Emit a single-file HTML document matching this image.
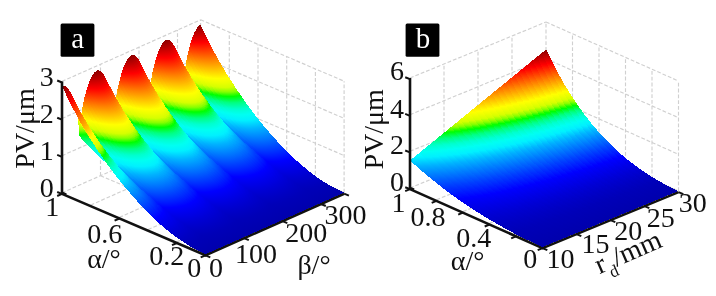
<!DOCTYPE html>
<html><head><meta charset="utf-8"><title>PV surfaces</title>
<style>
html,body{margin:0;padding:0;background:#fff;}
body{width:716px;height:296px;overflow:hidden;}
svg{display:block;}
text{font-family:"Liberation Serif","DejaVu Serif",serif;font-size:28px;fill:#111;}
.lab{fill:#fff;font-size:29px;}
</style></head><body>
<svg width="716" height="296" viewBox="0 0 716 296">
<defs>
<linearGradient id="a119" gradientUnits="userSpaceOnUse" x1="0" y1="24.9" x2="0" y2="192.9"><stop offset="0.000" stop-color="#8d0000"/><stop offset="0.049" stop-color="#c60000"/><stop offset="0.099" stop-color="#ff0000"/><stop offset="0.150" stop-color="#ff4000"/><stop offset="0.202" stop-color="#ff8000"/><stop offset="0.244" stop-color="#ffb100"/><stop offset="0.278" stop-color="#ffd800"/><stop offset="0.313" stop-color="#ffff00"/><stop offset="0.339" stop-color="#ecff00"/><stop offset="0.365" stop-color="#d5ff00"/><stop offset="0.392" stop-color="#87ff00"/><stop offset="0.419" stop-color="#00ff00"/><stop offset="0.455" stop-color="#00ff81"/><stop offset="0.492" stop-color="#00ffce"/><stop offset="0.524" stop-color="#00fff2"/><stop offset="0.558" stop-color="#00f0ff"/><stop offset="0.582" stop-color="#00d1ff"/><stop offset="0.606" stop-color="#00b2ff"/><stop offset="0.656" stop-color="#0080ff"/><stop offset="0.721" stop-color="#0040ff"/><stop offset="0.791" stop-color="#0000ff"/><stop offset="0.828" stop-color="#0000eb"/><stop offset="0.869" stop-color="#0000d6"/><stop offset="0.891" stop-color="#0000cc"/><stop offset="0.915" stop-color="#0000c2"/><stop offset="0.944" stop-color="#0000b8"/><stop offset="1.000" stop-color="#0000ad"/></linearGradient>
<linearGradient id="a118" gradientUnits="userSpaceOnUse" x1="0" y1="25.8" x2="0" y2="193.4"><stop offset="0.000" stop-color="#900000"/><stop offset="0.047" stop-color="#c60000"/><stop offset="0.097" stop-color="#ff0000"/><stop offset="0.148" stop-color="#ff4000"/><stop offset="0.200" stop-color="#ff8000"/><stop offset="0.242" stop-color="#ffb100"/><stop offset="0.276" stop-color="#ffd800"/><stop offset="0.311" stop-color="#ffff00"/><stop offset="0.337" stop-color="#ecff00"/><stop offset="0.363" stop-color="#d5ff00"/><stop offset="0.390" stop-color="#87ff00"/><stop offset="0.417" stop-color="#00ff00"/><stop offset="0.453" stop-color="#00ff81"/><stop offset="0.490" stop-color="#00ffce"/><stop offset="0.523" stop-color="#00fff2"/><stop offset="0.556" stop-color="#00f0ff"/><stop offset="0.581" stop-color="#00d1ff"/><stop offset="0.605" stop-color="#00b2ff"/><stop offset="0.655" stop-color="#0080ff"/><stop offset="0.720" stop-color="#0040ff"/><stop offset="0.790" stop-color="#0000ff"/><stop offset="0.828" stop-color="#0000eb"/><stop offset="0.868" stop-color="#0000d6"/><stop offset="0.891" stop-color="#0000cc"/><stop offset="0.915" stop-color="#0000c2"/><stop offset="0.944" stop-color="#0000b8"/><stop offset="1.000" stop-color="#0000ad"/></linearGradient>
<linearGradient id="a117" gradientUnits="userSpaceOnUse" x1="0" y1="27" x2="0" y2="193.9"><stop offset="0.000" stop-color="#960000"/><stop offset="0.041" stop-color="#c60000"/><stop offset="0.092" stop-color="#ff0000"/><stop offset="0.143" stop-color="#ff4000"/><stop offset="0.195" stop-color="#ff8000"/><stop offset="0.237" stop-color="#ffb100"/><stop offset="0.272" stop-color="#ffd800"/><stop offset="0.306" stop-color="#ffff00"/><stop offset="0.333" stop-color="#ecff00"/><stop offset="0.359" stop-color="#d5ff00"/><stop offset="0.386" stop-color="#87ff00"/><stop offset="0.413" stop-color="#00ff00"/><stop offset="0.450" stop-color="#00ff81"/><stop offset="0.487" stop-color="#00ffce"/><stop offset="0.520" stop-color="#00fff2"/><stop offset="0.554" stop-color="#00f0ff"/><stop offset="0.578" stop-color="#00d1ff"/><stop offset="0.603" stop-color="#00b2ff"/><stop offset="0.653" stop-color="#0080ff"/><stop offset="0.719" stop-color="#0040ff"/><stop offset="0.789" stop-color="#0000ff"/><stop offset="0.827" stop-color="#0000eb"/><stop offset="0.868" stop-color="#0000d6"/><stop offset="0.890" stop-color="#0000cc"/><stop offset="0.915" stop-color="#0000c2"/><stop offset="0.944" stop-color="#0000b8"/><stop offset="1.000" stop-color="#0000ad"/></linearGradient>
<linearGradient id="a116" gradientUnits="userSpaceOnUse" x1="0" y1="28.6" x2="0" y2="194.4"><stop offset="0.000" stop-color="#a00000"/><stop offset="0.033" stop-color="#c60000"/><stop offset="0.084" stop-color="#ff0000"/><stop offset="0.136" stop-color="#ff4000"/><stop offset="0.188" stop-color="#ff8000"/><stop offset="0.231" stop-color="#ffb100"/><stop offset="0.265" stop-color="#ffd800"/><stop offset="0.300" stop-color="#ffff00"/><stop offset="0.327" stop-color="#ecff00"/><stop offset="0.354" stop-color="#d5ff00"/><stop offset="0.381" stop-color="#87ff00"/><stop offset="0.408" stop-color="#00ff00"/><stop offset="0.445" stop-color="#00ff81"/><stop offset="0.483" stop-color="#00ffce"/><stop offset="0.516" stop-color="#00fff2"/><stop offset="0.550" stop-color="#00f0ff"/><stop offset="0.574" stop-color="#00d1ff"/><stop offset="0.599" stop-color="#00b2ff"/><stop offset="0.650" stop-color="#0080ff"/><stop offset="0.716" stop-color="#0040ff"/><stop offset="0.787" stop-color="#0000ff"/><stop offset="0.825" stop-color="#0000eb"/><stop offset="0.866" stop-color="#0000d6"/><stop offset="0.889" stop-color="#0000cc"/><stop offset="0.914" stop-color="#0000c2"/><stop offset="0.943" stop-color="#0000b8"/><stop offset="1.000" stop-color="#0000ad"/></linearGradient>
<linearGradient id="a115" gradientUnits="userSpaceOnUse" x1="0" y1="30.6" x2="0" y2="194.9"><stop offset="0.000" stop-color="#ac0000"/><stop offset="0.022" stop-color="#c60000"/><stop offset="0.074" stop-color="#ff0000"/><stop offset="0.126" stop-color="#ff4000"/><stop offset="0.179" stop-color="#ff8000"/><stop offset="0.222" stop-color="#ffb100"/><stop offset="0.257" stop-color="#ffd800"/><stop offset="0.292" stop-color="#ffff00"/><stop offset="0.319" stop-color="#ecff00"/><stop offset="0.346" stop-color="#d5ff00"/><stop offset="0.373" stop-color="#87ff00"/><stop offset="0.401" stop-color="#00ff00"/><stop offset="0.438" stop-color="#00ff81"/><stop offset="0.476" stop-color="#00ffce"/><stop offset="0.510" stop-color="#00fff2"/><stop offset="0.544" stop-color="#00f0ff"/><stop offset="0.569" stop-color="#00d1ff"/><stop offset="0.594" stop-color="#00b2ff"/><stop offset="0.646" stop-color="#0080ff"/><stop offset="0.713" stop-color="#0040ff"/><stop offset="0.784" stop-color="#0000ff"/><stop offset="0.823" stop-color="#0000eb"/><stop offset="0.865" stop-color="#0000d6"/><stop offset="0.888" stop-color="#0000cc"/><stop offset="0.913" stop-color="#0000c2"/><stop offset="0.943" stop-color="#0000b8"/><stop offset="1.000" stop-color="#0000ad"/></linearGradient>
<linearGradient id="a114" gradientUnits="userSpaceOnUse" x1="0" y1="33" x2="0" y2="195.4"><stop offset="0.000" stop-color="#bc0000"/><stop offset="0.008" stop-color="#c60000"/><stop offset="0.060" stop-color="#ff0000"/><stop offset="0.113" stop-color="#ff4000"/><stop offset="0.166" stop-color="#ff8000"/><stop offset="0.210" stop-color="#ffb100"/><stop offset="0.245" stop-color="#ffd800"/><stop offset="0.281" stop-color="#ffff00"/><stop offset="0.308" stop-color="#ecff00"/><stop offset="0.336" stop-color="#d5ff00"/><stop offset="0.363" stop-color="#87ff00"/><stop offset="0.391" stop-color="#00ff00"/><stop offset="0.429" stop-color="#00ff81"/><stop offset="0.468" stop-color="#00ffce"/><stop offset="0.502" stop-color="#00fff2"/><stop offset="0.537" stop-color="#00f0ff"/><stop offset="0.562" stop-color="#00d1ff"/><stop offset="0.588" stop-color="#00b2ff"/><stop offset="0.641" stop-color="#0080ff"/><stop offset="0.709" stop-color="#0040ff"/><stop offset="0.781" stop-color="#0000ff"/><stop offset="0.820" stop-color="#0000eb"/><stop offset="0.862" stop-color="#0000d6"/><stop offset="0.886" stop-color="#0000cc"/><stop offset="0.911" stop-color="#0000c2"/><stop offset="0.942" stop-color="#0000b8"/><stop offset="1.000" stop-color="#0000ad"/></linearGradient>
<linearGradient id="a113" gradientUnits="userSpaceOnUse" x1="0" y1="35.7" x2="0" y2="195.9"><stop offset="0.000" stop-color="#d00000"/><stop offset="0.043" stop-color="#ff0000"/><stop offset="0.097" stop-color="#ff4000"/><stop offset="0.151" stop-color="#ff8000"/><stop offset="0.195" stop-color="#ffb100"/><stop offset="0.231" stop-color="#ffd800"/><stop offset="0.267" stop-color="#ffff00"/><stop offset="0.295" stop-color="#ecff00"/><stop offset="0.323" stop-color="#d5ff00"/><stop offset="0.351" stop-color="#87ff00"/><stop offset="0.380" stop-color="#00ff00"/><stop offset="0.418" stop-color="#00ff81"/><stop offset="0.458" stop-color="#00ffce"/><stop offset="0.493" stop-color="#00fff2"/><stop offset="0.528" stop-color="#00f0ff"/><stop offset="0.554" stop-color="#00d1ff"/><stop offset="0.580" stop-color="#00b2ff"/><stop offset="0.634" stop-color="#0080ff"/><stop offset="0.703" stop-color="#0040ff"/><stop offset="0.777" stop-color="#0000ff"/><stop offset="0.817" stop-color="#0000eb"/><stop offset="0.860" stop-color="#0000d6"/><stop offset="0.883" stop-color="#0000cc"/><stop offset="0.910" stop-color="#0000c2"/><stop offset="0.940" stop-color="#0000b8"/><stop offset="1.000" stop-color="#0000ad"/></linearGradient>
<linearGradient id="a112" gradientUnits="userSpaceOnUse" x1="0" y1="38.9" x2="0" y2="196.5"><stop offset="0.000" stop-color="#e70000"/><stop offset="0.023" stop-color="#ff0000"/><stop offset="0.077" stop-color="#ff4000"/><stop offset="0.132" stop-color="#ff8000"/><stop offset="0.177" stop-color="#ffb100"/><stop offset="0.214" stop-color="#ffd800"/><stop offset="0.251" stop-color="#ffff00"/><stop offset="0.279" stop-color="#ecff00"/><stop offset="0.307" stop-color="#d5ff00"/><stop offset="0.336" stop-color="#87ff00"/><stop offset="0.365" stop-color="#00ff00"/><stop offset="0.405" stop-color="#00ff81"/><stop offset="0.445" stop-color="#00ffce"/><stop offset="0.481" stop-color="#00fff2"/><stop offset="0.517" stop-color="#00f0ff"/><stop offset="0.544" stop-color="#00d1ff"/><stop offset="0.571" stop-color="#00b2ff"/><stop offset="0.626" stop-color="#0080ff"/><stop offset="0.697" stop-color="#0040ff"/><stop offset="0.772" stop-color="#0000ff"/><stop offset="0.812" stop-color="#0000eb"/><stop offset="0.857" stop-color="#0000d6"/><stop offset="0.881" stop-color="#0000cc"/><stop offset="0.907" stop-color="#0000c2"/><stop offset="0.939" stop-color="#0000b8"/><stop offset="1.000" stop-color="#0000ad"/></linearGradient>
<linearGradient id="a111" gradientUnits="userSpaceOnUse" x1="0" y1="42.5" x2="0" y2="197"><stop offset="0.000" stop-color="#ff0200"/><stop offset="0.053" stop-color="#ff4000"/><stop offset="0.109" stop-color="#ff8000"/><stop offset="0.155" stop-color="#ffb100"/><stop offset="0.193" stop-color="#ffd800"/><stop offset="0.230" stop-color="#ffff00"/><stop offset="0.259" stop-color="#ecff00"/><stop offset="0.288" stop-color="#d5ff00"/><stop offset="0.318" stop-color="#87ff00"/><stop offset="0.348" stop-color="#00ff00"/><stop offset="0.388" stop-color="#00ff81"/><stop offset="0.430" stop-color="#00ffce"/><stop offset="0.467" stop-color="#00fff2"/><stop offset="0.504" stop-color="#00f0ff"/><stop offset="0.531" stop-color="#00d1ff"/><stop offset="0.559" stop-color="#00b2ff"/><stop offset="0.616" stop-color="#0080ff"/><stop offset="0.689" stop-color="#0040ff"/><stop offset="0.766" stop-color="#0000ff"/><stop offset="0.807" stop-color="#0000eb"/><stop offset="0.853" stop-color="#0000d6"/><stop offset="0.877" stop-color="#0000cc"/><stop offset="0.905" stop-color="#0000c2"/><stop offset="0.937" stop-color="#0000b8"/><stop offset="1.000" stop-color="#0000ad"/></linearGradient>
<linearGradient id="a110" gradientUnits="userSpaceOnUse" x1="0" y1="46.6" x2="0" y2="197.5"><stop offset="0.000" stop-color="#ff2400"/><stop offset="0.025" stop-color="#ff4000"/><stop offset="0.082" stop-color="#ff8000"/><stop offset="0.129" stop-color="#ffb100"/><stop offset="0.167" stop-color="#ffd800"/><stop offset="0.206" stop-color="#ffff00"/><stop offset="0.235" stop-color="#ecff00"/><stop offset="0.265" stop-color="#d5ff00"/><stop offset="0.296" stop-color="#87ff00"/><stop offset="0.326" stop-color="#00ff00"/><stop offset="0.368" stop-color="#00ff81"/><stop offset="0.411" stop-color="#00ffce"/><stop offset="0.449" stop-color="#00fff2"/><stop offset="0.488" stop-color="#00f0ff"/><stop offset="0.516" stop-color="#00d1ff"/><stop offset="0.545" stop-color="#00b2ff"/><stop offset="0.603" stop-color="#0080ff"/><stop offset="0.679" stop-color="#0040ff"/><stop offset="0.758" stop-color="#0000ff"/><stop offset="0.801" stop-color="#0000eb"/><stop offset="0.848" stop-color="#0000d6"/><stop offset="0.873" stop-color="#0000cc"/><stop offset="0.902" stop-color="#0000c2"/><stop offset="0.935" stop-color="#0000b8"/><stop offset="1.000" stop-color="#0000ad"/></linearGradient>
<linearGradient id="a109" gradientUnits="userSpaceOnUse" x1="0" y1="51.1" x2="0" y2="198"><stop offset="0.000" stop-color="#ff4b00"/><stop offset="0.049" stop-color="#ff8000"/><stop offset="0.097" stop-color="#ffb100"/><stop offset="0.136" stop-color="#ffd800"/><stop offset="0.176" stop-color="#ffff00"/><stop offset="0.206" stop-color="#ecff00"/><stop offset="0.237" stop-color="#d5ff00"/><stop offset="0.268" stop-color="#87ff00"/><stop offset="0.300" stop-color="#00ff00"/><stop offset="0.343" stop-color="#00ff81"/><stop offset="0.388" stop-color="#00ffce"/><stop offset="0.427" stop-color="#00fff2"/><stop offset="0.468" stop-color="#00f0ff"/><stop offset="0.497" stop-color="#00d1ff"/><stop offset="0.527" stop-color="#00b2ff"/><stop offset="0.589" stop-color="#0080ff"/><stop offset="0.668" stop-color="#0040ff"/><stop offset="0.750" stop-color="#0000ff"/><stop offset="0.794" stop-color="#0000eb"/><stop offset="0.842" stop-color="#0000d6"/><stop offset="0.869" stop-color="#0000cc"/><stop offset="0.898" stop-color="#0000c2"/><stop offset="0.932" stop-color="#0000b8"/><stop offset="1.000" stop-color="#0000ad"/></linearGradient>
<linearGradient id="a108" gradientUnits="userSpaceOnUse" x1="0" y1="56.3" x2="0" y2="198.5"><stop offset="0.000" stop-color="#ff7800"/><stop offset="0.008" stop-color="#ff8000"/><stop offset="0.057" stop-color="#ffb100"/><stop offset="0.097" stop-color="#ffd800"/><stop offset="0.138" stop-color="#ffff00"/><stop offset="0.170" stop-color="#ecff00"/><stop offset="0.202" stop-color="#d5ff00"/><stop offset="0.234" stop-color="#87ff00"/><stop offset="0.267" stop-color="#00ff00"/><stop offset="0.312" stop-color="#00ff81"/><stop offset="0.359" stop-color="#00ffce"/><stop offset="0.400" stop-color="#00fff2"/><stop offset="0.443" stop-color="#00f0ff"/><stop offset="0.474" stop-color="#00d1ff"/><stop offset="0.505" stop-color="#00b2ff"/><stop offset="0.570" stop-color="#0080ff"/><stop offset="0.654" stop-color="#0040ff"/><stop offset="0.739" stop-color="#0000ff"/><stop offset="0.785" stop-color="#0000eb"/><stop offset="0.835" stop-color="#0000d6"/><stop offset="0.863" stop-color="#0000cc"/><stop offset="0.893" stop-color="#0000c2"/><stop offset="0.929" stop-color="#0000b8"/><stop offset="1.000" stop-color="#0000ad"/></linearGradient>
<linearGradient id="a107" gradientUnits="userSpaceOnUse" x1="0" y1="62.3" x2="0" y2="199"><stop offset="0.000" stop-color="#ffaa00"/><stop offset="0.007" stop-color="#ffb100"/><stop offset="0.048" stop-color="#ffd800"/><stop offset="0.091" stop-color="#ffff00"/><stop offset="0.124" stop-color="#ecff00"/><stop offset="0.157" stop-color="#d5ff00"/><stop offset="0.191" stop-color="#87ff00"/><stop offset="0.225" stop-color="#00ff00"/><stop offset="0.272" stop-color="#00ff81"/><stop offset="0.321" stop-color="#00ffce"/><stop offset="0.365" stop-color="#00fff2"/><stop offset="0.410" stop-color="#00f0ff"/><stop offset="0.443" stop-color="#00d1ff"/><stop offset="0.477" stop-color="#00b2ff"/><stop offset="0.546" stop-color="#0080ff"/><stop offset="0.636" stop-color="#0040ff"/><stop offset="0.725" stop-color="#0000ff"/><stop offset="0.773" stop-color="#0000eb"/><stop offset="0.826" stop-color="#0000d6"/><stop offset="0.855" stop-color="#0000cc"/><stop offset="0.887" stop-color="#0000c2"/><stop offset="0.925" stop-color="#0000b8"/><stop offset="1.000" stop-color="#0000ad"/></linearGradient>
<linearGradient id="a106" gradientUnits="userSpaceOnUse" x1="0" y1="69.5" x2="0" y2="199.5"><stop offset="0.000" stop-color="#ffe700"/><stop offset="0.027" stop-color="#ffff00"/><stop offset="0.061" stop-color="#ecff00"/><stop offset="0.096" stop-color="#d5ff00"/><stop offset="0.131" stop-color="#87ff00"/><stop offset="0.167" stop-color="#00ff00"/><stop offset="0.217" stop-color="#00ff81"/><stop offset="0.269" stop-color="#00ffce"/><stop offset="0.316" stop-color="#00fff2"/><stop offset="0.365" stop-color="#00f0ff"/><stop offset="0.400" stop-color="#00d1ff"/><stop offset="0.437" stop-color="#00b2ff"/><stop offset="0.512" stop-color="#0080ff"/><stop offset="0.611" stop-color="#0040ff"/><stop offset="0.707" stop-color="#0000ff"/><stop offset="0.758" stop-color="#0000eb"/><stop offset="0.814" stop-color="#0000d6"/><stop offset="0.845" stop-color="#0000cc"/><stop offset="0.880" stop-color="#0000c2"/><stop offset="0.920" stop-color="#0000b8"/><stop offset="1.000" stop-color="#0000ad"/></linearGradient>
<linearGradient id="a105" gradientUnits="userSpaceOnUse" x1="0" y1="79.2" x2="0" y2="200"><stop offset="0.000" stop-color="#d0ff00"/><stop offset="0.035" stop-color="#87ff00"/><stop offset="0.073" stop-color="#00ff00"/><stop offset="0.127" stop-color="#00ff81"/><stop offset="0.183" stop-color="#00ffce"/><stop offset="0.234" stop-color="#00fff2"/><stop offset="0.288" stop-color="#00f0ff"/><stop offset="0.329" stop-color="#00d1ff"/><stop offset="0.370" stop-color="#00b2ff"/><stop offset="0.457" stop-color="#0080ff"/><stop offset="0.571" stop-color="#0040ff"/><stop offset="0.679" stop-color="#0000ff"/><stop offset="0.735" stop-color="#0000eb"/><stop offset="0.796" stop-color="#0000d6"/><stop offset="0.830" stop-color="#0000cc"/><stop offset="0.867" stop-color="#0000c2"/><stop offset="0.912" stop-color="#0000b8"/><stop offset="1.000" stop-color="#0000ad"/></linearGradient>
<linearGradient id="a104" gradientUnits="userSpaceOnUse" x1="0" y1="79.7" x2="0" y2="200.6"><stop offset="0.000" stop-color="#d0ff00"/><stop offset="0.035" stop-color="#87ff00"/><stop offset="0.073" stop-color="#00ff00"/><stop offset="0.127" stop-color="#00ff81"/><stop offset="0.183" stop-color="#00ffce"/><stop offset="0.234" stop-color="#00fff2"/><stop offset="0.288" stop-color="#00f0ff"/><stop offset="0.329" stop-color="#00d1ff"/><stop offset="0.370" stop-color="#00b2ff"/><stop offset="0.457" stop-color="#0080ff"/><stop offset="0.571" stop-color="#0040ff"/><stop offset="0.679" stop-color="#0000ff"/><stop offset="0.735" stop-color="#0000eb"/><stop offset="0.796" stop-color="#0000d6"/><stop offset="0.830" stop-color="#0000cc"/><stop offset="0.867" stop-color="#0000c2"/><stop offset="0.912" stop-color="#0000b8"/><stop offset="1.000" stop-color="#0000ad"/></linearGradient>
<linearGradient id="a103" gradientUnits="userSpaceOnUse" x1="0" y1="71" x2="0" y2="201.1"><stop offset="0.000" stop-color="#ffe700"/><stop offset="0.027" stop-color="#ffff00"/><stop offset="0.061" stop-color="#ecff00"/><stop offset="0.096" stop-color="#d5ff00"/><stop offset="0.131" stop-color="#87ff00"/><stop offset="0.167" stop-color="#00ff00"/><stop offset="0.217" stop-color="#00ff81"/><stop offset="0.269" stop-color="#00ffce"/><stop offset="0.316" stop-color="#00fff2"/><stop offset="0.365" stop-color="#00f0ff"/><stop offset="0.400" stop-color="#00d1ff"/><stop offset="0.437" stop-color="#00b2ff"/><stop offset="0.512" stop-color="#0080ff"/><stop offset="0.611" stop-color="#0040ff"/><stop offset="0.707" stop-color="#0000ff"/><stop offset="0.758" stop-color="#0000eb"/><stop offset="0.814" stop-color="#0000d6"/><stop offset="0.845" stop-color="#0000cc"/><stop offset="0.880" stop-color="#0000c2"/><stop offset="0.920" stop-color="#0000b8"/><stop offset="1.000" stop-color="#0000ad"/></linearGradient>
<linearGradient id="a102" gradientUnits="userSpaceOnUse" x1="0" y1="64.8" x2="0" y2="201.6"><stop offset="0.000" stop-color="#ffaa00"/><stop offset="0.007" stop-color="#ffb100"/><stop offset="0.048" stop-color="#ffd800"/><stop offset="0.091" stop-color="#ffff00"/><stop offset="0.124" stop-color="#ecff00"/><stop offset="0.157" stop-color="#d5ff00"/><stop offset="0.191" stop-color="#87ff00"/><stop offset="0.225" stop-color="#00ff00"/><stop offset="0.272" stop-color="#00ff81"/><stop offset="0.321" stop-color="#00ffce"/><stop offset="0.365" stop-color="#00fff2"/><stop offset="0.410" stop-color="#00f0ff"/><stop offset="0.443" stop-color="#00d1ff"/><stop offset="0.477" stop-color="#00b2ff"/><stop offset="0.546" stop-color="#0080ff"/><stop offset="0.636" stop-color="#0040ff"/><stop offset="0.725" stop-color="#0000ff"/><stop offset="0.773" stop-color="#0000eb"/><stop offset="0.826" stop-color="#0000d6"/><stop offset="0.855" stop-color="#0000cc"/><stop offset="0.887" stop-color="#0000c2"/><stop offset="0.925" stop-color="#0000b8"/><stop offset="1.000" stop-color="#0000ad"/></linearGradient>
<linearGradient id="a101" gradientUnits="userSpaceOnUse" x1="0" y1="59.9" x2="0" y2="202.1"><stop offset="0.000" stop-color="#ff7800"/><stop offset="0.008" stop-color="#ff8000"/><stop offset="0.057" stop-color="#ffb100"/><stop offset="0.097" stop-color="#ffd800"/><stop offset="0.138" stop-color="#ffff00"/><stop offset="0.170" stop-color="#ecff00"/><stop offset="0.202" stop-color="#d5ff00"/><stop offset="0.234" stop-color="#87ff00"/><stop offset="0.267" stop-color="#00ff00"/><stop offset="0.312" stop-color="#00ff81"/><stop offset="0.359" stop-color="#00ffce"/><stop offset="0.400" stop-color="#00fff2"/><stop offset="0.443" stop-color="#00f0ff"/><stop offset="0.474" stop-color="#00d1ff"/><stop offset="0.505" stop-color="#00b2ff"/><stop offset="0.570" stop-color="#0080ff"/><stop offset="0.654" stop-color="#0040ff"/><stop offset="0.739" stop-color="#0000ff"/><stop offset="0.785" stop-color="#0000eb"/><stop offset="0.835" stop-color="#0000d6"/><stop offset="0.863" stop-color="#0000cc"/><stop offset="0.893" stop-color="#0000c2"/><stop offset="0.929" stop-color="#0000b8"/><stop offset="1.000" stop-color="#0000ad"/></linearGradient>
<linearGradient id="a100" gradientUnits="userSpaceOnUse" x1="0" y1="55.7" x2="0" y2="202.6"><stop offset="0.000" stop-color="#ff4b00"/><stop offset="0.049" stop-color="#ff8000"/><stop offset="0.097" stop-color="#ffb100"/><stop offset="0.136" stop-color="#ffd800"/><stop offset="0.176" stop-color="#ffff00"/><stop offset="0.206" stop-color="#ecff00"/><stop offset="0.237" stop-color="#d5ff00"/><stop offset="0.268" stop-color="#87ff00"/><stop offset="0.300" stop-color="#00ff00"/><stop offset="0.343" stop-color="#00ff81"/><stop offset="0.388" stop-color="#00ffce"/><stop offset="0.427" stop-color="#00fff2"/><stop offset="0.468" stop-color="#00f0ff"/><stop offset="0.497" stop-color="#00d1ff"/><stop offset="0.527" stop-color="#00b2ff"/><stop offset="0.589" stop-color="#0080ff"/><stop offset="0.668" stop-color="#0040ff"/><stop offset="0.750" stop-color="#0000ff"/><stop offset="0.794" stop-color="#0000eb"/><stop offset="0.842" stop-color="#0000d6"/><stop offset="0.869" stop-color="#0000cc"/><stop offset="0.898" stop-color="#0000c2"/><stop offset="0.932" stop-color="#0000b8"/><stop offset="1.000" stop-color="#0000ad"/></linearGradient>
<linearGradient id="a99" gradientUnits="userSpaceOnUse" x1="0" y1="52.2" x2="0" y2="203.1"><stop offset="0.000" stop-color="#ff2400"/><stop offset="0.025" stop-color="#ff4000"/><stop offset="0.082" stop-color="#ff8000"/><stop offset="0.129" stop-color="#ffb100"/><stop offset="0.167" stop-color="#ffd800"/><stop offset="0.206" stop-color="#ffff00"/><stop offset="0.235" stop-color="#ecff00"/><stop offset="0.265" stop-color="#d5ff00"/><stop offset="0.296" stop-color="#87ff00"/><stop offset="0.326" stop-color="#00ff00"/><stop offset="0.368" stop-color="#00ff81"/><stop offset="0.411" stop-color="#00ffce"/><stop offset="0.449" stop-color="#00fff2"/><stop offset="0.488" stop-color="#00f0ff"/><stop offset="0.516" stop-color="#00d1ff"/><stop offset="0.545" stop-color="#00b2ff"/><stop offset="0.603" stop-color="#0080ff"/><stop offset="0.679" stop-color="#0040ff"/><stop offset="0.758" stop-color="#0000ff"/><stop offset="0.801" stop-color="#0000eb"/><stop offset="0.848" stop-color="#0000d6"/><stop offset="0.873" stop-color="#0000cc"/><stop offset="0.902" stop-color="#0000c2"/><stop offset="0.935" stop-color="#0000b8"/><stop offset="1.000" stop-color="#0000ad"/></linearGradient>
<linearGradient id="a98" gradientUnits="userSpaceOnUse" x1="0" y1="49.2" x2="0" y2="203.6"><stop offset="0.000" stop-color="#ff0200"/><stop offset="0.053" stop-color="#ff4000"/><stop offset="0.109" stop-color="#ff8000"/><stop offset="0.155" stop-color="#ffb100"/><stop offset="0.193" stop-color="#ffd800"/><stop offset="0.230" stop-color="#ffff00"/><stop offset="0.259" stop-color="#ecff00"/><stop offset="0.288" stop-color="#d5ff00"/><stop offset="0.318" stop-color="#87ff00"/><stop offset="0.348" stop-color="#00ff00"/><stop offset="0.388" stop-color="#00ff81"/><stop offset="0.430" stop-color="#00ffce"/><stop offset="0.467" stop-color="#00fff2"/><stop offset="0.504" stop-color="#00f0ff"/><stop offset="0.531" stop-color="#00d1ff"/><stop offset="0.559" stop-color="#00b2ff"/><stop offset="0.616" stop-color="#0080ff"/><stop offset="0.689" stop-color="#0040ff"/><stop offset="0.766" stop-color="#0000ff"/><stop offset="0.807" stop-color="#0000eb"/><stop offset="0.853" stop-color="#0000d6"/><stop offset="0.877" stop-color="#0000cc"/><stop offset="0.905" stop-color="#0000c2"/><stop offset="0.937" stop-color="#0000b8"/><stop offset="1.000" stop-color="#0000ad"/></linearGradient>
<linearGradient id="a97" gradientUnits="userSpaceOnUse" x1="0" y1="46.6" x2="0" y2="204.2"><stop offset="0.000" stop-color="#e70000"/><stop offset="0.023" stop-color="#ff0000"/><stop offset="0.077" stop-color="#ff4000"/><stop offset="0.132" stop-color="#ff8000"/><stop offset="0.177" stop-color="#ffb100"/><stop offset="0.214" stop-color="#ffd800"/><stop offset="0.251" stop-color="#ffff00"/><stop offset="0.279" stop-color="#ecff00"/><stop offset="0.307" stop-color="#d5ff00"/><stop offset="0.336" stop-color="#87ff00"/><stop offset="0.365" stop-color="#00ff00"/><stop offset="0.405" stop-color="#00ff81"/><stop offset="0.445" stop-color="#00ffce"/><stop offset="0.481" stop-color="#00fff2"/><stop offset="0.517" stop-color="#00f0ff"/><stop offset="0.544" stop-color="#00d1ff"/><stop offset="0.571" stop-color="#00b2ff"/><stop offset="0.626" stop-color="#0080ff"/><stop offset="0.697" stop-color="#0040ff"/><stop offset="0.772" stop-color="#0000ff"/><stop offset="0.812" stop-color="#0000eb"/><stop offset="0.857" stop-color="#0000d6"/><stop offset="0.881" stop-color="#0000cc"/><stop offset="0.907" stop-color="#0000c2"/><stop offset="0.939" stop-color="#0000b8"/><stop offset="1.000" stop-color="#0000ad"/></linearGradient>
<linearGradient id="a96" gradientUnits="userSpaceOnUse" x1="0" y1="44.5" x2="0" y2="204.7"><stop offset="0.000" stop-color="#d00000"/><stop offset="0.043" stop-color="#ff0000"/><stop offset="0.097" stop-color="#ff4000"/><stop offset="0.151" stop-color="#ff8000"/><stop offset="0.195" stop-color="#ffb100"/><stop offset="0.231" stop-color="#ffd800"/><stop offset="0.267" stop-color="#ffff00"/><stop offset="0.295" stop-color="#ecff00"/><stop offset="0.323" stop-color="#d5ff00"/><stop offset="0.351" stop-color="#87ff00"/><stop offset="0.380" stop-color="#00ff00"/><stop offset="0.418" stop-color="#00ff81"/><stop offset="0.458" stop-color="#00ffce"/><stop offset="0.493" stop-color="#00fff2"/><stop offset="0.528" stop-color="#00f0ff"/><stop offset="0.554" stop-color="#00d1ff"/><stop offset="0.580" stop-color="#00b2ff"/><stop offset="0.634" stop-color="#0080ff"/><stop offset="0.703" stop-color="#0040ff"/><stop offset="0.777" stop-color="#0000ff"/><stop offset="0.817" stop-color="#0000eb"/><stop offset="0.860" stop-color="#0000d6"/><stop offset="0.883" stop-color="#0000cc"/><stop offset="0.910" stop-color="#0000c2"/><stop offset="0.940" stop-color="#0000b8"/><stop offset="1.000" stop-color="#0000ad"/></linearGradient>
<linearGradient id="a95" gradientUnits="userSpaceOnUse" x1="0" y1="42.7" x2="0" y2="205.2"><stop offset="0.000" stop-color="#bc0000"/><stop offset="0.008" stop-color="#c60000"/><stop offset="0.060" stop-color="#ff0000"/><stop offset="0.113" stop-color="#ff4000"/><stop offset="0.166" stop-color="#ff8000"/><stop offset="0.210" stop-color="#ffb100"/><stop offset="0.245" stop-color="#ffd800"/><stop offset="0.281" stop-color="#ffff00"/><stop offset="0.308" stop-color="#ecff00"/><stop offset="0.336" stop-color="#d5ff00"/><stop offset="0.363" stop-color="#87ff00"/><stop offset="0.391" stop-color="#00ff00"/><stop offset="0.429" stop-color="#00ff81"/><stop offset="0.468" stop-color="#00ffce"/><stop offset="0.502" stop-color="#00fff2"/><stop offset="0.537" stop-color="#00f0ff"/><stop offset="0.562" stop-color="#00d1ff"/><stop offset="0.588" stop-color="#00b2ff"/><stop offset="0.641" stop-color="#0080ff"/><stop offset="0.709" stop-color="#0040ff"/><stop offset="0.781" stop-color="#0000ff"/><stop offset="0.820" stop-color="#0000eb"/><stop offset="0.862" stop-color="#0000d6"/><stop offset="0.886" stop-color="#0000cc"/><stop offset="0.911" stop-color="#0000c2"/><stop offset="0.942" stop-color="#0000b8"/><stop offset="1.000" stop-color="#0000ad"/></linearGradient>
<linearGradient id="a94" gradientUnits="userSpaceOnUse" x1="0" y1="41.4" x2="0" y2="205.7"><stop offset="0.000" stop-color="#ac0000"/><stop offset="0.022" stop-color="#c60000"/><stop offset="0.074" stop-color="#ff0000"/><stop offset="0.126" stop-color="#ff4000"/><stop offset="0.179" stop-color="#ff8000"/><stop offset="0.222" stop-color="#ffb100"/><stop offset="0.257" stop-color="#ffd800"/><stop offset="0.292" stop-color="#ffff00"/><stop offset="0.319" stop-color="#ecff00"/><stop offset="0.346" stop-color="#d5ff00"/><stop offset="0.373" stop-color="#87ff00"/><stop offset="0.401" stop-color="#00ff00"/><stop offset="0.438" stop-color="#00ff81"/><stop offset="0.476" stop-color="#00ffce"/><stop offset="0.510" stop-color="#00fff2"/><stop offset="0.544" stop-color="#00f0ff"/><stop offset="0.569" stop-color="#00d1ff"/><stop offset="0.594" stop-color="#00b2ff"/><stop offset="0.646" stop-color="#0080ff"/><stop offset="0.713" stop-color="#0040ff"/><stop offset="0.784" stop-color="#0000ff"/><stop offset="0.823" stop-color="#0000eb"/><stop offset="0.865" stop-color="#0000d6"/><stop offset="0.888" stop-color="#0000cc"/><stop offset="0.913" stop-color="#0000c2"/><stop offset="0.943" stop-color="#0000b8"/><stop offset="1.000" stop-color="#0000ad"/></linearGradient>
<linearGradient id="a93" gradientUnits="userSpaceOnUse" x1="0" y1="40.4" x2="0" y2="206.2"><stop offset="0.000" stop-color="#a00000"/><stop offset="0.033" stop-color="#c60000"/><stop offset="0.084" stop-color="#ff0000"/><stop offset="0.136" stop-color="#ff4000"/><stop offset="0.188" stop-color="#ff8000"/><stop offset="0.231" stop-color="#ffb100"/><stop offset="0.265" stop-color="#ffd800"/><stop offset="0.300" stop-color="#ffff00"/><stop offset="0.327" stop-color="#ecff00"/><stop offset="0.354" stop-color="#d5ff00"/><stop offset="0.381" stop-color="#87ff00"/><stop offset="0.408" stop-color="#00ff00"/><stop offset="0.445" stop-color="#00ff81"/><stop offset="0.483" stop-color="#00ffce"/><stop offset="0.516" stop-color="#00fff2"/><stop offset="0.550" stop-color="#00f0ff"/><stop offset="0.574" stop-color="#00d1ff"/><stop offset="0.599" stop-color="#00b2ff"/><stop offset="0.650" stop-color="#0080ff"/><stop offset="0.716" stop-color="#0040ff"/><stop offset="0.787" stop-color="#0000ff"/><stop offset="0.825" stop-color="#0000eb"/><stop offset="0.866" stop-color="#0000d6"/><stop offset="0.889" stop-color="#0000cc"/><stop offset="0.914" stop-color="#0000c2"/><stop offset="0.943" stop-color="#0000b8"/><stop offset="1.000" stop-color="#0000ad"/></linearGradient>
<linearGradient id="a92" gradientUnits="userSpaceOnUse" x1="0" y1="39.8" x2="0" y2="206.7"><stop offset="0.000" stop-color="#960000"/><stop offset="0.041" stop-color="#c60000"/><stop offset="0.092" stop-color="#ff0000"/><stop offset="0.143" stop-color="#ff4000"/><stop offset="0.195" stop-color="#ff8000"/><stop offset="0.237" stop-color="#ffb100"/><stop offset="0.272" stop-color="#ffd800"/><stop offset="0.306" stop-color="#ffff00"/><stop offset="0.333" stop-color="#ecff00"/><stop offset="0.359" stop-color="#d5ff00"/><stop offset="0.386" stop-color="#87ff00"/><stop offset="0.413" stop-color="#00ff00"/><stop offset="0.450" stop-color="#00ff81"/><stop offset="0.487" stop-color="#00ffce"/><stop offset="0.520" stop-color="#00fff2"/><stop offset="0.554" stop-color="#00f0ff"/><stop offset="0.578" stop-color="#00d1ff"/><stop offset="0.603" stop-color="#00b2ff"/><stop offset="0.653" stop-color="#0080ff"/><stop offset="0.719" stop-color="#0040ff"/><stop offset="0.789" stop-color="#0000ff"/><stop offset="0.827" stop-color="#0000eb"/><stop offset="0.868" stop-color="#0000d6"/><stop offset="0.890" stop-color="#0000cc"/><stop offset="0.915" stop-color="#0000c2"/><stop offset="0.944" stop-color="#0000b8"/><stop offset="1.000" stop-color="#0000ad"/></linearGradient>
<linearGradient id="a91" gradientUnits="userSpaceOnUse" x1="0" y1="39.6" x2="0" y2="207.2"><stop offset="0.000" stop-color="#900000"/><stop offset="0.047" stop-color="#c60000"/><stop offset="0.097" stop-color="#ff0000"/><stop offset="0.148" stop-color="#ff4000"/><stop offset="0.200" stop-color="#ff8000"/><stop offset="0.242" stop-color="#ffb100"/><stop offset="0.276" stop-color="#ffd800"/><stop offset="0.311" stop-color="#ffff00"/><stop offset="0.337" stop-color="#ecff00"/><stop offset="0.363" stop-color="#d5ff00"/><stop offset="0.390" stop-color="#87ff00"/><stop offset="0.417" stop-color="#00ff00"/><stop offset="0.453" stop-color="#00ff81"/><stop offset="0.490" stop-color="#00ffce"/><stop offset="0.523" stop-color="#00fff2"/><stop offset="0.556" stop-color="#00f0ff"/><stop offset="0.581" stop-color="#00d1ff"/><stop offset="0.605" stop-color="#00b2ff"/><stop offset="0.655" stop-color="#0080ff"/><stop offset="0.720" stop-color="#0040ff"/><stop offset="0.790" stop-color="#0000ff"/><stop offset="0.828" stop-color="#0000eb"/><stop offset="0.868" stop-color="#0000d6"/><stop offset="0.891" stop-color="#0000cc"/><stop offset="0.915" stop-color="#0000c2"/><stop offset="0.944" stop-color="#0000b8"/><stop offset="1.000" stop-color="#0000ad"/></linearGradient>
<linearGradient id="a90" gradientUnits="userSpaceOnUse" x1="0" y1="39.8" x2="0" y2="207.7"><stop offset="0.000" stop-color="#8d0000"/><stop offset="0.049" stop-color="#c60000"/><stop offset="0.099" stop-color="#ff0000"/><stop offset="0.150" stop-color="#ff4000"/><stop offset="0.202" stop-color="#ff8000"/><stop offset="0.244" stop-color="#ffb100"/><stop offset="0.278" stop-color="#ffd800"/><stop offset="0.313" stop-color="#ffff00"/><stop offset="0.339" stop-color="#ecff00"/><stop offset="0.365" stop-color="#d5ff00"/><stop offset="0.392" stop-color="#87ff00"/><stop offset="0.419" stop-color="#00ff00"/><stop offset="0.455" stop-color="#00ff81"/><stop offset="0.492" stop-color="#00ffce"/><stop offset="0.524" stop-color="#00fff2"/><stop offset="0.558" stop-color="#00f0ff"/><stop offset="0.582" stop-color="#00d1ff"/><stop offset="0.606" stop-color="#00b2ff"/><stop offset="0.656" stop-color="#0080ff"/><stop offset="0.721" stop-color="#0040ff"/><stop offset="0.791" stop-color="#0000ff"/><stop offset="0.828" stop-color="#0000eb"/><stop offset="0.869" stop-color="#0000d6"/><stop offset="0.891" stop-color="#0000cc"/><stop offset="0.915" stop-color="#0000c2"/><stop offset="0.944" stop-color="#0000b8"/><stop offset="1.000" stop-color="#0000ad"/></linearGradient>
<linearGradient id="a89" gradientUnits="userSpaceOnUse" x1="0" y1="40.3" x2="0" y2="208.3"><stop offset="0.000" stop-color="#8d0000"/><stop offset="0.049" stop-color="#c60000"/><stop offset="0.099" stop-color="#ff0000"/><stop offset="0.150" stop-color="#ff4000"/><stop offset="0.202" stop-color="#ff8000"/><stop offset="0.244" stop-color="#ffb100"/><stop offset="0.278" stop-color="#ffd800"/><stop offset="0.313" stop-color="#ffff00"/><stop offset="0.339" stop-color="#ecff00"/><stop offset="0.365" stop-color="#d5ff00"/><stop offset="0.392" stop-color="#87ff00"/><stop offset="0.419" stop-color="#00ff00"/><stop offset="0.455" stop-color="#00ff81"/><stop offset="0.492" stop-color="#00ffce"/><stop offset="0.524" stop-color="#00fff2"/><stop offset="0.558" stop-color="#00f0ff"/><stop offset="0.582" stop-color="#00d1ff"/><stop offset="0.606" stop-color="#00b2ff"/><stop offset="0.656" stop-color="#0080ff"/><stop offset="0.721" stop-color="#0040ff"/><stop offset="0.791" stop-color="#0000ff"/><stop offset="0.828" stop-color="#0000eb"/><stop offset="0.869" stop-color="#0000d6"/><stop offset="0.891" stop-color="#0000cc"/><stop offset="0.915" stop-color="#0000c2"/><stop offset="0.944" stop-color="#0000b8"/><stop offset="1.000" stop-color="#0000ad"/></linearGradient>
<linearGradient id="a88" gradientUnits="userSpaceOnUse" x1="0" y1="41.2" x2="0" y2="208.8"><stop offset="0.000" stop-color="#900000"/><stop offset="0.047" stop-color="#c60000"/><stop offset="0.097" stop-color="#ff0000"/><stop offset="0.148" stop-color="#ff4000"/><stop offset="0.200" stop-color="#ff8000"/><stop offset="0.242" stop-color="#ffb100"/><stop offset="0.276" stop-color="#ffd800"/><stop offset="0.311" stop-color="#ffff00"/><stop offset="0.337" stop-color="#ecff00"/><stop offset="0.363" stop-color="#d5ff00"/><stop offset="0.390" stop-color="#87ff00"/><stop offset="0.417" stop-color="#00ff00"/><stop offset="0.453" stop-color="#00ff81"/><stop offset="0.490" stop-color="#00ffce"/><stop offset="0.523" stop-color="#00fff2"/><stop offset="0.556" stop-color="#00f0ff"/><stop offset="0.581" stop-color="#00d1ff"/><stop offset="0.605" stop-color="#00b2ff"/><stop offset="0.655" stop-color="#0080ff"/><stop offset="0.720" stop-color="#0040ff"/><stop offset="0.790" stop-color="#0000ff"/><stop offset="0.828" stop-color="#0000eb"/><stop offset="0.868" stop-color="#0000d6"/><stop offset="0.891" stop-color="#0000cc"/><stop offset="0.915" stop-color="#0000c2"/><stop offset="0.944" stop-color="#0000b8"/><stop offset="1.000" stop-color="#0000ad"/></linearGradient>
<linearGradient id="a87" gradientUnits="userSpaceOnUse" x1="0" y1="42.4" x2="0" y2="209.3"><stop offset="0.000" stop-color="#960000"/><stop offset="0.041" stop-color="#c60000"/><stop offset="0.092" stop-color="#ff0000"/><stop offset="0.143" stop-color="#ff4000"/><stop offset="0.195" stop-color="#ff8000"/><stop offset="0.237" stop-color="#ffb100"/><stop offset="0.272" stop-color="#ffd800"/><stop offset="0.306" stop-color="#ffff00"/><stop offset="0.333" stop-color="#ecff00"/><stop offset="0.359" stop-color="#d5ff00"/><stop offset="0.386" stop-color="#87ff00"/><stop offset="0.413" stop-color="#00ff00"/><stop offset="0.450" stop-color="#00ff81"/><stop offset="0.487" stop-color="#00ffce"/><stop offset="0.520" stop-color="#00fff2"/><stop offset="0.554" stop-color="#00f0ff"/><stop offset="0.578" stop-color="#00d1ff"/><stop offset="0.603" stop-color="#00b2ff"/><stop offset="0.653" stop-color="#0080ff"/><stop offset="0.719" stop-color="#0040ff"/><stop offset="0.789" stop-color="#0000ff"/><stop offset="0.827" stop-color="#0000eb"/><stop offset="0.868" stop-color="#0000d6"/><stop offset="0.890" stop-color="#0000cc"/><stop offset="0.915" stop-color="#0000c2"/><stop offset="0.944" stop-color="#0000b8"/><stop offset="1.000" stop-color="#0000ad"/></linearGradient>
<linearGradient id="a86" gradientUnits="userSpaceOnUse" x1="0" y1="44" x2="0" y2="209.8"><stop offset="0.000" stop-color="#a00000"/><stop offset="0.033" stop-color="#c60000"/><stop offset="0.084" stop-color="#ff0000"/><stop offset="0.136" stop-color="#ff4000"/><stop offset="0.188" stop-color="#ff8000"/><stop offset="0.231" stop-color="#ffb100"/><stop offset="0.265" stop-color="#ffd800"/><stop offset="0.300" stop-color="#ffff00"/><stop offset="0.327" stop-color="#ecff00"/><stop offset="0.354" stop-color="#d5ff00"/><stop offset="0.381" stop-color="#87ff00"/><stop offset="0.408" stop-color="#00ff00"/><stop offset="0.445" stop-color="#00ff81"/><stop offset="0.483" stop-color="#00ffce"/><stop offset="0.516" stop-color="#00fff2"/><stop offset="0.550" stop-color="#00f0ff"/><stop offset="0.574" stop-color="#00d1ff"/><stop offset="0.599" stop-color="#00b2ff"/><stop offset="0.650" stop-color="#0080ff"/><stop offset="0.716" stop-color="#0040ff"/><stop offset="0.787" stop-color="#0000ff"/><stop offset="0.825" stop-color="#0000eb"/><stop offset="0.866" stop-color="#0000d6"/><stop offset="0.889" stop-color="#0000cc"/><stop offset="0.914" stop-color="#0000c2"/><stop offset="0.943" stop-color="#0000b8"/><stop offset="1.000" stop-color="#0000ad"/></linearGradient>
<linearGradient id="a85" gradientUnits="userSpaceOnUse" x1="0" y1="46" x2="0" y2="210.3"><stop offset="0.000" stop-color="#ac0000"/><stop offset="0.022" stop-color="#c60000"/><stop offset="0.074" stop-color="#ff0000"/><stop offset="0.126" stop-color="#ff4000"/><stop offset="0.179" stop-color="#ff8000"/><stop offset="0.222" stop-color="#ffb100"/><stop offset="0.257" stop-color="#ffd800"/><stop offset="0.292" stop-color="#ffff00"/><stop offset="0.319" stop-color="#ecff00"/><stop offset="0.346" stop-color="#d5ff00"/><stop offset="0.373" stop-color="#87ff00"/><stop offset="0.401" stop-color="#00ff00"/><stop offset="0.438" stop-color="#00ff81"/><stop offset="0.476" stop-color="#00ffce"/><stop offset="0.510" stop-color="#00fff2"/><stop offset="0.544" stop-color="#00f0ff"/><stop offset="0.569" stop-color="#00d1ff"/><stop offset="0.594" stop-color="#00b2ff"/><stop offset="0.646" stop-color="#0080ff"/><stop offset="0.713" stop-color="#0040ff"/><stop offset="0.784" stop-color="#0000ff"/><stop offset="0.823" stop-color="#0000eb"/><stop offset="0.865" stop-color="#0000d6"/><stop offset="0.888" stop-color="#0000cc"/><stop offset="0.913" stop-color="#0000c2"/><stop offset="0.943" stop-color="#0000b8"/><stop offset="1.000" stop-color="#0000ad"/></linearGradient>
<linearGradient id="a84" gradientUnits="userSpaceOnUse" x1="0" y1="48.4" x2="0" y2="210.8"><stop offset="0.000" stop-color="#bc0000"/><stop offset="0.008" stop-color="#c60000"/><stop offset="0.060" stop-color="#ff0000"/><stop offset="0.113" stop-color="#ff4000"/><stop offset="0.166" stop-color="#ff8000"/><stop offset="0.210" stop-color="#ffb100"/><stop offset="0.245" stop-color="#ffd800"/><stop offset="0.281" stop-color="#ffff00"/><stop offset="0.308" stop-color="#ecff00"/><stop offset="0.336" stop-color="#d5ff00"/><stop offset="0.363" stop-color="#87ff00"/><stop offset="0.391" stop-color="#00ff00"/><stop offset="0.429" stop-color="#00ff81"/><stop offset="0.468" stop-color="#00ffce"/><stop offset="0.502" stop-color="#00fff2"/><stop offset="0.537" stop-color="#00f0ff"/><stop offset="0.562" stop-color="#00d1ff"/><stop offset="0.588" stop-color="#00b2ff"/><stop offset="0.641" stop-color="#0080ff"/><stop offset="0.709" stop-color="#0040ff"/><stop offset="0.781" stop-color="#0000ff"/><stop offset="0.820" stop-color="#0000eb"/><stop offset="0.862" stop-color="#0000d6"/><stop offset="0.886" stop-color="#0000cc"/><stop offset="0.911" stop-color="#0000c2"/><stop offset="0.942" stop-color="#0000b8"/><stop offset="1.000" stop-color="#0000ad"/></linearGradient>
<linearGradient id="a83" gradientUnits="userSpaceOnUse" x1="0" y1="51.1" x2="0" y2="211.3"><stop offset="0.000" stop-color="#d00000"/><stop offset="0.043" stop-color="#ff0000"/><stop offset="0.097" stop-color="#ff4000"/><stop offset="0.151" stop-color="#ff8000"/><stop offset="0.195" stop-color="#ffb100"/><stop offset="0.231" stop-color="#ffd800"/><stop offset="0.267" stop-color="#ffff00"/><stop offset="0.295" stop-color="#ecff00"/><stop offset="0.323" stop-color="#d5ff00"/><stop offset="0.351" stop-color="#87ff00"/><stop offset="0.380" stop-color="#00ff00"/><stop offset="0.418" stop-color="#00ff81"/><stop offset="0.458" stop-color="#00ffce"/><stop offset="0.493" stop-color="#00fff2"/><stop offset="0.528" stop-color="#00f0ff"/><stop offset="0.554" stop-color="#00d1ff"/><stop offset="0.580" stop-color="#00b2ff"/><stop offset="0.634" stop-color="#0080ff"/><stop offset="0.703" stop-color="#0040ff"/><stop offset="0.777" stop-color="#0000ff"/><stop offset="0.817" stop-color="#0000eb"/><stop offset="0.860" stop-color="#0000d6"/><stop offset="0.883" stop-color="#0000cc"/><stop offset="0.910" stop-color="#0000c2"/><stop offset="0.940" stop-color="#0000b8"/><stop offset="1.000" stop-color="#0000ad"/></linearGradient>
<linearGradient id="a82" gradientUnits="userSpaceOnUse" x1="0" y1="54.3" x2="0" y2="211.9"><stop offset="0.000" stop-color="#e70000"/><stop offset="0.023" stop-color="#ff0000"/><stop offset="0.077" stop-color="#ff4000"/><stop offset="0.132" stop-color="#ff8000"/><stop offset="0.177" stop-color="#ffb100"/><stop offset="0.214" stop-color="#ffd800"/><stop offset="0.251" stop-color="#ffff00"/><stop offset="0.279" stop-color="#ecff00"/><stop offset="0.307" stop-color="#d5ff00"/><stop offset="0.336" stop-color="#87ff00"/><stop offset="0.365" stop-color="#00ff00"/><stop offset="0.405" stop-color="#00ff81"/><stop offset="0.445" stop-color="#00ffce"/><stop offset="0.481" stop-color="#00fff2"/><stop offset="0.517" stop-color="#00f0ff"/><stop offset="0.544" stop-color="#00d1ff"/><stop offset="0.571" stop-color="#00b2ff"/><stop offset="0.626" stop-color="#0080ff"/><stop offset="0.697" stop-color="#0040ff"/><stop offset="0.772" stop-color="#0000ff"/><stop offset="0.812" stop-color="#0000eb"/><stop offset="0.857" stop-color="#0000d6"/><stop offset="0.881" stop-color="#0000cc"/><stop offset="0.907" stop-color="#0000c2"/><stop offset="0.939" stop-color="#0000b8"/><stop offset="1.000" stop-color="#0000ad"/></linearGradient>
<linearGradient id="a81" gradientUnits="userSpaceOnUse" x1="0" y1="57.9" x2="0" y2="212.4"><stop offset="0.000" stop-color="#ff0200"/><stop offset="0.053" stop-color="#ff4000"/><stop offset="0.109" stop-color="#ff8000"/><stop offset="0.155" stop-color="#ffb100"/><stop offset="0.193" stop-color="#ffd800"/><stop offset="0.230" stop-color="#ffff00"/><stop offset="0.259" stop-color="#ecff00"/><stop offset="0.288" stop-color="#d5ff00"/><stop offset="0.318" stop-color="#87ff00"/><stop offset="0.348" stop-color="#00ff00"/><stop offset="0.388" stop-color="#00ff81"/><stop offset="0.430" stop-color="#00ffce"/><stop offset="0.467" stop-color="#00fff2"/><stop offset="0.504" stop-color="#00f0ff"/><stop offset="0.531" stop-color="#00d1ff"/><stop offset="0.559" stop-color="#00b2ff"/><stop offset="0.616" stop-color="#0080ff"/><stop offset="0.689" stop-color="#0040ff"/><stop offset="0.766" stop-color="#0000ff"/><stop offset="0.807" stop-color="#0000eb"/><stop offset="0.853" stop-color="#0000d6"/><stop offset="0.877" stop-color="#0000cc"/><stop offset="0.905" stop-color="#0000c2"/><stop offset="0.937" stop-color="#0000b8"/><stop offset="1.000" stop-color="#0000ad"/></linearGradient>
<linearGradient id="a80" gradientUnits="userSpaceOnUse" x1="0" y1="62" x2="0" y2="212.9"><stop offset="0.000" stop-color="#ff2400"/><stop offset="0.025" stop-color="#ff4000"/><stop offset="0.082" stop-color="#ff8000"/><stop offset="0.129" stop-color="#ffb100"/><stop offset="0.167" stop-color="#ffd800"/><stop offset="0.206" stop-color="#ffff00"/><stop offset="0.235" stop-color="#ecff00"/><stop offset="0.265" stop-color="#d5ff00"/><stop offset="0.296" stop-color="#87ff00"/><stop offset="0.326" stop-color="#00ff00"/><stop offset="0.368" stop-color="#00ff81"/><stop offset="0.411" stop-color="#00ffce"/><stop offset="0.449" stop-color="#00fff2"/><stop offset="0.488" stop-color="#00f0ff"/><stop offset="0.516" stop-color="#00d1ff"/><stop offset="0.545" stop-color="#00b2ff"/><stop offset="0.603" stop-color="#0080ff"/><stop offset="0.679" stop-color="#0040ff"/><stop offset="0.758" stop-color="#0000ff"/><stop offset="0.801" stop-color="#0000eb"/><stop offset="0.848" stop-color="#0000d6"/><stop offset="0.873" stop-color="#0000cc"/><stop offset="0.902" stop-color="#0000c2"/><stop offset="0.935" stop-color="#0000b8"/><stop offset="1.000" stop-color="#0000ad"/></linearGradient>
<linearGradient id="a79" gradientUnits="userSpaceOnUse" x1="0" y1="66.5" x2="0" y2="213.4"><stop offset="0.000" stop-color="#ff4b00"/><stop offset="0.049" stop-color="#ff8000"/><stop offset="0.097" stop-color="#ffb100"/><stop offset="0.136" stop-color="#ffd800"/><stop offset="0.176" stop-color="#ffff00"/><stop offset="0.206" stop-color="#ecff00"/><stop offset="0.237" stop-color="#d5ff00"/><stop offset="0.268" stop-color="#87ff00"/><stop offset="0.300" stop-color="#00ff00"/><stop offset="0.343" stop-color="#00ff81"/><stop offset="0.388" stop-color="#00ffce"/><stop offset="0.427" stop-color="#00fff2"/><stop offset="0.468" stop-color="#00f0ff"/><stop offset="0.497" stop-color="#00d1ff"/><stop offset="0.527" stop-color="#00b2ff"/><stop offset="0.589" stop-color="#0080ff"/><stop offset="0.668" stop-color="#0040ff"/><stop offset="0.750" stop-color="#0000ff"/><stop offset="0.794" stop-color="#0000eb"/><stop offset="0.842" stop-color="#0000d6"/><stop offset="0.869" stop-color="#0000cc"/><stop offset="0.898" stop-color="#0000c2"/><stop offset="0.932" stop-color="#0000b8"/><stop offset="1.000" stop-color="#0000ad"/></linearGradient>
<linearGradient id="a78" gradientUnits="userSpaceOnUse" x1="0" y1="71.7" x2="0" y2="213.9"><stop offset="0.000" stop-color="#ff7800"/><stop offset="0.008" stop-color="#ff8000"/><stop offset="0.057" stop-color="#ffb100"/><stop offset="0.097" stop-color="#ffd800"/><stop offset="0.138" stop-color="#ffff00"/><stop offset="0.170" stop-color="#ecff00"/><stop offset="0.202" stop-color="#d5ff00"/><stop offset="0.234" stop-color="#87ff00"/><stop offset="0.267" stop-color="#00ff00"/><stop offset="0.312" stop-color="#00ff81"/><stop offset="0.359" stop-color="#00ffce"/><stop offset="0.400" stop-color="#00fff2"/><stop offset="0.443" stop-color="#00f0ff"/><stop offset="0.474" stop-color="#00d1ff"/><stop offset="0.505" stop-color="#00b2ff"/><stop offset="0.570" stop-color="#0080ff"/><stop offset="0.654" stop-color="#0040ff"/><stop offset="0.739" stop-color="#0000ff"/><stop offset="0.785" stop-color="#0000eb"/><stop offset="0.835" stop-color="#0000d6"/><stop offset="0.863" stop-color="#0000cc"/><stop offset="0.893" stop-color="#0000c2"/><stop offset="0.929" stop-color="#0000b8"/><stop offset="1.000" stop-color="#0000ad"/></linearGradient>
<linearGradient id="a77" gradientUnits="userSpaceOnUse" x1="0" y1="77.7" x2="0" y2="214.4"><stop offset="0.000" stop-color="#ffaa00"/><stop offset="0.007" stop-color="#ffb100"/><stop offset="0.048" stop-color="#ffd800"/><stop offset="0.091" stop-color="#ffff00"/><stop offset="0.124" stop-color="#ecff00"/><stop offset="0.157" stop-color="#d5ff00"/><stop offset="0.191" stop-color="#87ff00"/><stop offset="0.225" stop-color="#00ff00"/><stop offset="0.272" stop-color="#00ff81"/><stop offset="0.321" stop-color="#00ffce"/><stop offset="0.365" stop-color="#00fff2"/><stop offset="0.410" stop-color="#00f0ff"/><stop offset="0.443" stop-color="#00d1ff"/><stop offset="0.477" stop-color="#00b2ff"/><stop offset="0.546" stop-color="#0080ff"/><stop offset="0.636" stop-color="#0040ff"/><stop offset="0.725" stop-color="#0000ff"/><stop offset="0.773" stop-color="#0000eb"/><stop offset="0.826" stop-color="#0000d6"/><stop offset="0.855" stop-color="#0000cc"/><stop offset="0.887" stop-color="#0000c2"/><stop offset="0.925" stop-color="#0000b8"/><stop offset="1.000" stop-color="#0000ad"/></linearGradient>
<linearGradient id="a76" gradientUnits="userSpaceOnUse" x1="0" y1="84.9" x2="0" y2="214.9"><stop offset="0.000" stop-color="#ffe700"/><stop offset="0.027" stop-color="#ffff00"/><stop offset="0.061" stop-color="#ecff00"/><stop offset="0.096" stop-color="#d5ff00"/><stop offset="0.131" stop-color="#87ff00"/><stop offset="0.167" stop-color="#00ff00"/><stop offset="0.217" stop-color="#00ff81"/><stop offset="0.269" stop-color="#00ffce"/><stop offset="0.316" stop-color="#00fff2"/><stop offset="0.365" stop-color="#00f0ff"/><stop offset="0.400" stop-color="#00d1ff"/><stop offset="0.437" stop-color="#00b2ff"/><stop offset="0.512" stop-color="#0080ff"/><stop offset="0.611" stop-color="#0040ff"/><stop offset="0.707" stop-color="#0000ff"/><stop offset="0.758" stop-color="#0000eb"/><stop offset="0.814" stop-color="#0000d6"/><stop offset="0.845" stop-color="#0000cc"/><stop offset="0.880" stop-color="#0000c2"/><stop offset="0.920" stop-color="#0000b8"/><stop offset="1.000" stop-color="#0000ad"/></linearGradient>
<linearGradient id="a75" gradientUnits="userSpaceOnUse" x1="0" y1="94.6" x2="0" y2="215.4"><stop offset="0.000" stop-color="#d0ff00"/><stop offset="0.035" stop-color="#87ff00"/><stop offset="0.073" stop-color="#00ff00"/><stop offset="0.127" stop-color="#00ff81"/><stop offset="0.183" stop-color="#00ffce"/><stop offset="0.234" stop-color="#00fff2"/><stop offset="0.288" stop-color="#00f0ff"/><stop offset="0.329" stop-color="#00d1ff"/><stop offset="0.370" stop-color="#00b2ff"/><stop offset="0.457" stop-color="#0080ff"/><stop offset="0.571" stop-color="#0040ff"/><stop offset="0.679" stop-color="#0000ff"/><stop offset="0.735" stop-color="#0000eb"/><stop offset="0.796" stop-color="#0000d6"/><stop offset="0.830" stop-color="#0000cc"/><stop offset="0.867" stop-color="#0000c2"/><stop offset="0.912" stop-color="#0000b8"/><stop offset="1.000" stop-color="#0000ad"/></linearGradient>
<linearGradient id="a74" gradientUnits="userSpaceOnUse" x1="0" y1="95.1" x2="0" y2="216"><stop offset="0.000" stop-color="#d0ff00"/><stop offset="0.035" stop-color="#87ff00"/><stop offset="0.073" stop-color="#00ff00"/><stop offset="0.127" stop-color="#00ff81"/><stop offset="0.183" stop-color="#00ffce"/><stop offset="0.234" stop-color="#00fff2"/><stop offset="0.288" stop-color="#00f0ff"/><stop offset="0.329" stop-color="#00d1ff"/><stop offset="0.370" stop-color="#00b2ff"/><stop offset="0.457" stop-color="#0080ff"/><stop offset="0.571" stop-color="#0040ff"/><stop offset="0.679" stop-color="#0000ff"/><stop offset="0.735" stop-color="#0000eb"/><stop offset="0.796" stop-color="#0000d6"/><stop offset="0.830" stop-color="#0000cc"/><stop offset="0.867" stop-color="#0000c2"/><stop offset="0.912" stop-color="#0000b8"/><stop offset="1.000" stop-color="#0000ad"/></linearGradient>
<linearGradient id="a73" gradientUnits="userSpaceOnUse" x1="0" y1="86.4" x2="0" y2="216.5"><stop offset="0.000" stop-color="#ffe700"/><stop offset="0.027" stop-color="#ffff00"/><stop offset="0.061" stop-color="#ecff00"/><stop offset="0.096" stop-color="#d5ff00"/><stop offset="0.131" stop-color="#87ff00"/><stop offset="0.167" stop-color="#00ff00"/><stop offset="0.217" stop-color="#00ff81"/><stop offset="0.269" stop-color="#00ffce"/><stop offset="0.316" stop-color="#00fff2"/><stop offset="0.365" stop-color="#00f0ff"/><stop offset="0.400" stop-color="#00d1ff"/><stop offset="0.437" stop-color="#00b2ff"/><stop offset="0.512" stop-color="#0080ff"/><stop offset="0.611" stop-color="#0040ff"/><stop offset="0.707" stop-color="#0000ff"/><stop offset="0.758" stop-color="#0000eb"/><stop offset="0.814" stop-color="#0000d6"/><stop offset="0.845" stop-color="#0000cc"/><stop offset="0.880" stop-color="#0000c2"/><stop offset="0.920" stop-color="#0000b8"/><stop offset="1.000" stop-color="#0000ad"/></linearGradient>
<linearGradient id="a72" gradientUnits="userSpaceOnUse" x1="0" y1="80.2" x2="0" y2="217"><stop offset="0.000" stop-color="#ffaa00"/><stop offset="0.007" stop-color="#ffb100"/><stop offset="0.048" stop-color="#ffd800"/><stop offset="0.091" stop-color="#ffff00"/><stop offset="0.124" stop-color="#ecff00"/><stop offset="0.157" stop-color="#d5ff00"/><stop offset="0.191" stop-color="#87ff00"/><stop offset="0.225" stop-color="#00ff00"/><stop offset="0.272" stop-color="#00ff81"/><stop offset="0.321" stop-color="#00ffce"/><stop offset="0.365" stop-color="#00fff2"/><stop offset="0.410" stop-color="#00f0ff"/><stop offset="0.443" stop-color="#00d1ff"/><stop offset="0.477" stop-color="#00b2ff"/><stop offset="0.546" stop-color="#0080ff"/><stop offset="0.636" stop-color="#0040ff"/><stop offset="0.725" stop-color="#0000ff"/><stop offset="0.773" stop-color="#0000eb"/><stop offset="0.826" stop-color="#0000d6"/><stop offset="0.855" stop-color="#0000cc"/><stop offset="0.887" stop-color="#0000c2"/><stop offset="0.925" stop-color="#0000b8"/><stop offset="1.000" stop-color="#0000ad"/></linearGradient>
<linearGradient id="a71" gradientUnits="userSpaceOnUse" x1="0" y1="75.3" x2="0" y2="217.5"><stop offset="0.000" stop-color="#ff7800"/><stop offset="0.008" stop-color="#ff8000"/><stop offset="0.057" stop-color="#ffb100"/><stop offset="0.097" stop-color="#ffd800"/><stop offset="0.138" stop-color="#ffff00"/><stop offset="0.170" stop-color="#ecff00"/><stop offset="0.202" stop-color="#d5ff00"/><stop offset="0.234" stop-color="#87ff00"/><stop offset="0.267" stop-color="#00ff00"/><stop offset="0.312" stop-color="#00ff81"/><stop offset="0.359" stop-color="#00ffce"/><stop offset="0.400" stop-color="#00fff2"/><stop offset="0.443" stop-color="#00f0ff"/><stop offset="0.474" stop-color="#00d1ff"/><stop offset="0.505" stop-color="#00b2ff"/><stop offset="0.570" stop-color="#0080ff"/><stop offset="0.654" stop-color="#0040ff"/><stop offset="0.739" stop-color="#0000ff"/><stop offset="0.785" stop-color="#0000eb"/><stop offset="0.835" stop-color="#0000d6"/><stop offset="0.863" stop-color="#0000cc"/><stop offset="0.893" stop-color="#0000c2"/><stop offset="0.929" stop-color="#0000b8"/><stop offset="1.000" stop-color="#0000ad"/></linearGradient>
<linearGradient id="a70" gradientUnits="userSpaceOnUse" x1="0" y1="71.1" x2="0" y2="218"><stop offset="0.000" stop-color="#ff4b00"/><stop offset="0.049" stop-color="#ff8000"/><stop offset="0.097" stop-color="#ffb100"/><stop offset="0.136" stop-color="#ffd800"/><stop offset="0.176" stop-color="#ffff00"/><stop offset="0.206" stop-color="#ecff00"/><stop offset="0.237" stop-color="#d5ff00"/><stop offset="0.268" stop-color="#87ff00"/><stop offset="0.300" stop-color="#00ff00"/><stop offset="0.343" stop-color="#00ff81"/><stop offset="0.388" stop-color="#00ffce"/><stop offset="0.427" stop-color="#00fff2"/><stop offset="0.468" stop-color="#00f0ff"/><stop offset="0.497" stop-color="#00d1ff"/><stop offset="0.527" stop-color="#00b2ff"/><stop offset="0.589" stop-color="#0080ff"/><stop offset="0.668" stop-color="#0040ff"/><stop offset="0.750" stop-color="#0000ff"/><stop offset="0.794" stop-color="#0000eb"/><stop offset="0.842" stop-color="#0000d6"/><stop offset="0.869" stop-color="#0000cc"/><stop offset="0.898" stop-color="#0000c2"/><stop offset="0.932" stop-color="#0000b8"/><stop offset="1.000" stop-color="#0000ad"/></linearGradient>
<linearGradient id="a69" gradientUnits="userSpaceOnUse" x1="0" y1="67.6" x2="0" y2="218.5"><stop offset="0.000" stop-color="#ff2400"/><stop offset="0.025" stop-color="#ff4000"/><stop offset="0.082" stop-color="#ff8000"/><stop offset="0.129" stop-color="#ffb100"/><stop offset="0.167" stop-color="#ffd800"/><stop offset="0.206" stop-color="#ffff00"/><stop offset="0.235" stop-color="#ecff00"/><stop offset="0.265" stop-color="#d5ff00"/><stop offset="0.296" stop-color="#87ff00"/><stop offset="0.326" stop-color="#00ff00"/><stop offset="0.368" stop-color="#00ff81"/><stop offset="0.411" stop-color="#00ffce"/><stop offset="0.449" stop-color="#00fff2"/><stop offset="0.488" stop-color="#00f0ff"/><stop offset="0.516" stop-color="#00d1ff"/><stop offset="0.545" stop-color="#00b2ff"/><stop offset="0.603" stop-color="#0080ff"/><stop offset="0.679" stop-color="#0040ff"/><stop offset="0.758" stop-color="#0000ff"/><stop offset="0.801" stop-color="#0000eb"/><stop offset="0.848" stop-color="#0000d6"/><stop offset="0.873" stop-color="#0000cc"/><stop offset="0.902" stop-color="#0000c2"/><stop offset="0.935" stop-color="#0000b8"/><stop offset="1.000" stop-color="#0000ad"/></linearGradient>
<linearGradient id="a68" gradientUnits="userSpaceOnUse" x1="0" y1="64.6" x2="0" y2="219"><stop offset="0.000" stop-color="#ff0200"/><stop offset="0.053" stop-color="#ff4000"/><stop offset="0.109" stop-color="#ff8000"/><stop offset="0.155" stop-color="#ffb100"/><stop offset="0.193" stop-color="#ffd800"/><stop offset="0.230" stop-color="#ffff00"/><stop offset="0.259" stop-color="#ecff00"/><stop offset="0.288" stop-color="#d5ff00"/><stop offset="0.318" stop-color="#87ff00"/><stop offset="0.348" stop-color="#00ff00"/><stop offset="0.388" stop-color="#00ff81"/><stop offset="0.430" stop-color="#00ffce"/><stop offset="0.467" stop-color="#00fff2"/><stop offset="0.504" stop-color="#00f0ff"/><stop offset="0.531" stop-color="#00d1ff"/><stop offset="0.559" stop-color="#00b2ff"/><stop offset="0.616" stop-color="#0080ff"/><stop offset="0.689" stop-color="#0040ff"/><stop offset="0.766" stop-color="#0000ff"/><stop offset="0.807" stop-color="#0000eb"/><stop offset="0.853" stop-color="#0000d6"/><stop offset="0.877" stop-color="#0000cc"/><stop offset="0.905" stop-color="#0000c2"/><stop offset="0.937" stop-color="#0000b8"/><stop offset="1.000" stop-color="#0000ad"/></linearGradient>
<linearGradient id="a67" gradientUnits="userSpaceOnUse" x1="0" y1="62" x2="0" y2="219.6"><stop offset="0.000" stop-color="#e70000"/><stop offset="0.023" stop-color="#ff0000"/><stop offset="0.077" stop-color="#ff4000"/><stop offset="0.132" stop-color="#ff8000"/><stop offset="0.177" stop-color="#ffb100"/><stop offset="0.214" stop-color="#ffd800"/><stop offset="0.251" stop-color="#ffff00"/><stop offset="0.279" stop-color="#ecff00"/><stop offset="0.307" stop-color="#d5ff00"/><stop offset="0.336" stop-color="#87ff00"/><stop offset="0.365" stop-color="#00ff00"/><stop offset="0.405" stop-color="#00ff81"/><stop offset="0.445" stop-color="#00ffce"/><stop offset="0.481" stop-color="#00fff2"/><stop offset="0.517" stop-color="#00f0ff"/><stop offset="0.544" stop-color="#00d1ff"/><stop offset="0.571" stop-color="#00b2ff"/><stop offset="0.626" stop-color="#0080ff"/><stop offset="0.697" stop-color="#0040ff"/><stop offset="0.772" stop-color="#0000ff"/><stop offset="0.812" stop-color="#0000eb"/><stop offset="0.857" stop-color="#0000d6"/><stop offset="0.881" stop-color="#0000cc"/><stop offset="0.907" stop-color="#0000c2"/><stop offset="0.939" stop-color="#0000b8"/><stop offset="1.000" stop-color="#0000ad"/></linearGradient>
<linearGradient id="a66" gradientUnits="userSpaceOnUse" x1="0" y1="59.9" x2="0" y2="220.1"><stop offset="0.000" stop-color="#d00000"/><stop offset="0.043" stop-color="#ff0000"/><stop offset="0.097" stop-color="#ff4000"/><stop offset="0.151" stop-color="#ff8000"/><stop offset="0.195" stop-color="#ffb100"/><stop offset="0.231" stop-color="#ffd800"/><stop offset="0.267" stop-color="#ffff00"/><stop offset="0.295" stop-color="#ecff00"/><stop offset="0.323" stop-color="#d5ff00"/><stop offset="0.351" stop-color="#87ff00"/><stop offset="0.380" stop-color="#00ff00"/><stop offset="0.418" stop-color="#00ff81"/><stop offset="0.458" stop-color="#00ffce"/><stop offset="0.493" stop-color="#00fff2"/><stop offset="0.528" stop-color="#00f0ff"/><stop offset="0.554" stop-color="#00d1ff"/><stop offset="0.580" stop-color="#00b2ff"/><stop offset="0.634" stop-color="#0080ff"/><stop offset="0.703" stop-color="#0040ff"/><stop offset="0.777" stop-color="#0000ff"/><stop offset="0.817" stop-color="#0000eb"/><stop offset="0.860" stop-color="#0000d6"/><stop offset="0.883" stop-color="#0000cc"/><stop offset="0.910" stop-color="#0000c2"/><stop offset="0.940" stop-color="#0000b8"/><stop offset="1.000" stop-color="#0000ad"/></linearGradient>
<linearGradient id="a65" gradientUnits="userSpaceOnUse" x1="0" y1="58.1" x2="0" y2="220.6"><stop offset="0.000" stop-color="#bc0000"/><stop offset="0.008" stop-color="#c60000"/><stop offset="0.060" stop-color="#ff0000"/><stop offset="0.113" stop-color="#ff4000"/><stop offset="0.166" stop-color="#ff8000"/><stop offset="0.210" stop-color="#ffb100"/><stop offset="0.245" stop-color="#ffd800"/><stop offset="0.281" stop-color="#ffff00"/><stop offset="0.308" stop-color="#ecff00"/><stop offset="0.336" stop-color="#d5ff00"/><stop offset="0.363" stop-color="#87ff00"/><stop offset="0.391" stop-color="#00ff00"/><stop offset="0.429" stop-color="#00ff81"/><stop offset="0.468" stop-color="#00ffce"/><stop offset="0.502" stop-color="#00fff2"/><stop offset="0.537" stop-color="#00f0ff"/><stop offset="0.562" stop-color="#00d1ff"/><stop offset="0.588" stop-color="#00b2ff"/><stop offset="0.641" stop-color="#0080ff"/><stop offset="0.709" stop-color="#0040ff"/><stop offset="0.781" stop-color="#0000ff"/><stop offset="0.820" stop-color="#0000eb"/><stop offset="0.862" stop-color="#0000d6"/><stop offset="0.886" stop-color="#0000cc"/><stop offset="0.911" stop-color="#0000c2"/><stop offset="0.942" stop-color="#0000b8"/><stop offset="1.000" stop-color="#0000ad"/></linearGradient>
<linearGradient id="a64" gradientUnits="userSpaceOnUse" x1="0" y1="56.8" x2="0" y2="221.1"><stop offset="0.000" stop-color="#ac0000"/><stop offset="0.022" stop-color="#c60000"/><stop offset="0.074" stop-color="#ff0000"/><stop offset="0.126" stop-color="#ff4000"/><stop offset="0.179" stop-color="#ff8000"/><stop offset="0.222" stop-color="#ffb100"/><stop offset="0.257" stop-color="#ffd800"/><stop offset="0.292" stop-color="#ffff00"/><stop offset="0.319" stop-color="#ecff00"/><stop offset="0.346" stop-color="#d5ff00"/><stop offset="0.373" stop-color="#87ff00"/><stop offset="0.401" stop-color="#00ff00"/><stop offset="0.438" stop-color="#00ff81"/><stop offset="0.476" stop-color="#00ffce"/><stop offset="0.510" stop-color="#00fff2"/><stop offset="0.544" stop-color="#00f0ff"/><stop offset="0.569" stop-color="#00d1ff"/><stop offset="0.594" stop-color="#00b2ff"/><stop offset="0.646" stop-color="#0080ff"/><stop offset="0.713" stop-color="#0040ff"/><stop offset="0.784" stop-color="#0000ff"/><stop offset="0.823" stop-color="#0000eb"/><stop offset="0.865" stop-color="#0000d6"/><stop offset="0.888" stop-color="#0000cc"/><stop offset="0.913" stop-color="#0000c2"/><stop offset="0.943" stop-color="#0000b8"/><stop offset="1.000" stop-color="#0000ad"/></linearGradient>
<linearGradient id="a63" gradientUnits="userSpaceOnUse" x1="0" y1="55.8" x2="0" y2="221.6"><stop offset="0.000" stop-color="#a00000"/><stop offset="0.033" stop-color="#c60000"/><stop offset="0.084" stop-color="#ff0000"/><stop offset="0.136" stop-color="#ff4000"/><stop offset="0.188" stop-color="#ff8000"/><stop offset="0.231" stop-color="#ffb100"/><stop offset="0.265" stop-color="#ffd800"/><stop offset="0.300" stop-color="#ffff00"/><stop offset="0.327" stop-color="#ecff00"/><stop offset="0.354" stop-color="#d5ff00"/><stop offset="0.381" stop-color="#87ff00"/><stop offset="0.408" stop-color="#00ff00"/><stop offset="0.445" stop-color="#00ff81"/><stop offset="0.483" stop-color="#00ffce"/><stop offset="0.516" stop-color="#00fff2"/><stop offset="0.550" stop-color="#00f0ff"/><stop offset="0.574" stop-color="#00d1ff"/><stop offset="0.599" stop-color="#00b2ff"/><stop offset="0.650" stop-color="#0080ff"/><stop offset="0.716" stop-color="#0040ff"/><stop offset="0.787" stop-color="#0000ff"/><stop offset="0.825" stop-color="#0000eb"/><stop offset="0.866" stop-color="#0000d6"/><stop offset="0.889" stop-color="#0000cc"/><stop offset="0.914" stop-color="#0000c2"/><stop offset="0.943" stop-color="#0000b8"/><stop offset="1.000" stop-color="#0000ad"/></linearGradient>
<linearGradient id="a62" gradientUnits="userSpaceOnUse" x1="0" y1="55.2" x2="0" y2="222.1"><stop offset="0.000" stop-color="#960000"/><stop offset="0.041" stop-color="#c60000"/><stop offset="0.092" stop-color="#ff0000"/><stop offset="0.143" stop-color="#ff4000"/><stop offset="0.195" stop-color="#ff8000"/><stop offset="0.237" stop-color="#ffb100"/><stop offset="0.272" stop-color="#ffd800"/><stop offset="0.306" stop-color="#ffff00"/><stop offset="0.333" stop-color="#ecff00"/><stop offset="0.359" stop-color="#d5ff00"/><stop offset="0.386" stop-color="#87ff00"/><stop offset="0.413" stop-color="#00ff00"/><stop offset="0.450" stop-color="#00ff81"/><stop offset="0.487" stop-color="#00ffce"/><stop offset="0.520" stop-color="#00fff2"/><stop offset="0.554" stop-color="#00f0ff"/><stop offset="0.578" stop-color="#00d1ff"/><stop offset="0.603" stop-color="#00b2ff"/><stop offset="0.653" stop-color="#0080ff"/><stop offset="0.719" stop-color="#0040ff"/><stop offset="0.789" stop-color="#0000ff"/><stop offset="0.827" stop-color="#0000eb"/><stop offset="0.868" stop-color="#0000d6"/><stop offset="0.890" stop-color="#0000cc"/><stop offset="0.915" stop-color="#0000c2"/><stop offset="0.944" stop-color="#0000b8"/><stop offset="1.000" stop-color="#0000ad"/></linearGradient>
<linearGradient id="a61" gradientUnits="userSpaceOnUse" x1="0" y1="55" x2="0" y2="222.6"><stop offset="0.000" stop-color="#900000"/><stop offset="0.047" stop-color="#c60000"/><stop offset="0.097" stop-color="#ff0000"/><stop offset="0.148" stop-color="#ff4000"/><stop offset="0.200" stop-color="#ff8000"/><stop offset="0.242" stop-color="#ffb100"/><stop offset="0.276" stop-color="#ffd800"/><stop offset="0.311" stop-color="#ffff00"/><stop offset="0.337" stop-color="#ecff00"/><stop offset="0.363" stop-color="#d5ff00"/><stop offset="0.390" stop-color="#87ff00"/><stop offset="0.417" stop-color="#00ff00"/><stop offset="0.453" stop-color="#00ff81"/><stop offset="0.490" stop-color="#00ffce"/><stop offset="0.523" stop-color="#00fff2"/><stop offset="0.556" stop-color="#00f0ff"/><stop offset="0.581" stop-color="#00d1ff"/><stop offset="0.605" stop-color="#00b2ff"/><stop offset="0.655" stop-color="#0080ff"/><stop offset="0.720" stop-color="#0040ff"/><stop offset="0.790" stop-color="#0000ff"/><stop offset="0.828" stop-color="#0000eb"/><stop offset="0.868" stop-color="#0000d6"/><stop offset="0.891" stop-color="#0000cc"/><stop offset="0.915" stop-color="#0000c2"/><stop offset="0.944" stop-color="#0000b8"/><stop offset="1.000" stop-color="#0000ad"/></linearGradient>
<linearGradient id="a60" gradientUnits="userSpaceOnUse" x1="0" y1="55.2" x2="0" y2="223.1"><stop offset="0.000" stop-color="#8d0000"/><stop offset="0.049" stop-color="#c60000"/><stop offset="0.099" stop-color="#ff0000"/><stop offset="0.150" stop-color="#ff4000"/><stop offset="0.202" stop-color="#ff8000"/><stop offset="0.244" stop-color="#ffb100"/><stop offset="0.278" stop-color="#ffd800"/><stop offset="0.313" stop-color="#ffff00"/><stop offset="0.339" stop-color="#ecff00"/><stop offset="0.365" stop-color="#d5ff00"/><stop offset="0.392" stop-color="#87ff00"/><stop offset="0.419" stop-color="#00ff00"/><stop offset="0.455" stop-color="#00ff81"/><stop offset="0.492" stop-color="#00ffce"/><stop offset="0.524" stop-color="#00fff2"/><stop offset="0.558" stop-color="#00f0ff"/><stop offset="0.582" stop-color="#00d1ff"/><stop offset="0.606" stop-color="#00b2ff"/><stop offset="0.656" stop-color="#0080ff"/><stop offset="0.721" stop-color="#0040ff"/><stop offset="0.791" stop-color="#0000ff"/><stop offset="0.828" stop-color="#0000eb"/><stop offset="0.869" stop-color="#0000d6"/><stop offset="0.891" stop-color="#0000cc"/><stop offset="0.915" stop-color="#0000c2"/><stop offset="0.944" stop-color="#0000b8"/><stop offset="1.000" stop-color="#0000ad"/></linearGradient>
<linearGradient id="a59" gradientUnits="userSpaceOnUse" x1="0" y1="55.7" x2="0" y2="223.7"><stop offset="0.000" stop-color="#8d0000"/><stop offset="0.049" stop-color="#c60000"/><stop offset="0.099" stop-color="#ff0000"/><stop offset="0.150" stop-color="#ff4000"/><stop offset="0.202" stop-color="#ff8000"/><stop offset="0.244" stop-color="#ffb100"/><stop offset="0.278" stop-color="#ffd800"/><stop offset="0.313" stop-color="#ffff00"/><stop offset="0.339" stop-color="#ecff00"/><stop offset="0.365" stop-color="#d5ff00"/><stop offset="0.392" stop-color="#87ff00"/><stop offset="0.419" stop-color="#00ff00"/><stop offset="0.455" stop-color="#00ff81"/><stop offset="0.492" stop-color="#00ffce"/><stop offset="0.524" stop-color="#00fff2"/><stop offset="0.558" stop-color="#00f0ff"/><stop offset="0.582" stop-color="#00d1ff"/><stop offset="0.606" stop-color="#00b2ff"/><stop offset="0.656" stop-color="#0080ff"/><stop offset="0.721" stop-color="#0040ff"/><stop offset="0.791" stop-color="#0000ff"/><stop offset="0.828" stop-color="#0000eb"/><stop offset="0.869" stop-color="#0000d6"/><stop offset="0.891" stop-color="#0000cc"/><stop offset="0.915" stop-color="#0000c2"/><stop offset="0.944" stop-color="#0000b8"/><stop offset="1.000" stop-color="#0000ad"/></linearGradient>
<linearGradient id="a58" gradientUnits="userSpaceOnUse" x1="0" y1="56.6" x2="0" y2="224.2"><stop offset="0.000" stop-color="#900000"/><stop offset="0.047" stop-color="#c60000"/><stop offset="0.097" stop-color="#ff0000"/><stop offset="0.148" stop-color="#ff4000"/><stop offset="0.200" stop-color="#ff8000"/><stop offset="0.242" stop-color="#ffb100"/><stop offset="0.276" stop-color="#ffd800"/><stop offset="0.311" stop-color="#ffff00"/><stop offset="0.337" stop-color="#ecff00"/><stop offset="0.363" stop-color="#d5ff00"/><stop offset="0.390" stop-color="#87ff00"/><stop offset="0.417" stop-color="#00ff00"/><stop offset="0.453" stop-color="#00ff81"/><stop offset="0.490" stop-color="#00ffce"/><stop offset="0.523" stop-color="#00fff2"/><stop offset="0.556" stop-color="#00f0ff"/><stop offset="0.581" stop-color="#00d1ff"/><stop offset="0.605" stop-color="#00b2ff"/><stop offset="0.655" stop-color="#0080ff"/><stop offset="0.720" stop-color="#0040ff"/><stop offset="0.790" stop-color="#0000ff"/><stop offset="0.828" stop-color="#0000eb"/><stop offset="0.868" stop-color="#0000d6"/><stop offset="0.891" stop-color="#0000cc"/><stop offset="0.915" stop-color="#0000c2"/><stop offset="0.944" stop-color="#0000b8"/><stop offset="1.000" stop-color="#0000ad"/></linearGradient>
<linearGradient id="a57" gradientUnits="userSpaceOnUse" x1="0" y1="57.8" x2="0" y2="224.7"><stop offset="0.000" stop-color="#960000"/><stop offset="0.041" stop-color="#c60000"/><stop offset="0.092" stop-color="#ff0000"/><stop offset="0.143" stop-color="#ff4000"/><stop offset="0.195" stop-color="#ff8000"/><stop offset="0.237" stop-color="#ffb100"/><stop offset="0.272" stop-color="#ffd800"/><stop offset="0.306" stop-color="#ffff00"/><stop offset="0.333" stop-color="#ecff00"/><stop offset="0.359" stop-color="#d5ff00"/><stop offset="0.386" stop-color="#87ff00"/><stop offset="0.413" stop-color="#00ff00"/><stop offset="0.450" stop-color="#00ff81"/><stop offset="0.487" stop-color="#00ffce"/><stop offset="0.520" stop-color="#00fff2"/><stop offset="0.554" stop-color="#00f0ff"/><stop offset="0.578" stop-color="#00d1ff"/><stop offset="0.603" stop-color="#00b2ff"/><stop offset="0.653" stop-color="#0080ff"/><stop offset="0.719" stop-color="#0040ff"/><stop offset="0.789" stop-color="#0000ff"/><stop offset="0.827" stop-color="#0000eb"/><stop offset="0.868" stop-color="#0000d6"/><stop offset="0.890" stop-color="#0000cc"/><stop offset="0.915" stop-color="#0000c2"/><stop offset="0.944" stop-color="#0000b8"/><stop offset="1.000" stop-color="#0000ad"/></linearGradient>
<linearGradient id="a56" gradientUnits="userSpaceOnUse" x1="0" y1="59.4" x2="0" y2="225.2"><stop offset="0.000" stop-color="#a00000"/><stop offset="0.033" stop-color="#c60000"/><stop offset="0.084" stop-color="#ff0000"/><stop offset="0.136" stop-color="#ff4000"/><stop offset="0.188" stop-color="#ff8000"/><stop offset="0.231" stop-color="#ffb100"/><stop offset="0.265" stop-color="#ffd800"/><stop offset="0.300" stop-color="#ffff00"/><stop offset="0.327" stop-color="#ecff00"/><stop offset="0.354" stop-color="#d5ff00"/><stop offset="0.381" stop-color="#87ff00"/><stop offset="0.408" stop-color="#00ff00"/><stop offset="0.445" stop-color="#00ff81"/><stop offset="0.483" stop-color="#00ffce"/><stop offset="0.516" stop-color="#00fff2"/><stop offset="0.550" stop-color="#00f0ff"/><stop offset="0.574" stop-color="#00d1ff"/><stop offset="0.599" stop-color="#00b2ff"/><stop offset="0.650" stop-color="#0080ff"/><stop offset="0.716" stop-color="#0040ff"/><stop offset="0.787" stop-color="#0000ff"/><stop offset="0.825" stop-color="#0000eb"/><stop offset="0.866" stop-color="#0000d6"/><stop offset="0.889" stop-color="#0000cc"/><stop offset="0.914" stop-color="#0000c2"/><stop offset="0.943" stop-color="#0000b8"/><stop offset="1.000" stop-color="#0000ad"/></linearGradient>
<linearGradient id="a55" gradientUnits="userSpaceOnUse" x1="0" y1="61.4" x2="0" y2="225.7"><stop offset="0.000" stop-color="#ac0000"/><stop offset="0.022" stop-color="#c60000"/><stop offset="0.074" stop-color="#ff0000"/><stop offset="0.126" stop-color="#ff4000"/><stop offset="0.179" stop-color="#ff8000"/><stop offset="0.222" stop-color="#ffb100"/><stop offset="0.257" stop-color="#ffd800"/><stop offset="0.292" stop-color="#ffff00"/><stop offset="0.319" stop-color="#ecff00"/><stop offset="0.346" stop-color="#d5ff00"/><stop offset="0.373" stop-color="#87ff00"/><stop offset="0.401" stop-color="#00ff00"/><stop offset="0.438" stop-color="#00ff81"/><stop offset="0.476" stop-color="#00ffce"/><stop offset="0.510" stop-color="#00fff2"/><stop offset="0.544" stop-color="#00f0ff"/><stop offset="0.569" stop-color="#00d1ff"/><stop offset="0.594" stop-color="#00b2ff"/><stop offset="0.646" stop-color="#0080ff"/><stop offset="0.713" stop-color="#0040ff"/><stop offset="0.784" stop-color="#0000ff"/><stop offset="0.823" stop-color="#0000eb"/><stop offset="0.865" stop-color="#0000d6"/><stop offset="0.888" stop-color="#0000cc"/><stop offset="0.913" stop-color="#0000c2"/><stop offset="0.943" stop-color="#0000b8"/><stop offset="1.000" stop-color="#0000ad"/></linearGradient>
<linearGradient id="a54" gradientUnits="userSpaceOnUse" x1="0" y1="63.8" x2="0" y2="226.2"><stop offset="0.000" stop-color="#bc0000"/><stop offset="0.008" stop-color="#c60000"/><stop offset="0.060" stop-color="#ff0000"/><stop offset="0.113" stop-color="#ff4000"/><stop offset="0.166" stop-color="#ff8000"/><stop offset="0.210" stop-color="#ffb100"/><stop offset="0.245" stop-color="#ffd800"/><stop offset="0.281" stop-color="#ffff00"/><stop offset="0.308" stop-color="#ecff00"/><stop offset="0.336" stop-color="#d5ff00"/><stop offset="0.363" stop-color="#87ff00"/><stop offset="0.391" stop-color="#00ff00"/><stop offset="0.429" stop-color="#00ff81"/><stop offset="0.468" stop-color="#00ffce"/><stop offset="0.502" stop-color="#00fff2"/><stop offset="0.537" stop-color="#00f0ff"/><stop offset="0.562" stop-color="#00d1ff"/><stop offset="0.588" stop-color="#00b2ff"/><stop offset="0.641" stop-color="#0080ff"/><stop offset="0.709" stop-color="#0040ff"/><stop offset="0.781" stop-color="#0000ff"/><stop offset="0.820" stop-color="#0000eb"/><stop offset="0.862" stop-color="#0000d6"/><stop offset="0.886" stop-color="#0000cc"/><stop offset="0.911" stop-color="#0000c2"/><stop offset="0.942" stop-color="#0000b8"/><stop offset="1.000" stop-color="#0000ad"/></linearGradient>
<linearGradient id="a53" gradientUnits="userSpaceOnUse" x1="0" y1="66.5" x2="0" y2="226.7"><stop offset="0.000" stop-color="#d00000"/><stop offset="0.043" stop-color="#ff0000"/><stop offset="0.097" stop-color="#ff4000"/><stop offset="0.151" stop-color="#ff8000"/><stop offset="0.195" stop-color="#ffb100"/><stop offset="0.231" stop-color="#ffd800"/><stop offset="0.267" stop-color="#ffff00"/><stop offset="0.295" stop-color="#ecff00"/><stop offset="0.323" stop-color="#d5ff00"/><stop offset="0.351" stop-color="#87ff00"/><stop offset="0.380" stop-color="#00ff00"/><stop offset="0.418" stop-color="#00ff81"/><stop offset="0.458" stop-color="#00ffce"/><stop offset="0.493" stop-color="#00fff2"/><stop offset="0.528" stop-color="#00f0ff"/><stop offset="0.554" stop-color="#00d1ff"/><stop offset="0.580" stop-color="#00b2ff"/><stop offset="0.634" stop-color="#0080ff"/><stop offset="0.703" stop-color="#0040ff"/><stop offset="0.777" stop-color="#0000ff"/><stop offset="0.817" stop-color="#0000eb"/><stop offset="0.860" stop-color="#0000d6"/><stop offset="0.883" stop-color="#0000cc"/><stop offset="0.910" stop-color="#0000c2"/><stop offset="0.940" stop-color="#0000b8"/><stop offset="1.000" stop-color="#0000ad"/></linearGradient>
<linearGradient id="a52" gradientUnits="userSpaceOnUse" x1="0" y1="69.7" x2="0" y2="227.3"><stop offset="0.000" stop-color="#e70000"/><stop offset="0.023" stop-color="#ff0000"/><stop offset="0.077" stop-color="#ff4000"/><stop offset="0.132" stop-color="#ff8000"/><stop offset="0.177" stop-color="#ffb100"/><stop offset="0.214" stop-color="#ffd800"/><stop offset="0.251" stop-color="#ffff00"/><stop offset="0.279" stop-color="#ecff00"/><stop offset="0.307" stop-color="#d5ff00"/><stop offset="0.336" stop-color="#87ff00"/><stop offset="0.365" stop-color="#00ff00"/><stop offset="0.405" stop-color="#00ff81"/><stop offset="0.445" stop-color="#00ffce"/><stop offset="0.481" stop-color="#00fff2"/><stop offset="0.517" stop-color="#00f0ff"/><stop offset="0.544" stop-color="#00d1ff"/><stop offset="0.571" stop-color="#00b2ff"/><stop offset="0.626" stop-color="#0080ff"/><stop offset="0.697" stop-color="#0040ff"/><stop offset="0.772" stop-color="#0000ff"/><stop offset="0.812" stop-color="#0000eb"/><stop offset="0.857" stop-color="#0000d6"/><stop offset="0.881" stop-color="#0000cc"/><stop offset="0.907" stop-color="#0000c2"/><stop offset="0.939" stop-color="#0000b8"/><stop offset="1.000" stop-color="#0000ad"/></linearGradient>
<linearGradient id="a51" gradientUnits="userSpaceOnUse" x1="0" y1="73.3" x2="0" y2="227.8"><stop offset="0.000" stop-color="#ff0200"/><stop offset="0.053" stop-color="#ff4000"/><stop offset="0.109" stop-color="#ff8000"/><stop offset="0.155" stop-color="#ffb100"/><stop offset="0.193" stop-color="#ffd800"/><stop offset="0.230" stop-color="#ffff00"/><stop offset="0.259" stop-color="#ecff00"/><stop offset="0.288" stop-color="#d5ff00"/><stop offset="0.318" stop-color="#87ff00"/><stop offset="0.348" stop-color="#00ff00"/><stop offset="0.388" stop-color="#00ff81"/><stop offset="0.430" stop-color="#00ffce"/><stop offset="0.467" stop-color="#00fff2"/><stop offset="0.504" stop-color="#00f0ff"/><stop offset="0.531" stop-color="#00d1ff"/><stop offset="0.559" stop-color="#00b2ff"/><stop offset="0.616" stop-color="#0080ff"/><stop offset="0.689" stop-color="#0040ff"/><stop offset="0.766" stop-color="#0000ff"/><stop offset="0.807" stop-color="#0000eb"/><stop offset="0.853" stop-color="#0000d6"/><stop offset="0.877" stop-color="#0000cc"/><stop offset="0.905" stop-color="#0000c2"/><stop offset="0.937" stop-color="#0000b8"/><stop offset="1.000" stop-color="#0000ad"/></linearGradient>
<linearGradient id="a50" gradientUnits="userSpaceOnUse" x1="0" y1="77.4" x2="0" y2="228.3"><stop offset="0.000" stop-color="#ff2400"/><stop offset="0.025" stop-color="#ff4000"/><stop offset="0.082" stop-color="#ff8000"/><stop offset="0.129" stop-color="#ffb100"/><stop offset="0.167" stop-color="#ffd800"/><stop offset="0.206" stop-color="#ffff00"/><stop offset="0.235" stop-color="#ecff00"/><stop offset="0.265" stop-color="#d5ff00"/><stop offset="0.296" stop-color="#87ff00"/><stop offset="0.326" stop-color="#00ff00"/><stop offset="0.368" stop-color="#00ff81"/><stop offset="0.411" stop-color="#00ffce"/><stop offset="0.449" stop-color="#00fff2"/><stop offset="0.488" stop-color="#00f0ff"/><stop offset="0.516" stop-color="#00d1ff"/><stop offset="0.545" stop-color="#00b2ff"/><stop offset="0.603" stop-color="#0080ff"/><stop offset="0.679" stop-color="#0040ff"/><stop offset="0.758" stop-color="#0000ff"/><stop offset="0.801" stop-color="#0000eb"/><stop offset="0.848" stop-color="#0000d6"/><stop offset="0.873" stop-color="#0000cc"/><stop offset="0.902" stop-color="#0000c2"/><stop offset="0.935" stop-color="#0000b8"/><stop offset="1.000" stop-color="#0000ad"/></linearGradient>
<linearGradient id="a49" gradientUnits="userSpaceOnUse" x1="0" y1="81.9" x2="0" y2="228.8"><stop offset="0.000" stop-color="#ff4b00"/><stop offset="0.049" stop-color="#ff8000"/><stop offset="0.097" stop-color="#ffb100"/><stop offset="0.136" stop-color="#ffd800"/><stop offset="0.176" stop-color="#ffff00"/><stop offset="0.206" stop-color="#ecff00"/><stop offset="0.237" stop-color="#d5ff00"/><stop offset="0.268" stop-color="#87ff00"/><stop offset="0.300" stop-color="#00ff00"/><stop offset="0.343" stop-color="#00ff81"/><stop offset="0.388" stop-color="#00ffce"/><stop offset="0.427" stop-color="#00fff2"/><stop offset="0.468" stop-color="#00f0ff"/><stop offset="0.497" stop-color="#00d1ff"/><stop offset="0.527" stop-color="#00b2ff"/><stop offset="0.589" stop-color="#0080ff"/><stop offset="0.668" stop-color="#0040ff"/><stop offset="0.750" stop-color="#0000ff"/><stop offset="0.794" stop-color="#0000eb"/><stop offset="0.842" stop-color="#0000d6"/><stop offset="0.869" stop-color="#0000cc"/><stop offset="0.898" stop-color="#0000c2"/><stop offset="0.932" stop-color="#0000b8"/><stop offset="1.000" stop-color="#0000ad"/></linearGradient>
<linearGradient id="a48" gradientUnits="userSpaceOnUse" x1="0" y1="87.1" x2="0" y2="229.3"><stop offset="0.000" stop-color="#ff7800"/><stop offset="0.008" stop-color="#ff8000"/><stop offset="0.057" stop-color="#ffb100"/><stop offset="0.097" stop-color="#ffd800"/><stop offset="0.138" stop-color="#ffff00"/><stop offset="0.170" stop-color="#ecff00"/><stop offset="0.202" stop-color="#d5ff00"/><stop offset="0.234" stop-color="#87ff00"/><stop offset="0.267" stop-color="#00ff00"/><stop offset="0.312" stop-color="#00ff81"/><stop offset="0.359" stop-color="#00ffce"/><stop offset="0.400" stop-color="#00fff2"/><stop offset="0.443" stop-color="#00f0ff"/><stop offset="0.474" stop-color="#00d1ff"/><stop offset="0.505" stop-color="#00b2ff"/><stop offset="0.570" stop-color="#0080ff"/><stop offset="0.654" stop-color="#0040ff"/><stop offset="0.739" stop-color="#0000ff"/><stop offset="0.785" stop-color="#0000eb"/><stop offset="0.835" stop-color="#0000d6"/><stop offset="0.863" stop-color="#0000cc"/><stop offset="0.893" stop-color="#0000c2"/><stop offset="0.929" stop-color="#0000b8"/><stop offset="1.000" stop-color="#0000ad"/></linearGradient>
<linearGradient id="a47" gradientUnits="userSpaceOnUse" x1="0" y1="93.1" x2="0" y2="229.8"><stop offset="0.000" stop-color="#ffaa00"/><stop offset="0.007" stop-color="#ffb100"/><stop offset="0.048" stop-color="#ffd800"/><stop offset="0.091" stop-color="#ffff00"/><stop offset="0.124" stop-color="#ecff00"/><stop offset="0.157" stop-color="#d5ff00"/><stop offset="0.191" stop-color="#87ff00"/><stop offset="0.225" stop-color="#00ff00"/><stop offset="0.272" stop-color="#00ff81"/><stop offset="0.321" stop-color="#00ffce"/><stop offset="0.365" stop-color="#00fff2"/><stop offset="0.410" stop-color="#00f0ff"/><stop offset="0.443" stop-color="#00d1ff"/><stop offset="0.477" stop-color="#00b2ff"/><stop offset="0.546" stop-color="#0080ff"/><stop offset="0.636" stop-color="#0040ff"/><stop offset="0.725" stop-color="#0000ff"/><stop offset="0.773" stop-color="#0000eb"/><stop offset="0.826" stop-color="#0000d6"/><stop offset="0.855" stop-color="#0000cc"/><stop offset="0.887" stop-color="#0000c2"/><stop offset="0.925" stop-color="#0000b8"/><stop offset="1.000" stop-color="#0000ad"/></linearGradient>
<linearGradient id="a46" gradientUnits="userSpaceOnUse" x1="0" y1="100.3" x2="0" y2="230.3"><stop offset="0.000" stop-color="#ffe700"/><stop offset="0.027" stop-color="#ffff00"/><stop offset="0.061" stop-color="#ecff00"/><stop offset="0.096" stop-color="#d5ff00"/><stop offset="0.131" stop-color="#87ff00"/><stop offset="0.167" stop-color="#00ff00"/><stop offset="0.217" stop-color="#00ff81"/><stop offset="0.269" stop-color="#00ffce"/><stop offset="0.316" stop-color="#00fff2"/><stop offset="0.365" stop-color="#00f0ff"/><stop offset="0.400" stop-color="#00d1ff"/><stop offset="0.437" stop-color="#00b2ff"/><stop offset="0.512" stop-color="#0080ff"/><stop offset="0.611" stop-color="#0040ff"/><stop offset="0.707" stop-color="#0000ff"/><stop offset="0.758" stop-color="#0000eb"/><stop offset="0.814" stop-color="#0000d6"/><stop offset="0.845" stop-color="#0000cc"/><stop offset="0.880" stop-color="#0000c2"/><stop offset="0.920" stop-color="#0000b8"/><stop offset="1.000" stop-color="#0000ad"/></linearGradient>
<linearGradient id="a45" gradientUnits="userSpaceOnUse" x1="0" y1="110" x2="0" y2="230.8"><stop offset="0.000" stop-color="#d0ff00"/><stop offset="0.035" stop-color="#87ff00"/><stop offset="0.073" stop-color="#00ff00"/><stop offset="0.127" stop-color="#00ff81"/><stop offset="0.183" stop-color="#00ffce"/><stop offset="0.234" stop-color="#00fff2"/><stop offset="0.288" stop-color="#00f0ff"/><stop offset="0.329" stop-color="#00d1ff"/><stop offset="0.370" stop-color="#00b2ff"/><stop offset="0.457" stop-color="#0080ff"/><stop offset="0.571" stop-color="#0040ff"/><stop offset="0.679" stop-color="#0000ff"/><stop offset="0.735" stop-color="#0000eb"/><stop offset="0.796" stop-color="#0000d6"/><stop offset="0.830" stop-color="#0000cc"/><stop offset="0.867" stop-color="#0000c2"/><stop offset="0.912" stop-color="#0000b8"/><stop offset="1.000" stop-color="#0000ad"/></linearGradient>
<linearGradient id="a44" gradientUnits="userSpaceOnUse" x1="0" y1="110.5" x2="0" y2="231.4"><stop offset="0.000" stop-color="#d0ff00"/><stop offset="0.035" stop-color="#87ff00"/><stop offset="0.073" stop-color="#00ff00"/><stop offset="0.127" stop-color="#00ff81"/><stop offset="0.183" stop-color="#00ffce"/><stop offset="0.234" stop-color="#00fff2"/><stop offset="0.288" stop-color="#00f0ff"/><stop offset="0.329" stop-color="#00d1ff"/><stop offset="0.370" stop-color="#00b2ff"/><stop offset="0.457" stop-color="#0080ff"/><stop offset="0.571" stop-color="#0040ff"/><stop offset="0.679" stop-color="#0000ff"/><stop offset="0.735" stop-color="#0000eb"/><stop offset="0.796" stop-color="#0000d6"/><stop offset="0.830" stop-color="#0000cc"/><stop offset="0.867" stop-color="#0000c2"/><stop offset="0.912" stop-color="#0000b8"/><stop offset="1.000" stop-color="#0000ad"/></linearGradient>
<linearGradient id="a43" gradientUnits="userSpaceOnUse" x1="0" y1="101.8" x2="0" y2="231.9"><stop offset="0.000" stop-color="#ffe700"/><stop offset="0.027" stop-color="#ffff00"/><stop offset="0.061" stop-color="#ecff00"/><stop offset="0.096" stop-color="#d5ff00"/><stop offset="0.131" stop-color="#87ff00"/><stop offset="0.167" stop-color="#00ff00"/><stop offset="0.217" stop-color="#00ff81"/><stop offset="0.269" stop-color="#00ffce"/><stop offset="0.316" stop-color="#00fff2"/><stop offset="0.365" stop-color="#00f0ff"/><stop offset="0.400" stop-color="#00d1ff"/><stop offset="0.437" stop-color="#00b2ff"/><stop offset="0.512" stop-color="#0080ff"/><stop offset="0.611" stop-color="#0040ff"/><stop offset="0.707" stop-color="#0000ff"/><stop offset="0.758" stop-color="#0000eb"/><stop offset="0.814" stop-color="#0000d6"/><stop offset="0.845" stop-color="#0000cc"/><stop offset="0.880" stop-color="#0000c2"/><stop offset="0.920" stop-color="#0000b8"/><stop offset="1.000" stop-color="#0000ad"/></linearGradient>
<linearGradient id="a42" gradientUnits="userSpaceOnUse" x1="0" y1="95.6" x2="0" y2="232.4"><stop offset="0.000" stop-color="#ffaa00"/><stop offset="0.007" stop-color="#ffb100"/><stop offset="0.048" stop-color="#ffd800"/><stop offset="0.091" stop-color="#ffff00"/><stop offset="0.124" stop-color="#ecff00"/><stop offset="0.157" stop-color="#d5ff00"/><stop offset="0.191" stop-color="#87ff00"/><stop offset="0.225" stop-color="#00ff00"/><stop offset="0.272" stop-color="#00ff81"/><stop offset="0.321" stop-color="#00ffce"/><stop offset="0.365" stop-color="#00fff2"/><stop offset="0.410" stop-color="#00f0ff"/><stop offset="0.443" stop-color="#00d1ff"/><stop offset="0.477" stop-color="#00b2ff"/><stop offset="0.546" stop-color="#0080ff"/><stop offset="0.636" stop-color="#0040ff"/><stop offset="0.725" stop-color="#0000ff"/><stop offset="0.773" stop-color="#0000eb"/><stop offset="0.826" stop-color="#0000d6"/><stop offset="0.855" stop-color="#0000cc"/><stop offset="0.887" stop-color="#0000c2"/><stop offset="0.925" stop-color="#0000b8"/><stop offset="1.000" stop-color="#0000ad"/></linearGradient>
<linearGradient id="a41" gradientUnits="userSpaceOnUse" x1="0" y1="90.7" x2="0" y2="232.9"><stop offset="0.000" stop-color="#ff7800"/><stop offset="0.008" stop-color="#ff8000"/><stop offset="0.057" stop-color="#ffb100"/><stop offset="0.097" stop-color="#ffd800"/><stop offset="0.138" stop-color="#ffff00"/><stop offset="0.170" stop-color="#ecff00"/><stop offset="0.202" stop-color="#d5ff00"/><stop offset="0.234" stop-color="#87ff00"/><stop offset="0.267" stop-color="#00ff00"/><stop offset="0.312" stop-color="#00ff81"/><stop offset="0.359" stop-color="#00ffce"/><stop offset="0.400" stop-color="#00fff2"/><stop offset="0.443" stop-color="#00f0ff"/><stop offset="0.474" stop-color="#00d1ff"/><stop offset="0.505" stop-color="#00b2ff"/><stop offset="0.570" stop-color="#0080ff"/><stop offset="0.654" stop-color="#0040ff"/><stop offset="0.739" stop-color="#0000ff"/><stop offset="0.785" stop-color="#0000eb"/><stop offset="0.835" stop-color="#0000d6"/><stop offset="0.863" stop-color="#0000cc"/><stop offset="0.893" stop-color="#0000c2"/><stop offset="0.929" stop-color="#0000b8"/><stop offset="1.000" stop-color="#0000ad"/></linearGradient>
<linearGradient id="a40" gradientUnits="userSpaceOnUse" x1="0" y1="86.5" x2="0" y2="233.4"><stop offset="0.000" stop-color="#ff4b00"/><stop offset="0.049" stop-color="#ff8000"/><stop offset="0.097" stop-color="#ffb100"/><stop offset="0.136" stop-color="#ffd800"/><stop offset="0.176" stop-color="#ffff00"/><stop offset="0.206" stop-color="#ecff00"/><stop offset="0.237" stop-color="#d5ff00"/><stop offset="0.268" stop-color="#87ff00"/><stop offset="0.300" stop-color="#00ff00"/><stop offset="0.343" stop-color="#00ff81"/><stop offset="0.388" stop-color="#00ffce"/><stop offset="0.427" stop-color="#00fff2"/><stop offset="0.468" stop-color="#00f0ff"/><stop offset="0.497" stop-color="#00d1ff"/><stop offset="0.527" stop-color="#00b2ff"/><stop offset="0.589" stop-color="#0080ff"/><stop offset="0.668" stop-color="#0040ff"/><stop offset="0.750" stop-color="#0000ff"/><stop offset="0.794" stop-color="#0000eb"/><stop offset="0.842" stop-color="#0000d6"/><stop offset="0.869" stop-color="#0000cc"/><stop offset="0.898" stop-color="#0000c2"/><stop offset="0.932" stop-color="#0000b8"/><stop offset="1.000" stop-color="#0000ad"/></linearGradient>
<linearGradient id="a39" gradientUnits="userSpaceOnUse" x1="0" y1="83" x2="0" y2="233.9"><stop offset="0.000" stop-color="#ff2400"/><stop offset="0.025" stop-color="#ff4000"/><stop offset="0.082" stop-color="#ff8000"/><stop offset="0.129" stop-color="#ffb100"/><stop offset="0.167" stop-color="#ffd800"/><stop offset="0.206" stop-color="#ffff00"/><stop offset="0.235" stop-color="#ecff00"/><stop offset="0.265" stop-color="#d5ff00"/><stop offset="0.296" stop-color="#87ff00"/><stop offset="0.326" stop-color="#00ff00"/><stop offset="0.368" stop-color="#00ff81"/><stop offset="0.411" stop-color="#00ffce"/><stop offset="0.449" stop-color="#00fff2"/><stop offset="0.488" stop-color="#00f0ff"/><stop offset="0.516" stop-color="#00d1ff"/><stop offset="0.545" stop-color="#00b2ff"/><stop offset="0.603" stop-color="#0080ff"/><stop offset="0.679" stop-color="#0040ff"/><stop offset="0.758" stop-color="#0000ff"/><stop offset="0.801" stop-color="#0000eb"/><stop offset="0.848" stop-color="#0000d6"/><stop offset="0.873" stop-color="#0000cc"/><stop offset="0.902" stop-color="#0000c2"/><stop offset="0.935" stop-color="#0000b8"/><stop offset="1.000" stop-color="#0000ad"/></linearGradient>
<linearGradient id="a38" gradientUnits="userSpaceOnUse" x1="0" y1="80" x2="0" y2="234.4"><stop offset="0.000" stop-color="#ff0200"/><stop offset="0.053" stop-color="#ff4000"/><stop offset="0.109" stop-color="#ff8000"/><stop offset="0.155" stop-color="#ffb100"/><stop offset="0.193" stop-color="#ffd800"/><stop offset="0.230" stop-color="#ffff00"/><stop offset="0.259" stop-color="#ecff00"/><stop offset="0.288" stop-color="#d5ff00"/><stop offset="0.318" stop-color="#87ff00"/><stop offset="0.348" stop-color="#00ff00"/><stop offset="0.388" stop-color="#00ff81"/><stop offset="0.430" stop-color="#00ffce"/><stop offset="0.467" stop-color="#00fff2"/><stop offset="0.504" stop-color="#00f0ff"/><stop offset="0.531" stop-color="#00d1ff"/><stop offset="0.559" stop-color="#00b2ff"/><stop offset="0.616" stop-color="#0080ff"/><stop offset="0.689" stop-color="#0040ff"/><stop offset="0.766" stop-color="#0000ff"/><stop offset="0.807" stop-color="#0000eb"/><stop offset="0.853" stop-color="#0000d6"/><stop offset="0.877" stop-color="#0000cc"/><stop offset="0.905" stop-color="#0000c2"/><stop offset="0.937" stop-color="#0000b8"/><stop offset="1.000" stop-color="#0000ad"/></linearGradient>
<linearGradient id="a37" gradientUnits="userSpaceOnUse" x1="0" y1="77.4" x2="0" y2="235"><stop offset="0.000" stop-color="#e70000"/><stop offset="0.023" stop-color="#ff0000"/><stop offset="0.077" stop-color="#ff4000"/><stop offset="0.132" stop-color="#ff8000"/><stop offset="0.177" stop-color="#ffb100"/><stop offset="0.214" stop-color="#ffd800"/><stop offset="0.251" stop-color="#ffff00"/><stop offset="0.279" stop-color="#ecff00"/><stop offset="0.307" stop-color="#d5ff00"/><stop offset="0.336" stop-color="#87ff00"/><stop offset="0.365" stop-color="#00ff00"/><stop offset="0.405" stop-color="#00ff81"/><stop offset="0.445" stop-color="#00ffce"/><stop offset="0.481" stop-color="#00fff2"/><stop offset="0.517" stop-color="#00f0ff"/><stop offset="0.544" stop-color="#00d1ff"/><stop offset="0.571" stop-color="#00b2ff"/><stop offset="0.626" stop-color="#0080ff"/><stop offset="0.697" stop-color="#0040ff"/><stop offset="0.772" stop-color="#0000ff"/><stop offset="0.812" stop-color="#0000eb"/><stop offset="0.857" stop-color="#0000d6"/><stop offset="0.881" stop-color="#0000cc"/><stop offset="0.907" stop-color="#0000c2"/><stop offset="0.939" stop-color="#0000b8"/><stop offset="1.000" stop-color="#0000ad"/></linearGradient>
<linearGradient id="a36" gradientUnits="userSpaceOnUse" x1="0" y1="75.3" x2="0" y2="235.5"><stop offset="0.000" stop-color="#d00000"/><stop offset="0.043" stop-color="#ff0000"/><stop offset="0.097" stop-color="#ff4000"/><stop offset="0.151" stop-color="#ff8000"/><stop offset="0.195" stop-color="#ffb100"/><stop offset="0.231" stop-color="#ffd800"/><stop offset="0.267" stop-color="#ffff00"/><stop offset="0.295" stop-color="#ecff00"/><stop offset="0.323" stop-color="#d5ff00"/><stop offset="0.351" stop-color="#87ff00"/><stop offset="0.380" stop-color="#00ff00"/><stop offset="0.418" stop-color="#00ff81"/><stop offset="0.458" stop-color="#00ffce"/><stop offset="0.493" stop-color="#00fff2"/><stop offset="0.528" stop-color="#00f0ff"/><stop offset="0.554" stop-color="#00d1ff"/><stop offset="0.580" stop-color="#00b2ff"/><stop offset="0.634" stop-color="#0080ff"/><stop offset="0.703" stop-color="#0040ff"/><stop offset="0.777" stop-color="#0000ff"/><stop offset="0.817" stop-color="#0000eb"/><stop offset="0.860" stop-color="#0000d6"/><stop offset="0.883" stop-color="#0000cc"/><stop offset="0.910" stop-color="#0000c2"/><stop offset="0.940" stop-color="#0000b8"/><stop offset="1.000" stop-color="#0000ad"/></linearGradient>
<linearGradient id="a35" gradientUnits="userSpaceOnUse" x1="0" y1="73.5" x2="0" y2="236"><stop offset="0.000" stop-color="#bc0000"/><stop offset="0.008" stop-color="#c60000"/><stop offset="0.060" stop-color="#ff0000"/><stop offset="0.113" stop-color="#ff4000"/><stop offset="0.166" stop-color="#ff8000"/><stop offset="0.210" stop-color="#ffb100"/><stop offset="0.245" stop-color="#ffd800"/><stop offset="0.281" stop-color="#ffff00"/><stop offset="0.308" stop-color="#ecff00"/><stop offset="0.336" stop-color="#d5ff00"/><stop offset="0.363" stop-color="#87ff00"/><stop offset="0.391" stop-color="#00ff00"/><stop offset="0.429" stop-color="#00ff81"/><stop offset="0.468" stop-color="#00ffce"/><stop offset="0.502" stop-color="#00fff2"/><stop offset="0.537" stop-color="#00f0ff"/><stop offset="0.562" stop-color="#00d1ff"/><stop offset="0.588" stop-color="#00b2ff"/><stop offset="0.641" stop-color="#0080ff"/><stop offset="0.709" stop-color="#0040ff"/><stop offset="0.781" stop-color="#0000ff"/><stop offset="0.820" stop-color="#0000eb"/><stop offset="0.862" stop-color="#0000d6"/><stop offset="0.886" stop-color="#0000cc"/><stop offset="0.911" stop-color="#0000c2"/><stop offset="0.942" stop-color="#0000b8"/><stop offset="1.000" stop-color="#0000ad"/></linearGradient>
<linearGradient id="a34" gradientUnits="userSpaceOnUse" x1="0" y1="72.2" x2="0" y2="236.5"><stop offset="0.000" stop-color="#ac0000"/><stop offset="0.022" stop-color="#c60000"/><stop offset="0.074" stop-color="#ff0000"/><stop offset="0.126" stop-color="#ff4000"/><stop offset="0.179" stop-color="#ff8000"/><stop offset="0.222" stop-color="#ffb100"/><stop offset="0.257" stop-color="#ffd800"/><stop offset="0.292" stop-color="#ffff00"/><stop offset="0.319" stop-color="#ecff00"/><stop offset="0.346" stop-color="#d5ff00"/><stop offset="0.373" stop-color="#87ff00"/><stop offset="0.401" stop-color="#00ff00"/><stop offset="0.438" stop-color="#00ff81"/><stop offset="0.476" stop-color="#00ffce"/><stop offset="0.510" stop-color="#00fff2"/><stop offset="0.544" stop-color="#00f0ff"/><stop offset="0.569" stop-color="#00d1ff"/><stop offset="0.594" stop-color="#00b2ff"/><stop offset="0.646" stop-color="#0080ff"/><stop offset="0.713" stop-color="#0040ff"/><stop offset="0.784" stop-color="#0000ff"/><stop offset="0.823" stop-color="#0000eb"/><stop offset="0.865" stop-color="#0000d6"/><stop offset="0.888" stop-color="#0000cc"/><stop offset="0.913" stop-color="#0000c2"/><stop offset="0.943" stop-color="#0000b8"/><stop offset="1.000" stop-color="#0000ad"/></linearGradient>
<linearGradient id="a33" gradientUnits="userSpaceOnUse" x1="0" y1="71.2" x2="0" y2="237"><stop offset="0.000" stop-color="#a00000"/><stop offset="0.033" stop-color="#c60000"/><stop offset="0.084" stop-color="#ff0000"/><stop offset="0.136" stop-color="#ff4000"/><stop offset="0.188" stop-color="#ff8000"/><stop offset="0.231" stop-color="#ffb100"/><stop offset="0.265" stop-color="#ffd800"/><stop offset="0.300" stop-color="#ffff00"/><stop offset="0.327" stop-color="#ecff00"/><stop offset="0.354" stop-color="#d5ff00"/><stop offset="0.381" stop-color="#87ff00"/><stop offset="0.408" stop-color="#00ff00"/><stop offset="0.445" stop-color="#00ff81"/><stop offset="0.483" stop-color="#00ffce"/><stop offset="0.516" stop-color="#00fff2"/><stop offset="0.550" stop-color="#00f0ff"/><stop offset="0.574" stop-color="#00d1ff"/><stop offset="0.599" stop-color="#00b2ff"/><stop offset="0.650" stop-color="#0080ff"/><stop offset="0.716" stop-color="#0040ff"/><stop offset="0.787" stop-color="#0000ff"/><stop offset="0.825" stop-color="#0000eb"/><stop offset="0.866" stop-color="#0000d6"/><stop offset="0.889" stop-color="#0000cc"/><stop offset="0.914" stop-color="#0000c2"/><stop offset="0.943" stop-color="#0000b8"/><stop offset="1.000" stop-color="#0000ad"/></linearGradient>
<linearGradient id="a32" gradientUnits="userSpaceOnUse" x1="0" y1="70.6" x2="0" y2="237.5"><stop offset="0.000" stop-color="#960000"/><stop offset="0.041" stop-color="#c60000"/><stop offset="0.092" stop-color="#ff0000"/><stop offset="0.143" stop-color="#ff4000"/><stop offset="0.195" stop-color="#ff8000"/><stop offset="0.237" stop-color="#ffb100"/><stop offset="0.272" stop-color="#ffd800"/><stop offset="0.306" stop-color="#ffff00"/><stop offset="0.333" stop-color="#ecff00"/><stop offset="0.359" stop-color="#d5ff00"/><stop offset="0.386" stop-color="#87ff00"/><stop offset="0.413" stop-color="#00ff00"/><stop offset="0.450" stop-color="#00ff81"/><stop offset="0.487" stop-color="#00ffce"/><stop offset="0.520" stop-color="#00fff2"/><stop offset="0.554" stop-color="#00f0ff"/><stop offset="0.578" stop-color="#00d1ff"/><stop offset="0.603" stop-color="#00b2ff"/><stop offset="0.653" stop-color="#0080ff"/><stop offset="0.719" stop-color="#0040ff"/><stop offset="0.789" stop-color="#0000ff"/><stop offset="0.827" stop-color="#0000eb"/><stop offset="0.868" stop-color="#0000d6"/><stop offset="0.890" stop-color="#0000cc"/><stop offset="0.915" stop-color="#0000c2"/><stop offset="0.944" stop-color="#0000b8"/><stop offset="1.000" stop-color="#0000ad"/></linearGradient>
<linearGradient id="a31" gradientUnits="userSpaceOnUse" x1="0" y1="70.4" x2="0" y2="238"><stop offset="0.000" stop-color="#900000"/><stop offset="0.047" stop-color="#c60000"/><stop offset="0.097" stop-color="#ff0000"/><stop offset="0.148" stop-color="#ff4000"/><stop offset="0.200" stop-color="#ff8000"/><stop offset="0.242" stop-color="#ffb100"/><stop offset="0.276" stop-color="#ffd800"/><stop offset="0.311" stop-color="#ffff00"/><stop offset="0.337" stop-color="#ecff00"/><stop offset="0.363" stop-color="#d5ff00"/><stop offset="0.390" stop-color="#87ff00"/><stop offset="0.417" stop-color="#00ff00"/><stop offset="0.453" stop-color="#00ff81"/><stop offset="0.490" stop-color="#00ffce"/><stop offset="0.523" stop-color="#00fff2"/><stop offset="0.556" stop-color="#00f0ff"/><stop offset="0.581" stop-color="#00d1ff"/><stop offset="0.605" stop-color="#00b2ff"/><stop offset="0.655" stop-color="#0080ff"/><stop offset="0.720" stop-color="#0040ff"/><stop offset="0.790" stop-color="#0000ff"/><stop offset="0.828" stop-color="#0000eb"/><stop offset="0.868" stop-color="#0000d6"/><stop offset="0.891" stop-color="#0000cc"/><stop offset="0.915" stop-color="#0000c2"/><stop offset="0.944" stop-color="#0000b8"/><stop offset="1.000" stop-color="#0000ad"/></linearGradient>
<linearGradient id="a30" gradientUnits="userSpaceOnUse" x1="0" y1="70.6" x2="0" y2="238.5"><stop offset="0.000" stop-color="#8d0000"/><stop offset="0.049" stop-color="#c60000"/><stop offset="0.099" stop-color="#ff0000"/><stop offset="0.150" stop-color="#ff4000"/><stop offset="0.202" stop-color="#ff8000"/><stop offset="0.244" stop-color="#ffb100"/><stop offset="0.278" stop-color="#ffd800"/><stop offset="0.313" stop-color="#ffff00"/><stop offset="0.339" stop-color="#ecff00"/><stop offset="0.365" stop-color="#d5ff00"/><stop offset="0.392" stop-color="#87ff00"/><stop offset="0.419" stop-color="#00ff00"/><stop offset="0.455" stop-color="#00ff81"/><stop offset="0.492" stop-color="#00ffce"/><stop offset="0.524" stop-color="#00fff2"/><stop offset="0.558" stop-color="#00f0ff"/><stop offset="0.582" stop-color="#00d1ff"/><stop offset="0.606" stop-color="#00b2ff"/><stop offset="0.656" stop-color="#0080ff"/><stop offset="0.721" stop-color="#0040ff"/><stop offset="0.791" stop-color="#0000ff"/><stop offset="0.828" stop-color="#0000eb"/><stop offset="0.869" stop-color="#0000d6"/><stop offset="0.891" stop-color="#0000cc"/><stop offset="0.915" stop-color="#0000c2"/><stop offset="0.944" stop-color="#0000b8"/><stop offset="1.000" stop-color="#0000ad"/></linearGradient>
<linearGradient id="a29" gradientUnits="userSpaceOnUse" x1="0" y1="71.1" x2="0" y2="239.1"><stop offset="0.000" stop-color="#8d0000"/><stop offset="0.049" stop-color="#c60000"/><stop offset="0.099" stop-color="#ff0000"/><stop offset="0.150" stop-color="#ff4000"/><stop offset="0.202" stop-color="#ff8000"/><stop offset="0.244" stop-color="#ffb100"/><stop offset="0.278" stop-color="#ffd800"/><stop offset="0.313" stop-color="#ffff00"/><stop offset="0.339" stop-color="#ecff00"/><stop offset="0.365" stop-color="#d5ff00"/><stop offset="0.392" stop-color="#87ff00"/><stop offset="0.419" stop-color="#00ff00"/><stop offset="0.455" stop-color="#00ff81"/><stop offset="0.492" stop-color="#00ffce"/><stop offset="0.524" stop-color="#00fff2"/><stop offset="0.558" stop-color="#00f0ff"/><stop offset="0.582" stop-color="#00d1ff"/><stop offset="0.606" stop-color="#00b2ff"/><stop offset="0.656" stop-color="#0080ff"/><stop offset="0.721" stop-color="#0040ff"/><stop offset="0.791" stop-color="#0000ff"/><stop offset="0.828" stop-color="#0000eb"/><stop offset="0.869" stop-color="#0000d6"/><stop offset="0.891" stop-color="#0000cc"/><stop offset="0.915" stop-color="#0000c2"/><stop offset="0.944" stop-color="#0000b8"/><stop offset="1.000" stop-color="#0000ad"/></linearGradient>
<linearGradient id="a28" gradientUnits="userSpaceOnUse" x1="0" y1="72" x2="0" y2="239.6"><stop offset="0.000" stop-color="#900000"/><stop offset="0.047" stop-color="#c60000"/><stop offset="0.097" stop-color="#ff0000"/><stop offset="0.148" stop-color="#ff4000"/><stop offset="0.200" stop-color="#ff8000"/><stop offset="0.242" stop-color="#ffb100"/><stop offset="0.276" stop-color="#ffd800"/><stop offset="0.311" stop-color="#ffff00"/><stop offset="0.337" stop-color="#ecff00"/><stop offset="0.363" stop-color="#d5ff00"/><stop offset="0.390" stop-color="#87ff00"/><stop offset="0.417" stop-color="#00ff00"/><stop offset="0.453" stop-color="#00ff81"/><stop offset="0.490" stop-color="#00ffce"/><stop offset="0.523" stop-color="#00fff2"/><stop offset="0.556" stop-color="#00f0ff"/><stop offset="0.581" stop-color="#00d1ff"/><stop offset="0.605" stop-color="#00b2ff"/><stop offset="0.655" stop-color="#0080ff"/><stop offset="0.720" stop-color="#0040ff"/><stop offset="0.790" stop-color="#0000ff"/><stop offset="0.828" stop-color="#0000eb"/><stop offset="0.868" stop-color="#0000d6"/><stop offset="0.891" stop-color="#0000cc"/><stop offset="0.915" stop-color="#0000c2"/><stop offset="0.944" stop-color="#0000b8"/><stop offset="1.000" stop-color="#0000ad"/></linearGradient>
<linearGradient id="a27" gradientUnits="userSpaceOnUse" x1="0" y1="73.2" x2="0" y2="240.1"><stop offset="0.000" stop-color="#960000"/><stop offset="0.041" stop-color="#c60000"/><stop offset="0.092" stop-color="#ff0000"/><stop offset="0.143" stop-color="#ff4000"/><stop offset="0.195" stop-color="#ff8000"/><stop offset="0.237" stop-color="#ffb100"/><stop offset="0.272" stop-color="#ffd800"/><stop offset="0.306" stop-color="#ffff00"/><stop offset="0.333" stop-color="#ecff00"/><stop offset="0.359" stop-color="#d5ff00"/><stop offset="0.386" stop-color="#87ff00"/><stop offset="0.413" stop-color="#00ff00"/><stop offset="0.450" stop-color="#00ff81"/><stop offset="0.487" stop-color="#00ffce"/><stop offset="0.520" stop-color="#00fff2"/><stop offset="0.554" stop-color="#00f0ff"/><stop offset="0.578" stop-color="#00d1ff"/><stop offset="0.603" stop-color="#00b2ff"/><stop offset="0.653" stop-color="#0080ff"/><stop offset="0.719" stop-color="#0040ff"/><stop offset="0.789" stop-color="#0000ff"/><stop offset="0.827" stop-color="#0000eb"/><stop offset="0.868" stop-color="#0000d6"/><stop offset="0.890" stop-color="#0000cc"/><stop offset="0.915" stop-color="#0000c2"/><stop offset="0.944" stop-color="#0000b8"/><stop offset="1.000" stop-color="#0000ad"/></linearGradient>
<linearGradient id="a26" gradientUnits="userSpaceOnUse" x1="0" y1="74.8" x2="0" y2="240.6"><stop offset="0.000" stop-color="#a00000"/><stop offset="0.033" stop-color="#c60000"/><stop offset="0.084" stop-color="#ff0000"/><stop offset="0.136" stop-color="#ff4000"/><stop offset="0.188" stop-color="#ff8000"/><stop offset="0.231" stop-color="#ffb100"/><stop offset="0.265" stop-color="#ffd800"/><stop offset="0.300" stop-color="#ffff00"/><stop offset="0.327" stop-color="#ecff00"/><stop offset="0.354" stop-color="#d5ff00"/><stop offset="0.381" stop-color="#87ff00"/><stop offset="0.408" stop-color="#00ff00"/><stop offset="0.445" stop-color="#00ff81"/><stop offset="0.483" stop-color="#00ffce"/><stop offset="0.516" stop-color="#00fff2"/><stop offset="0.550" stop-color="#00f0ff"/><stop offset="0.574" stop-color="#00d1ff"/><stop offset="0.599" stop-color="#00b2ff"/><stop offset="0.650" stop-color="#0080ff"/><stop offset="0.716" stop-color="#0040ff"/><stop offset="0.787" stop-color="#0000ff"/><stop offset="0.825" stop-color="#0000eb"/><stop offset="0.866" stop-color="#0000d6"/><stop offset="0.889" stop-color="#0000cc"/><stop offset="0.914" stop-color="#0000c2"/><stop offset="0.943" stop-color="#0000b8"/><stop offset="1.000" stop-color="#0000ad"/></linearGradient>
<linearGradient id="a25" gradientUnits="userSpaceOnUse" x1="0" y1="76.8" x2="0" y2="241.1"><stop offset="0.000" stop-color="#ac0000"/><stop offset="0.022" stop-color="#c60000"/><stop offset="0.074" stop-color="#ff0000"/><stop offset="0.126" stop-color="#ff4000"/><stop offset="0.179" stop-color="#ff8000"/><stop offset="0.222" stop-color="#ffb100"/><stop offset="0.257" stop-color="#ffd800"/><stop offset="0.292" stop-color="#ffff00"/><stop offset="0.319" stop-color="#ecff00"/><stop offset="0.346" stop-color="#d5ff00"/><stop offset="0.373" stop-color="#87ff00"/><stop offset="0.401" stop-color="#00ff00"/><stop offset="0.438" stop-color="#00ff81"/><stop offset="0.476" stop-color="#00ffce"/><stop offset="0.510" stop-color="#00fff2"/><stop offset="0.544" stop-color="#00f0ff"/><stop offset="0.569" stop-color="#00d1ff"/><stop offset="0.594" stop-color="#00b2ff"/><stop offset="0.646" stop-color="#0080ff"/><stop offset="0.713" stop-color="#0040ff"/><stop offset="0.784" stop-color="#0000ff"/><stop offset="0.823" stop-color="#0000eb"/><stop offset="0.865" stop-color="#0000d6"/><stop offset="0.888" stop-color="#0000cc"/><stop offset="0.913" stop-color="#0000c2"/><stop offset="0.943" stop-color="#0000b8"/><stop offset="1.000" stop-color="#0000ad"/></linearGradient>
<linearGradient id="a24" gradientUnits="userSpaceOnUse" x1="0" y1="79.2" x2="0" y2="241.6"><stop offset="0.000" stop-color="#bc0000"/><stop offset="0.008" stop-color="#c60000"/><stop offset="0.060" stop-color="#ff0000"/><stop offset="0.113" stop-color="#ff4000"/><stop offset="0.166" stop-color="#ff8000"/><stop offset="0.210" stop-color="#ffb100"/><stop offset="0.245" stop-color="#ffd800"/><stop offset="0.281" stop-color="#ffff00"/><stop offset="0.308" stop-color="#ecff00"/><stop offset="0.336" stop-color="#d5ff00"/><stop offset="0.363" stop-color="#87ff00"/><stop offset="0.391" stop-color="#00ff00"/><stop offset="0.429" stop-color="#00ff81"/><stop offset="0.468" stop-color="#00ffce"/><stop offset="0.502" stop-color="#00fff2"/><stop offset="0.537" stop-color="#00f0ff"/><stop offset="0.562" stop-color="#00d1ff"/><stop offset="0.588" stop-color="#00b2ff"/><stop offset="0.641" stop-color="#0080ff"/><stop offset="0.709" stop-color="#0040ff"/><stop offset="0.781" stop-color="#0000ff"/><stop offset="0.820" stop-color="#0000eb"/><stop offset="0.862" stop-color="#0000d6"/><stop offset="0.886" stop-color="#0000cc"/><stop offset="0.911" stop-color="#0000c2"/><stop offset="0.942" stop-color="#0000b8"/><stop offset="1.000" stop-color="#0000ad"/></linearGradient>
<linearGradient id="a23" gradientUnits="userSpaceOnUse" x1="0" y1="81.9" x2="0" y2="242.1"><stop offset="0.000" stop-color="#d00000"/><stop offset="0.043" stop-color="#ff0000"/><stop offset="0.097" stop-color="#ff4000"/><stop offset="0.151" stop-color="#ff8000"/><stop offset="0.195" stop-color="#ffb100"/><stop offset="0.231" stop-color="#ffd800"/><stop offset="0.267" stop-color="#ffff00"/><stop offset="0.295" stop-color="#ecff00"/><stop offset="0.323" stop-color="#d5ff00"/><stop offset="0.351" stop-color="#87ff00"/><stop offset="0.380" stop-color="#00ff00"/><stop offset="0.418" stop-color="#00ff81"/><stop offset="0.458" stop-color="#00ffce"/><stop offset="0.493" stop-color="#00fff2"/><stop offset="0.528" stop-color="#00f0ff"/><stop offset="0.554" stop-color="#00d1ff"/><stop offset="0.580" stop-color="#00b2ff"/><stop offset="0.634" stop-color="#0080ff"/><stop offset="0.703" stop-color="#0040ff"/><stop offset="0.777" stop-color="#0000ff"/><stop offset="0.817" stop-color="#0000eb"/><stop offset="0.860" stop-color="#0000d6"/><stop offset="0.883" stop-color="#0000cc"/><stop offset="0.910" stop-color="#0000c2"/><stop offset="0.940" stop-color="#0000b8"/><stop offset="1.000" stop-color="#0000ad"/></linearGradient>
<linearGradient id="a22" gradientUnits="userSpaceOnUse" x1="0" y1="85.1" x2="0" y2="242.7"><stop offset="0.000" stop-color="#e70000"/><stop offset="0.023" stop-color="#ff0000"/><stop offset="0.077" stop-color="#ff4000"/><stop offset="0.132" stop-color="#ff8000"/><stop offset="0.177" stop-color="#ffb100"/><stop offset="0.214" stop-color="#ffd800"/><stop offset="0.251" stop-color="#ffff00"/><stop offset="0.279" stop-color="#ecff00"/><stop offset="0.307" stop-color="#d5ff00"/><stop offset="0.336" stop-color="#87ff00"/><stop offset="0.365" stop-color="#00ff00"/><stop offset="0.405" stop-color="#00ff81"/><stop offset="0.445" stop-color="#00ffce"/><stop offset="0.481" stop-color="#00fff2"/><stop offset="0.517" stop-color="#00f0ff"/><stop offset="0.544" stop-color="#00d1ff"/><stop offset="0.571" stop-color="#00b2ff"/><stop offset="0.626" stop-color="#0080ff"/><stop offset="0.697" stop-color="#0040ff"/><stop offset="0.772" stop-color="#0000ff"/><stop offset="0.812" stop-color="#0000eb"/><stop offset="0.857" stop-color="#0000d6"/><stop offset="0.881" stop-color="#0000cc"/><stop offset="0.907" stop-color="#0000c2"/><stop offset="0.939" stop-color="#0000b8"/><stop offset="1.000" stop-color="#0000ad"/></linearGradient>
<linearGradient id="a21" gradientUnits="userSpaceOnUse" x1="0" y1="88.7" x2="0" y2="243.2"><stop offset="0.000" stop-color="#ff0200"/><stop offset="0.053" stop-color="#ff4000"/><stop offset="0.109" stop-color="#ff8000"/><stop offset="0.155" stop-color="#ffb100"/><stop offset="0.193" stop-color="#ffd800"/><stop offset="0.230" stop-color="#ffff00"/><stop offset="0.259" stop-color="#ecff00"/><stop offset="0.288" stop-color="#d5ff00"/><stop offset="0.318" stop-color="#87ff00"/><stop offset="0.348" stop-color="#00ff00"/><stop offset="0.388" stop-color="#00ff81"/><stop offset="0.430" stop-color="#00ffce"/><stop offset="0.467" stop-color="#00fff2"/><stop offset="0.504" stop-color="#00f0ff"/><stop offset="0.531" stop-color="#00d1ff"/><stop offset="0.559" stop-color="#00b2ff"/><stop offset="0.616" stop-color="#0080ff"/><stop offset="0.689" stop-color="#0040ff"/><stop offset="0.766" stop-color="#0000ff"/><stop offset="0.807" stop-color="#0000eb"/><stop offset="0.853" stop-color="#0000d6"/><stop offset="0.877" stop-color="#0000cc"/><stop offset="0.905" stop-color="#0000c2"/><stop offset="0.937" stop-color="#0000b8"/><stop offset="1.000" stop-color="#0000ad"/></linearGradient>
<linearGradient id="a20" gradientUnits="userSpaceOnUse" x1="0" y1="92.8" x2="0" y2="243.7"><stop offset="0.000" stop-color="#ff2400"/><stop offset="0.025" stop-color="#ff4000"/><stop offset="0.082" stop-color="#ff8000"/><stop offset="0.129" stop-color="#ffb100"/><stop offset="0.167" stop-color="#ffd800"/><stop offset="0.206" stop-color="#ffff00"/><stop offset="0.235" stop-color="#ecff00"/><stop offset="0.265" stop-color="#d5ff00"/><stop offset="0.296" stop-color="#87ff00"/><stop offset="0.326" stop-color="#00ff00"/><stop offset="0.368" stop-color="#00ff81"/><stop offset="0.411" stop-color="#00ffce"/><stop offset="0.449" stop-color="#00fff2"/><stop offset="0.488" stop-color="#00f0ff"/><stop offset="0.516" stop-color="#00d1ff"/><stop offset="0.545" stop-color="#00b2ff"/><stop offset="0.603" stop-color="#0080ff"/><stop offset="0.679" stop-color="#0040ff"/><stop offset="0.758" stop-color="#0000ff"/><stop offset="0.801" stop-color="#0000eb"/><stop offset="0.848" stop-color="#0000d6"/><stop offset="0.873" stop-color="#0000cc"/><stop offset="0.902" stop-color="#0000c2"/><stop offset="0.935" stop-color="#0000b8"/><stop offset="1.000" stop-color="#0000ad"/></linearGradient>
<linearGradient id="a19" gradientUnits="userSpaceOnUse" x1="0" y1="97.3" x2="0" y2="244.2"><stop offset="0.000" stop-color="#ff4b00"/><stop offset="0.049" stop-color="#ff8000"/><stop offset="0.097" stop-color="#ffb100"/><stop offset="0.136" stop-color="#ffd800"/><stop offset="0.176" stop-color="#ffff00"/><stop offset="0.206" stop-color="#ecff00"/><stop offset="0.237" stop-color="#d5ff00"/><stop offset="0.268" stop-color="#87ff00"/><stop offset="0.300" stop-color="#00ff00"/><stop offset="0.343" stop-color="#00ff81"/><stop offset="0.388" stop-color="#00ffce"/><stop offset="0.427" stop-color="#00fff2"/><stop offset="0.468" stop-color="#00f0ff"/><stop offset="0.497" stop-color="#00d1ff"/><stop offset="0.527" stop-color="#00b2ff"/><stop offset="0.589" stop-color="#0080ff"/><stop offset="0.668" stop-color="#0040ff"/><stop offset="0.750" stop-color="#0000ff"/><stop offset="0.794" stop-color="#0000eb"/><stop offset="0.842" stop-color="#0000d6"/><stop offset="0.869" stop-color="#0000cc"/><stop offset="0.898" stop-color="#0000c2"/><stop offset="0.932" stop-color="#0000b8"/><stop offset="1.000" stop-color="#0000ad"/></linearGradient>
<linearGradient id="a18" gradientUnits="userSpaceOnUse" x1="0" y1="102.5" x2="0" y2="244.7"><stop offset="0.000" stop-color="#ff7800"/><stop offset="0.008" stop-color="#ff8000"/><stop offset="0.057" stop-color="#ffb100"/><stop offset="0.097" stop-color="#ffd800"/><stop offset="0.138" stop-color="#ffff00"/><stop offset="0.170" stop-color="#ecff00"/><stop offset="0.202" stop-color="#d5ff00"/><stop offset="0.234" stop-color="#87ff00"/><stop offset="0.267" stop-color="#00ff00"/><stop offset="0.312" stop-color="#00ff81"/><stop offset="0.359" stop-color="#00ffce"/><stop offset="0.400" stop-color="#00fff2"/><stop offset="0.443" stop-color="#00f0ff"/><stop offset="0.474" stop-color="#00d1ff"/><stop offset="0.505" stop-color="#00b2ff"/><stop offset="0.570" stop-color="#0080ff"/><stop offset="0.654" stop-color="#0040ff"/><stop offset="0.739" stop-color="#0000ff"/><stop offset="0.785" stop-color="#0000eb"/><stop offset="0.835" stop-color="#0000d6"/><stop offset="0.863" stop-color="#0000cc"/><stop offset="0.893" stop-color="#0000c2"/><stop offset="0.929" stop-color="#0000b8"/><stop offset="1.000" stop-color="#0000ad"/></linearGradient>
<linearGradient id="a17" gradientUnits="userSpaceOnUse" x1="0" y1="108.5" x2="0" y2="245.2"><stop offset="0.000" stop-color="#ffaa00"/><stop offset="0.007" stop-color="#ffb100"/><stop offset="0.048" stop-color="#ffd800"/><stop offset="0.091" stop-color="#ffff00"/><stop offset="0.124" stop-color="#ecff00"/><stop offset="0.157" stop-color="#d5ff00"/><stop offset="0.191" stop-color="#87ff00"/><stop offset="0.225" stop-color="#00ff00"/><stop offset="0.272" stop-color="#00ff81"/><stop offset="0.321" stop-color="#00ffce"/><stop offset="0.365" stop-color="#00fff2"/><stop offset="0.410" stop-color="#00f0ff"/><stop offset="0.443" stop-color="#00d1ff"/><stop offset="0.477" stop-color="#00b2ff"/><stop offset="0.546" stop-color="#0080ff"/><stop offset="0.636" stop-color="#0040ff"/><stop offset="0.725" stop-color="#0000ff"/><stop offset="0.773" stop-color="#0000eb"/><stop offset="0.826" stop-color="#0000d6"/><stop offset="0.855" stop-color="#0000cc"/><stop offset="0.887" stop-color="#0000c2"/><stop offset="0.925" stop-color="#0000b8"/><stop offset="1.000" stop-color="#0000ad"/></linearGradient>
<linearGradient id="a16" gradientUnits="userSpaceOnUse" x1="0" y1="115.7" x2="0" y2="245.7"><stop offset="0.000" stop-color="#ffe700"/><stop offset="0.027" stop-color="#ffff00"/><stop offset="0.061" stop-color="#ecff00"/><stop offset="0.096" stop-color="#d5ff00"/><stop offset="0.131" stop-color="#87ff00"/><stop offset="0.167" stop-color="#00ff00"/><stop offset="0.217" stop-color="#00ff81"/><stop offset="0.269" stop-color="#00ffce"/><stop offset="0.316" stop-color="#00fff2"/><stop offset="0.365" stop-color="#00f0ff"/><stop offset="0.400" stop-color="#00d1ff"/><stop offset="0.437" stop-color="#00b2ff"/><stop offset="0.512" stop-color="#0080ff"/><stop offset="0.611" stop-color="#0040ff"/><stop offset="0.707" stop-color="#0000ff"/><stop offset="0.758" stop-color="#0000eb"/><stop offset="0.814" stop-color="#0000d6"/><stop offset="0.845" stop-color="#0000cc"/><stop offset="0.880" stop-color="#0000c2"/><stop offset="0.920" stop-color="#0000b8"/><stop offset="1.000" stop-color="#0000ad"/></linearGradient>
<linearGradient id="a15" gradientUnits="userSpaceOnUse" x1="0" y1="125.4" x2="0" y2="246.2"><stop offset="0.000" stop-color="#d0ff00"/><stop offset="0.035" stop-color="#87ff00"/><stop offset="0.073" stop-color="#00ff00"/><stop offset="0.127" stop-color="#00ff81"/><stop offset="0.183" stop-color="#00ffce"/><stop offset="0.234" stop-color="#00fff2"/><stop offset="0.288" stop-color="#00f0ff"/><stop offset="0.329" stop-color="#00d1ff"/><stop offset="0.370" stop-color="#00b2ff"/><stop offset="0.457" stop-color="#0080ff"/><stop offset="0.571" stop-color="#0040ff"/><stop offset="0.679" stop-color="#0000ff"/><stop offset="0.735" stop-color="#0000eb"/><stop offset="0.796" stop-color="#0000d6"/><stop offset="0.830" stop-color="#0000cc"/><stop offset="0.867" stop-color="#0000c2"/><stop offset="0.912" stop-color="#0000b8"/><stop offset="1.000" stop-color="#0000ad"/></linearGradient>
<linearGradient id="a14" gradientUnits="userSpaceOnUse" x1="0" y1="125.9" x2="0" y2="246.8"><stop offset="0.000" stop-color="#d0ff00"/><stop offset="0.035" stop-color="#87ff00"/><stop offset="0.073" stop-color="#00ff00"/><stop offset="0.127" stop-color="#00ff81"/><stop offset="0.183" stop-color="#00ffce"/><stop offset="0.234" stop-color="#00fff2"/><stop offset="0.288" stop-color="#00f0ff"/><stop offset="0.329" stop-color="#00d1ff"/><stop offset="0.370" stop-color="#00b2ff"/><stop offset="0.457" stop-color="#0080ff"/><stop offset="0.571" stop-color="#0040ff"/><stop offset="0.679" stop-color="#0000ff"/><stop offset="0.735" stop-color="#0000eb"/><stop offset="0.796" stop-color="#0000d6"/><stop offset="0.830" stop-color="#0000cc"/><stop offset="0.867" stop-color="#0000c2"/><stop offset="0.912" stop-color="#0000b8"/><stop offset="1.000" stop-color="#0000ad"/></linearGradient>
<linearGradient id="a13" gradientUnits="userSpaceOnUse" x1="0" y1="117.2" x2="0" y2="247.3"><stop offset="0.000" stop-color="#ffe700"/><stop offset="0.027" stop-color="#ffff00"/><stop offset="0.061" stop-color="#ecff00"/><stop offset="0.096" stop-color="#d5ff00"/><stop offset="0.131" stop-color="#87ff00"/><stop offset="0.167" stop-color="#00ff00"/><stop offset="0.217" stop-color="#00ff81"/><stop offset="0.269" stop-color="#00ffce"/><stop offset="0.316" stop-color="#00fff2"/><stop offset="0.365" stop-color="#00f0ff"/><stop offset="0.400" stop-color="#00d1ff"/><stop offset="0.437" stop-color="#00b2ff"/><stop offset="0.512" stop-color="#0080ff"/><stop offset="0.611" stop-color="#0040ff"/><stop offset="0.707" stop-color="#0000ff"/><stop offset="0.758" stop-color="#0000eb"/><stop offset="0.814" stop-color="#0000d6"/><stop offset="0.845" stop-color="#0000cc"/><stop offset="0.880" stop-color="#0000c2"/><stop offset="0.920" stop-color="#0000b8"/><stop offset="1.000" stop-color="#0000ad"/></linearGradient>
<linearGradient id="a12" gradientUnits="userSpaceOnUse" x1="0" y1="111" x2="0" y2="247.8"><stop offset="0.000" stop-color="#ffaa00"/><stop offset="0.007" stop-color="#ffb100"/><stop offset="0.048" stop-color="#ffd800"/><stop offset="0.091" stop-color="#ffff00"/><stop offset="0.124" stop-color="#ecff00"/><stop offset="0.157" stop-color="#d5ff00"/><stop offset="0.191" stop-color="#87ff00"/><stop offset="0.225" stop-color="#00ff00"/><stop offset="0.272" stop-color="#00ff81"/><stop offset="0.321" stop-color="#00ffce"/><stop offset="0.365" stop-color="#00fff2"/><stop offset="0.410" stop-color="#00f0ff"/><stop offset="0.443" stop-color="#00d1ff"/><stop offset="0.477" stop-color="#00b2ff"/><stop offset="0.546" stop-color="#0080ff"/><stop offset="0.636" stop-color="#0040ff"/><stop offset="0.725" stop-color="#0000ff"/><stop offset="0.773" stop-color="#0000eb"/><stop offset="0.826" stop-color="#0000d6"/><stop offset="0.855" stop-color="#0000cc"/><stop offset="0.887" stop-color="#0000c2"/><stop offset="0.925" stop-color="#0000b8"/><stop offset="1.000" stop-color="#0000ad"/></linearGradient>
<linearGradient id="a11" gradientUnits="userSpaceOnUse" x1="0" y1="106.1" x2="0" y2="248.3"><stop offset="0.000" stop-color="#ff7800"/><stop offset="0.008" stop-color="#ff8000"/><stop offset="0.057" stop-color="#ffb100"/><stop offset="0.097" stop-color="#ffd800"/><stop offset="0.138" stop-color="#ffff00"/><stop offset="0.170" stop-color="#ecff00"/><stop offset="0.202" stop-color="#d5ff00"/><stop offset="0.234" stop-color="#87ff00"/><stop offset="0.267" stop-color="#00ff00"/><stop offset="0.312" stop-color="#00ff81"/><stop offset="0.359" stop-color="#00ffce"/><stop offset="0.400" stop-color="#00fff2"/><stop offset="0.443" stop-color="#00f0ff"/><stop offset="0.474" stop-color="#00d1ff"/><stop offset="0.505" stop-color="#00b2ff"/><stop offset="0.570" stop-color="#0080ff"/><stop offset="0.654" stop-color="#0040ff"/><stop offset="0.739" stop-color="#0000ff"/><stop offset="0.785" stop-color="#0000eb"/><stop offset="0.835" stop-color="#0000d6"/><stop offset="0.863" stop-color="#0000cc"/><stop offset="0.893" stop-color="#0000c2"/><stop offset="0.929" stop-color="#0000b8"/><stop offset="1.000" stop-color="#0000ad"/></linearGradient>
<linearGradient id="a10" gradientUnits="userSpaceOnUse" x1="0" y1="101.9" x2="0" y2="248.8"><stop offset="0.000" stop-color="#ff4b00"/><stop offset="0.049" stop-color="#ff8000"/><stop offset="0.097" stop-color="#ffb100"/><stop offset="0.136" stop-color="#ffd800"/><stop offset="0.176" stop-color="#ffff00"/><stop offset="0.206" stop-color="#ecff00"/><stop offset="0.237" stop-color="#d5ff00"/><stop offset="0.268" stop-color="#87ff00"/><stop offset="0.300" stop-color="#00ff00"/><stop offset="0.343" stop-color="#00ff81"/><stop offset="0.388" stop-color="#00ffce"/><stop offset="0.427" stop-color="#00fff2"/><stop offset="0.468" stop-color="#00f0ff"/><stop offset="0.497" stop-color="#00d1ff"/><stop offset="0.527" stop-color="#00b2ff"/><stop offset="0.589" stop-color="#0080ff"/><stop offset="0.668" stop-color="#0040ff"/><stop offset="0.750" stop-color="#0000ff"/><stop offset="0.794" stop-color="#0000eb"/><stop offset="0.842" stop-color="#0000d6"/><stop offset="0.869" stop-color="#0000cc"/><stop offset="0.898" stop-color="#0000c2"/><stop offset="0.932" stop-color="#0000b8"/><stop offset="1.000" stop-color="#0000ad"/></linearGradient>
<linearGradient id="a9" gradientUnits="userSpaceOnUse" x1="0" y1="98.4" x2="0" y2="249.3"><stop offset="0.000" stop-color="#ff2400"/><stop offset="0.025" stop-color="#ff4000"/><stop offset="0.082" stop-color="#ff8000"/><stop offset="0.129" stop-color="#ffb100"/><stop offset="0.167" stop-color="#ffd800"/><stop offset="0.206" stop-color="#ffff00"/><stop offset="0.235" stop-color="#ecff00"/><stop offset="0.265" stop-color="#d5ff00"/><stop offset="0.296" stop-color="#87ff00"/><stop offset="0.326" stop-color="#00ff00"/><stop offset="0.368" stop-color="#00ff81"/><stop offset="0.411" stop-color="#00ffce"/><stop offset="0.449" stop-color="#00fff2"/><stop offset="0.488" stop-color="#00f0ff"/><stop offset="0.516" stop-color="#00d1ff"/><stop offset="0.545" stop-color="#00b2ff"/><stop offset="0.603" stop-color="#0080ff"/><stop offset="0.679" stop-color="#0040ff"/><stop offset="0.758" stop-color="#0000ff"/><stop offset="0.801" stop-color="#0000eb"/><stop offset="0.848" stop-color="#0000d6"/><stop offset="0.873" stop-color="#0000cc"/><stop offset="0.902" stop-color="#0000c2"/><stop offset="0.935" stop-color="#0000b8"/><stop offset="1.000" stop-color="#0000ad"/></linearGradient>
<linearGradient id="a8" gradientUnits="userSpaceOnUse" x1="0" y1="95.4" x2="0" y2="249.8"><stop offset="0.000" stop-color="#ff0200"/><stop offset="0.053" stop-color="#ff4000"/><stop offset="0.109" stop-color="#ff8000"/><stop offset="0.155" stop-color="#ffb100"/><stop offset="0.193" stop-color="#ffd800"/><stop offset="0.230" stop-color="#ffff00"/><stop offset="0.259" stop-color="#ecff00"/><stop offset="0.288" stop-color="#d5ff00"/><stop offset="0.318" stop-color="#87ff00"/><stop offset="0.348" stop-color="#00ff00"/><stop offset="0.388" stop-color="#00ff81"/><stop offset="0.430" stop-color="#00ffce"/><stop offset="0.467" stop-color="#00fff2"/><stop offset="0.504" stop-color="#00f0ff"/><stop offset="0.531" stop-color="#00d1ff"/><stop offset="0.559" stop-color="#00b2ff"/><stop offset="0.616" stop-color="#0080ff"/><stop offset="0.689" stop-color="#0040ff"/><stop offset="0.766" stop-color="#0000ff"/><stop offset="0.807" stop-color="#0000eb"/><stop offset="0.853" stop-color="#0000d6"/><stop offset="0.877" stop-color="#0000cc"/><stop offset="0.905" stop-color="#0000c2"/><stop offset="0.937" stop-color="#0000b8"/><stop offset="1.000" stop-color="#0000ad"/></linearGradient>
<linearGradient id="a7" gradientUnits="userSpaceOnUse" x1="0" y1="92.8" x2="0" y2="250.4"><stop offset="0.000" stop-color="#e70000"/><stop offset="0.023" stop-color="#ff0000"/><stop offset="0.077" stop-color="#ff4000"/><stop offset="0.132" stop-color="#ff8000"/><stop offset="0.177" stop-color="#ffb100"/><stop offset="0.214" stop-color="#ffd800"/><stop offset="0.251" stop-color="#ffff00"/><stop offset="0.279" stop-color="#ecff00"/><stop offset="0.307" stop-color="#d5ff00"/><stop offset="0.336" stop-color="#87ff00"/><stop offset="0.365" stop-color="#00ff00"/><stop offset="0.405" stop-color="#00ff81"/><stop offset="0.445" stop-color="#00ffce"/><stop offset="0.481" stop-color="#00fff2"/><stop offset="0.517" stop-color="#00f0ff"/><stop offset="0.544" stop-color="#00d1ff"/><stop offset="0.571" stop-color="#00b2ff"/><stop offset="0.626" stop-color="#0080ff"/><stop offset="0.697" stop-color="#0040ff"/><stop offset="0.772" stop-color="#0000ff"/><stop offset="0.812" stop-color="#0000eb"/><stop offset="0.857" stop-color="#0000d6"/><stop offset="0.881" stop-color="#0000cc"/><stop offset="0.907" stop-color="#0000c2"/><stop offset="0.939" stop-color="#0000b8"/><stop offset="1.000" stop-color="#0000ad"/></linearGradient>
<linearGradient id="a6" gradientUnits="userSpaceOnUse" x1="0" y1="90.7" x2="0" y2="250.9"><stop offset="0.000" stop-color="#d00000"/><stop offset="0.043" stop-color="#ff0000"/><stop offset="0.097" stop-color="#ff4000"/><stop offset="0.151" stop-color="#ff8000"/><stop offset="0.195" stop-color="#ffb100"/><stop offset="0.231" stop-color="#ffd800"/><stop offset="0.267" stop-color="#ffff00"/><stop offset="0.295" stop-color="#ecff00"/><stop offset="0.323" stop-color="#d5ff00"/><stop offset="0.351" stop-color="#87ff00"/><stop offset="0.380" stop-color="#00ff00"/><stop offset="0.418" stop-color="#00ff81"/><stop offset="0.458" stop-color="#00ffce"/><stop offset="0.493" stop-color="#00fff2"/><stop offset="0.528" stop-color="#00f0ff"/><stop offset="0.554" stop-color="#00d1ff"/><stop offset="0.580" stop-color="#00b2ff"/><stop offset="0.634" stop-color="#0080ff"/><stop offset="0.703" stop-color="#0040ff"/><stop offset="0.777" stop-color="#0000ff"/><stop offset="0.817" stop-color="#0000eb"/><stop offset="0.860" stop-color="#0000d6"/><stop offset="0.883" stop-color="#0000cc"/><stop offset="0.910" stop-color="#0000c2"/><stop offset="0.940" stop-color="#0000b8"/><stop offset="1.000" stop-color="#0000ad"/></linearGradient>
<linearGradient id="a5" gradientUnits="userSpaceOnUse" x1="0" y1="88.9" x2="0" y2="251.4"><stop offset="0.000" stop-color="#bc0000"/><stop offset="0.008" stop-color="#c60000"/><stop offset="0.060" stop-color="#ff0000"/><stop offset="0.113" stop-color="#ff4000"/><stop offset="0.166" stop-color="#ff8000"/><stop offset="0.210" stop-color="#ffb100"/><stop offset="0.245" stop-color="#ffd800"/><stop offset="0.281" stop-color="#ffff00"/><stop offset="0.308" stop-color="#ecff00"/><stop offset="0.336" stop-color="#d5ff00"/><stop offset="0.363" stop-color="#87ff00"/><stop offset="0.391" stop-color="#00ff00"/><stop offset="0.429" stop-color="#00ff81"/><stop offset="0.468" stop-color="#00ffce"/><stop offset="0.502" stop-color="#00fff2"/><stop offset="0.537" stop-color="#00f0ff"/><stop offset="0.562" stop-color="#00d1ff"/><stop offset="0.588" stop-color="#00b2ff"/><stop offset="0.641" stop-color="#0080ff"/><stop offset="0.709" stop-color="#0040ff"/><stop offset="0.781" stop-color="#0000ff"/><stop offset="0.820" stop-color="#0000eb"/><stop offset="0.862" stop-color="#0000d6"/><stop offset="0.886" stop-color="#0000cc"/><stop offset="0.911" stop-color="#0000c2"/><stop offset="0.942" stop-color="#0000b8"/><stop offset="1.000" stop-color="#0000ad"/></linearGradient>
<linearGradient id="a4" gradientUnits="userSpaceOnUse" x1="0" y1="87.6" x2="0" y2="251.9"><stop offset="0.000" stop-color="#ac0000"/><stop offset="0.022" stop-color="#c60000"/><stop offset="0.074" stop-color="#ff0000"/><stop offset="0.126" stop-color="#ff4000"/><stop offset="0.179" stop-color="#ff8000"/><stop offset="0.222" stop-color="#ffb100"/><stop offset="0.257" stop-color="#ffd800"/><stop offset="0.292" stop-color="#ffff00"/><stop offset="0.319" stop-color="#ecff00"/><stop offset="0.346" stop-color="#d5ff00"/><stop offset="0.373" stop-color="#87ff00"/><stop offset="0.401" stop-color="#00ff00"/><stop offset="0.438" stop-color="#00ff81"/><stop offset="0.476" stop-color="#00ffce"/><stop offset="0.510" stop-color="#00fff2"/><stop offset="0.544" stop-color="#00f0ff"/><stop offset="0.569" stop-color="#00d1ff"/><stop offset="0.594" stop-color="#00b2ff"/><stop offset="0.646" stop-color="#0080ff"/><stop offset="0.713" stop-color="#0040ff"/><stop offset="0.784" stop-color="#0000ff"/><stop offset="0.823" stop-color="#0000eb"/><stop offset="0.865" stop-color="#0000d6"/><stop offset="0.888" stop-color="#0000cc"/><stop offset="0.913" stop-color="#0000c2"/><stop offset="0.943" stop-color="#0000b8"/><stop offset="1.000" stop-color="#0000ad"/></linearGradient>
<linearGradient id="a3" gradientUnits="userSpaceOnUse" x1="0" y1="86.6" x2="0" y2="252.4"><stop offset="0.000" stop-color="#a00000"/><stop offset="0.033" stop-color="#c60000"/><stop offset="0.084" stop-color="#ff0000"/><stop offset="0.136" stop-color="#ff4000"/><stop offset="0.188" stop-color="#ff8000"/><stop offset="0.231" stop-color="#ffb100"/><stop offset="0.265" stop-color="#ffd800"/><stop offset="0.300" stop-color="#ffff00"/><stop offset="0.327" stop-color="#ecff00"/><stop offset="0.354" stop-color="#d5ff00"/><stop offset="0.381" stop-color="#87ff00"/><stop offset="0.408" stop-color="#00ff00"/><stop offset="0.445" stop-color="#00ff81"/><stop offset="0.483" stop-color="#00ffce"/><stop offset="0.516" stop-color="#00fff2"/><stop offset="0.550" stop-color="#00f0ff"/><stop offset="0.574" stop-color="#00d1ff"/><stop offset="0.599" stop-color="#00b2ff"/><stop offset="0.650" stop-color="#0080ff"/><stop offset="0.716" stop-color="#0040ff"/><stop offset="0.787" stop-color="#0000ff"/><stop offset="0.825" stop-color="#0000eb"/><stop offset="0.866" stop-color="#0000d6"/><stop offset="0.889" stop-color="#0000cc"/><stop offset="0.914" stop-color="#0000c2"/><stop offset="0.943" stop-color="#0000b8"/><stop offset="1.000" stop-color="#0000ad"/></linearGradient>
<linearGradient id="a2" gradientUnits="userSpaceOnUse" x1="0" y1="86" x2="0" y2="252.9"><stop offset="0.000" stop-color="#960000"/><stop offset="0.041" stop-color="#c60000"/><stop offset="0.092" stop-color="#ff0000"/><stop offset="0.143" stop-color="#ff4000"/><stop offset="0.195" stop-color="#ff8000"/><stop offset="0.237" stop-color="#ffb100"/><stop offset="0.272" stop-color="#ffd800"/><stop offset="0.306" stop-color="#ffff00"/><stop offset="0.333" stop-color="#ecff00"/><stop offset="0.359" stop-color="#d5ff00"/><stop offset="0.386" stop-color="#87ff00"/><stop offset="0.413" stop-color="#00ff00"/><stop offset="0.450" stop-color="#00ff81"/><stop offset="0.487" stop-color="#00ffce"/><stop offset="0.520" stop-color="#00fff2"/><stop offset="0.554" stop-color="#00f0ff"/><stop offset="0.578" stop-color="#00d1ff"/><stop offset="0.603" stop-color="#00b2ff"/><stop offset="0.653" stop-color="#0080ff"/><stop offset="0.719" stop-color="#0040ff"/><stop offset="0.789" stop-color="#0000ff"/><stop offset="0.827" stop-color="#0000eb"/><stop offset="0.868" stop-color="#0000d6"/><stop offset="0.890" stop-color="#0000cc"/><stop offset="0.915" stop-color="#0000c2"/><stop offset="0.944" stop-color="#0000b8"/><stop offset="1.000" stop-color="#0000ad"/></linearGradient>
<linearGradient id="a1" gradientUnits="userSpaceOnUse" x1="0" y1="85.8" x2="0" y2="253.4"><stop offset="0.000" stop-color="#900000"/><stop offset="0.047" stop-color="#c60000"/><stop offset="0.097" stop-color="#ff0000"/><stop offset="0.148" stop-color="#ff4000"/><stop offset="0.200" stop-color="#ff8000"/><stop offset="0.242" stop-color="#ffb100"/><stop offset="0.276" stop-color="#ffd800"/><stop offset="0.311" stop-color="#ffff00"/><stop offset="0.337" stop-color="#ecff00"/><stop offset="0.363" stop-color="#d5ff00"/><stop offset="0.390" stop-color="#87ff00"/><stop offset="0.417" stop-color="#00ff00"/><stop offset="0.453" stop-color="#00ff81"/><stop offset="0.490" stop-color="#00ffce"/><stop offset="0.523" stop-color="#00fff2"/><stop offset="0.556" stop-color="#00f0ff"/><stop offset="0.581" stop-color="#00d1ff"/><stop offset="0.605" stop-color="#00b2ff"/><stop offset="0.655" stop-color="#0080ff"/><stop offset="0.720" stop-color="#0040ff"/><stop offset="0.790" stop-color="#0000ff"/><stop offset="0.828" stop-color="#0000eb"/><stop offset="0.868" stop-color="#0000d6"/><stop offset="0.891" stop-color="#0000cc"/><stop offset="0.915" stop-color="#0000c2"/><stop offset="0.944" stop-color="#0000b8"/><stop offset="1.000" stop-color="#0000ad"/></linearGradient>
<linearGradient id="a0" gradientUnits="userSpaceOnUse" x1="0" y1="86" x2="0" y2="253.9"><stop offset="0.000" stop-color="#8d0000"/><stop offset="0.049" stop-color="#c60000"/><stop offset="0.099" stop-color="#ff0000"/><stop offset="0.150" stop-color="#ff4000"/><stop offset="0.202" stop-color="#ff8000"/><stop offset="0.244" stop-color="#ffb100"/><stop offset="0.278" stop-color="#ffd800"/><stop offset="0.313" stop-color="#ffff00"/><stop offset="0.339" stop-color="#ecff00"/><stop offset="0.365" stop-color="#d5ff00"/><stop offset="0.392" stop-color="#87ff00"/><stop offset="0.419" stop-color="#00ff00"/><stop offset="0.455" stop-color="#00ff81"/><stop offset="0.492" stop-color="#00ffce"/><stop offset="0.524" stop-color="#00fff2"/><stop offset="0.558" stop-color="#00f0ff"/><stop offset="0.582" stop-color="#00d1ff"/><stop offset="0.606" stop-color="#00b2ff"/><stop offset="0.656" stop-color="#0080ff"/><stop offset="0.721" stop-color="#0040ff"/><stop offset="0.791" stop-color="#0000ff"/><stop offset="0.828" stop-color="#0000eb"/><stop offset="0.869" stop-color="#0000d6"/><stop offset="0.891" stop-color="#0000cc"/><stop offset="0.915" stop-color="#0000c2"/><stop offset="0.944" stop-color="#0000b8"/><stop offset="1.000" stop-color="#0000ad"/></linearGradient>
<linearGradient id="b29" gradientUnits="userSpaceOnUse" x1="0" y1="51.4" x2="0" y2="191.9"><stop offset="0.000" stop-color="#960000"/><stop offset="0.038" stop-color="#c60000"/><stop offset="0.086" stop-color="#ff0000"/><stop offset="0.134" stop-color="#ff4000"/><stop offset="0.182" stop-color="#ff8000"/><stop offset="0.221" stop-color="#ffb100"/><stop offset="0.253" stop-color="#ffd800"/><stop offset="0.286" stop-color="#ffff00"/><stop offset="0.310" stop-color="#ecff00"/><stop offset="0.335" stop-color="#d5ff00"/><stop offset="0.360" stop-color="#87ff00"/><stop offset="0.385" stop-color="#00ff00"/><stop offset="0.419" stop-color="#00ff81"/><stop offset="0.454" stop-color="#00ffce"/><stop offset="0.485" stop-color="#00fff2"/><stop offset="0.517" stop-color="#00f0ff"/><stop offset="0.540" stop-color="#00d1ff"/><stop offset="0.564" stop-color="#00b2ff"/><stop offset="0.613" stop-color="#0080ff"/><stop offset="0.679" stop-color="#0040ff"/><stop offset="0.751" stop-color="#0000ff"/><stop offset="0.791" stop-color="#0000eb"/><stop offset="0.837" stop-color="#0000d6"/><stop offset="0.862" stop-color="#0000cc"/><stop offset="0.891" stop-color="#0000c2"/><stop offset="0.926" stop-color="#0000b8"/><stop offset="1.000" stop-color="#0000ad"/></linearGradient>
<linearGradient id="b28" gradientUnits="userSpaceOnUse" x1="0" y1="55.1" x2="0" y2="193.8"><stop offset="0.000" stop-color="#ab0000"/><stop offset="0.022" stop-color="#c60000"/><stop offset="0.070" stop-color="#ff0000"/><stop offset="0.119" stop-color="#ff4000"/><stop offset="0.168" stop-color="#ff8000"/><stop offset="0.208" stop-color="#ffb100"/><stop offset="0.240" stop-color="#ffd800"/><stop offset="0.273" stop-color="#ffff00"/><stop offset="0.298" stop-color="#ecff00"/><stop offset="0.323" stop-color="#d5ff00"/><stop offset="0.349" stop-color="#87ff00"/><stop offset="0.374" stop-color="#00ff00"/><stop offset="0.409" stop-color="#00ff81"/><stop offset="0.445" stop-color="#00ffce"/><stop offset="0.476" stop-color="#00fff2"/><stop offset="0.509" stop-color="#00f0ff"/><stop offset="0.532" stop-color="#00d1ff"/><stop offset="0.556" stop-color="#00b2ff"/><stop offset="0.606" stop-color="#0080ff"/><stop offset="0.673" stop-color="#0040ff"/><stop offset="0.746" stop-color="#0000ff"/><stop offset="0.788" stop-color="#0000eb"/><stop offset="0.834" stop-color="#0000d6"/><stop offset="0.860" stop-color="#0000cc"/><stop offset="0.889" stop-color="#0000c2"/><stop offset="0.925" stop-color="#0000b8"/><stop offset="1.000" stop-color="#0000ad"/></linearGradient>
<linearGradient id="b27" gradientUnits="userSpaceOnUse" x1="0" y1="58.8" x2="0" y2="195.7"><stop offset="0.000" stop-color="#bf0000"/><stop offset="0.005" stop-color="#c60000"/><stop offset="0.054" stop-color="#ff0000"/><stop offset="0.104" stop-color="#ff4000"/><stop offset="0.154" stop-color="#ff8000"/><stop offset="0.194" stop-color="#ffb100"/><stop offset="0.227" stop-color="#ffd800"/><stop offset="0.260" stop-color="#ffff00"/><stop offset="0.286" stop-color="#ecff00"/><stop offset="0.311" stop-color="#d5ff00"/><stop offset="0.337" stop-color="#87ff00"/><stop offset="0.363" stop-color="#00ff00"/><stop offset="0.398" stop-color="#00ff81"/><stop offset="0.435" stop-color="#00ffce"/><stop offset="0.467" stop-color="#00fff2"/><stop offset="0.500" stop-color="#00f0ff"/><stop offset="0.524" stop-color="#00d1ff"/><stop offset="0.548" stop-color="#00b2ff"/><stop offset="0.599" stop-color="#0080ff"/><stop offset="0.667" stop-color="#0040ff"/><stop offset="0.742" stop-color="#0000ff"/><stop offset="0.784" stop-color="#0000eb"/><stop offset="0.830" stop-color="#0000d6"/><stop offset="0.857" stop-color="#0000cc"/><stop offset="0.887" stop-color="#0000c2"/><stop offset="0.924" stop-color="#0000b8"/><stop offset="1.000" stop-color="#0000ad"/></linearGradient>
<linearGradient id="b26" gradientUnits="userSpaceOnUse" x1="0" y1="62.5" x2="0" y2="197.5"><stop offset="0.000" stop-color="#d40000"/><stop offset="0.037" stop-color="#ff0000"/><stop offset="0.088" stop-color="#ff4000"/><stop offset="0.139" stop-color="#ff8000"/><stop offset="0.180" stop-color="#ffb100"/><stop offset="0.213" stop-color="#ffd800"/><stop offset="0.247" stop-color="#ffff00"/><stop offset="0.273" stop-color="#ecff00"/><stop offset="0.299" stop-color="#d5ff00"/><stop offset="0.325" stop-color="#87ff00"/><stop offset="0.351" stop-color="#00ff00"/><stop offset="0.387" stop-color="#00ff81"/><stop offset="0.424" stop-color="#00ffce"/><stop offset="0.457" stop-color="#00fff2"/><stop offset="0.491" stop-color="#00f0ff"/><stop offset="0.515" stop-color="#00d1ff"/><stop offset="0.540" stop-color="#00b2ff"/><stop offset="0.592" stop-color="#0080ff"/><stop offset="0.661" stop-color="#0040ff"/><stop offset="0.737" stop-color="#0000ff"/><stop offset="0.779" stop-color="#0000eb"/><stop offset="0.827" stop-color="#0000d6"/><stop offset="0.854" stop-color="#0000cc"/><stop offset="0.885" stop-color="#0000c2"/><stop offset="0.922" stop-color="#0000b8"/><stop offset="1.000" stop-color="#0000ad"/></linearGradient>
<linearGradient id="b25" gradientUnits="userSpaceOnUse" x1="0" y1="66.2" x2="0" y2="199.4"><stop offset="0.000" stop-color="#e80000"/><stop offset="0.020" stop-color="#ff0000"/><stop offset="0.071" stop-color="#ff4000"/><stop offset="0.123" stop-color="#ff8000"/><stop offset="0.165" stop-color="#ffb100"/><stop offset="0.199" stop-color="#ffd800"/><stop offset="0.233" stop-color="#ffff00"/><stop offset="0.259" stop-color="#ecff00"/><stop offset="0.286" stop-color="#d5ff00"/><stop offset="0.312" stop-color="#87ff00"/><stop offset="0.339" stop-color="#00ff00"/><stop offset="0.376" stop-color="#00ff81"/><stop offset="0.413" stop-color="#00ffce"/><stop offset="0.447" stop-color="#00fff2"/><stop offset="0.481" stop-color="#00f0ff"/><stop offset="0.506" stop-color="#00d1ff"/><stop offset="0.531" stop-color="#00b2ff"/><stop offset="0.584" stop-color="#0080ff"/><stop offset="0.654" stop-color="#0040ff"/><stop offset="0.732" stop-color="#0000ff"/><stop offset="0.775" stop-color="#0000eb"/><stop offset="0.824" stop-color="#0000d6"/><stop offset="0.851" stop-color="#0000cc"/><stop offset="0.882" stop-color="#0000c2"/><stop offset="0.920" stop-color="#0000b8"/><stop offset="1.000" stop-color="#0000ad"/></linearGradient>
<linearGradient id="b24" gradientUnits="userSpaceOnUse" x1="0" y1="69.9" x2="0" y2="201.3"><stop offset="0.000" stop-color="#fc0000"/><stop offset="0.002" stop-color="#ff0000"/><stop offset="0.054" stop-color="#ff4000"/><stop offset="0.107" stop-color="#ff8000"/><stop offset="0.149" stop-color="#ffb100"/><stop offset="0.184" stop-color="#ffd800"/><stop offset="0.219" stop-color="#ffff00"/><stop offset="0.245" stop-color="#ecff00"/><stop offset="0.272" stop-color="#d5ff00"/><stop offset="0.299" stop-color="#87ff00"/><stop offset="0.327" stop-color="#00ff00"/><stop offset="0.364" stop-color="#00ff81"/><stop offset="0.402" stop-color="#00ffce"/><stop offset="0.436" stop-color="#00fff2"/><stop offset="0.471" stop-color="#00f0ff"/><stop offset="0.496" stop-color="#00d1ff"/><stop offset="0.522" stop-color="#00b2ff"/><stop offset="0.576" stop-color="#0080ff"/><stop offset="0.647" stop-color="#0040ff"/><stop offset="0.726" stop-color="#0000ff"/><stop offset="0.770" stop-color="#0000eb"/><stop offset="0.820" stop-color="#0000d6"/><stop offset="0.848" stop-color="#0000cc"/><stop offset="0.880" stop-color="#0000c2"/><stop offset="0.919" stop-color="#0000b8"/><stop offset="1.000" stop-color="#0000ad"/></linearGradient>
<linearGradient id="b23" gradientUnits="userSpaceOnUse" x1="0" y1="73.6" x2="0" y2="203.1"><stop offset="0.000" stop-color="#ff1400"/><stop offset="0.036" stop-color="#ff4000"/><stop offset="0.090" stop-color="#ff8000"/><stop offset="0.133" stop-color="#ffb100"/><stop offset="0.168" stop-color="#ffd800"/><stop offset="0.204" stop-color="#ffff00"/><stop offset="0.231" stop-color="#ecff00"/><stop offset="0.258" stop-color="#d5ff00"/><stop offset="0.286" stop-color="#87ff00"/><stop offset="0.314" stop-color="#00ff00"/><stop offset="0.352" stop-color="#00ff81"/><stop offset="0.391" stop-color="#00ffce"/><stop offset="0.425" stop-color="#00fff2"/><stop offset="0.460" stop-color="#00f0ff"/><stop offset="0.486" stop-color="#00d1ff"/><stop offset="0.513" stop-color="#00b2ff"/><stop offset="0.567" stop-color="#0080ff"/><stop offset="0.640" stop-color="#0040ff"/><stop offset="0.721" stop-color="#0000ff"/><stop offset="0.766" stop-color="#0000eb"/><stop offset="0.816" stop-color="#0000d6"/><stop offset="0.845" stop-color="#0000cc"/><stop offset="0.877" stop-color="#0000c2"/><stop offset="0.917" stop-color="#0000b8"/><stop offset="1.000" stop-color="#0000ad"/></linearGradient>
<linearGradient id="b22" gradientUnits="userSpaceOnUse" x1="0" y1="77.3" x2="0" y2="205"><stop offset="0.000" stop-color="#ff2a00"/><stop offset="0.018" stop-color="#ff4000"/><stop offset="0.072" stop-color="#ff8000"/><stop offset="0.117" stop-color="#ffb100"/><stop offset="0.152" stop-color="#ffd800"/><stop offset="0.189" stop-color="#ffff00"/><stop offset="0.216" stop-color="#ecff00"/><stop offset="0.244" stop-color="#d5ff00"/><stop offset="0.272" stop-color="#87ff00"/><stop offset="0.300" stop-color="#00ff00"/><stop offset="0.339" stop-color="#00ff81"/><stop offset="0.378" stop-color="#00ffce"/><stop offset="0.414" stop-color="#00fff2"/><stop offset="0.450" stop-color="#00f0ff"/><stop offset="0.476" stop-color="#00d1ff"/><stop offset="0.503" stop-color="#00b2ff"/><stop offset="0.558" stop-color="#0080ff"/><stop offset="0.633" stop-color="#0040ff"/><stop offset="0.715" stop-color="#0000ff"/><stop offset="0.761" stop-color="#0000eb"/><stop offset="0.812" stop-color="#0000d6"/><stop offset="0.842" stop-color="#0000cc"/><stop offset="0.875" stop-color="#0000c2"/><stop offset="0.915" stop-color="#0000b8"/><stop offset="1.000" stop-color="#0000ad"/></linearGradient>
<linearGradient id="b21" gradientUnits="userSpaceOnUse" x1="0" y1="81" x2="0" y2="206.9"><stop offset="0.000" stop-color="#ff4100"/><stop offset="0.054" stop-color="#ff8000"/><stop offset="0.099" stop-color="#ffb100"/><stop offset="0.136" stop-color="#ffd800"/><stop offset="0.172" stop-color="#ffff00"/><stop offset="0.200" stop-color="#ecff00"/><stop offset="0.229" stop-color="#d5ff00"/><stop offset="0.257" stop-color="#87ff00"/><stop offset="0.286" stop-color="#00ff00"/><stop offset="0.326" stop-color="#00ff81"/><stop offset="0.366" stop-color="#00ffce"/><stop offset="0.402" stop-color="#00fff2"/><stop offset="0.438" stop-color="#00f0ff"/><stop offset="0.465" stop-color="#00d1ff"/><stop offset="0.492" stop-color="#00b2ff"/><stop offset="0.549" stop-color="#0080ff"/><stop offset="0.625" stop-color="#0040ff"/><stop offset="0.709" stop-color="#0000ff"/><stop offset="0.756" stop-color="#0000eb"/><stop offset="0.808" stop-color="#0000d6"/><stop offset="0.838" stop-color="#0000cc"/><stop offset="0.872" stop-color="#0000c2"/><stop offset="0.913" stop-color="#0000b8"/><stop offset="1.000" stop-color="#0000ad"/></linearGradient>
<linearGradient id="b20" gradientUnits="userSpaceOnUse" x1="0" y1="84.7" x2="0" y2="208.7"><stop offset="0.000" stop-color="#ff5800"/><stop offset="0.035" stop-color="#ff8000"/><stop offset="0.081" stop-color="#ffb100"/><stop offset="0.118" stop-color="#ffd800"/><stop offset="0.156" stop-color="#ffff00"/><stop offset="0.184" stop-color="#ecff00"/><stop offset="0.213" stop-color="#d5ff00"/><stop offset="0.242" stop-color="#87ff00"/><stop offset="0.272" stop-color="#00ff00"/><stop offset="0.312" stop-color="#00ff81"/><stop offset="0.353" stop-color="#00ffce"/><stop offset="0.389" stop-color="#00fff2"/><stop offset="0.427" stop-color="#00f0ff"/><stop offset="0.454" stop-color="#00d1ff"/><stop offset="0.482" stop-color="#00b2ff"/><stop offset="0.539" stop-color="#0080ff"/><stop offset="0.617" stop-color="#0040ff"/><stop offset="0.702" stop-color="#0000ff"/><stop offset="0.750" stop-color="#0000eb"/><stop offset="0.804" stop-color="#0000d6"/><stop offset="0.834" stop-color="#0000cc"/><stop offset="0.869" stop-color="#0000c2"/><stop offset="0.911" stop-color="#0000b8"/><stop offset="1.000" stop-color="#0000ad"/></linearGradient>
<linearGradient id="b19" gradientUnits="userSpaceOnUse" x1="0" y1="88.4" x2="0" y2="210.6"><stop offset="0.000" stop-color="#ff6f00"/><stop offset="0.015" stop-color="#ff8000"/><stop offset="0.062" stop-color="#ffb100"/><stop offset="0.100" stop-color="#ffd800"/><stop offset="0.138" stop-color="#ffff00"/><stop offset="0.167" stop-color="#ecff00"/><stop offset="0.196" stop-color="#d5ff00"/><stop offset="0.226" stop-color="#87ff00"/><stop offset="0.256" stop-color="#00ff00"/><stop offset="0.297" stop-color="#00ff81"/><stop offset="0.339" stop-color="#00ffce"/><stop offset="0.376" stop-color="#00fff2"/><stop offset="0.414" stop-color="#00f0ff"/><stop offset="0.442" stop-color="#00d1ff"/><stop offset="0.470" stop-color="#00b2ff"/><stop offset="0.529" stop-color="#0080ff"/><stop offset="0.608" stop-color="#0040ff"/><stop offset="0.695" stop-color="#0000ff"/><stop offset="0.744" stop-color="#0000eb"/><stop offset="0.799" stop-color="#0000d6"/><stop offset="0.830" stop-color="#0000cc"/><stop offset="0.866" stop-color="#0000c2"/><stop offset="0.909" stop-color="#0000b8"/><stop offset="1.000" stop-color="#0000ad"/></linearGradient>
<linearGradient id="b18" gradientUnits="userSpaceOnUse" x1="0" y1="92.1" x2="0" y2="212.5"><stop offset="0.000" stop-color="#ff8500"/><stop offset="0.042" stop-color="#ffb100"/><stop offset="0.081" stop-color="#ffd800"/><stop offset="0.120" stop-color="#ffff00"/><stop offset="0.149" stop-color="#ecff00"/><stop offset="0.179" stop-color="#d5ff00"/><stop offset="0.210" stop-color="#87ff00"/><stop offset="0.240" stop-color="#00ff00"/><stop offset="0.282" stop-color="#00ff81"/><stop offset="0.324" stop-color="#00ffce"/><stop offset="0.362" stop-color="#00fff2"/><stop offset="0.401" stop-color="#00f0ff"/><stop offset="0.430" stop-color="#00d1ff"/><stop offset="0.459" stop-color="#00b2ff"/><stop offset="0.519" stop-color="#0080ff"/><stop offset="0.599" stop-color="#0040ff"/><stop offset="0.688" stop-color="#0000ff"/><stop offset="0.738" stop-color="#0000eb"/><stop offset="0.795" stop-color="#0000d6"/><stop offset="0.826" stop-color="#0000cc"/><stop offset="0.862" stop-color="#0000c2"/><stop offset="0.907" stop-color="#0000b8"/><stop offset="1.000" stop-color="#0000ad"/></linearGradient>
<linearGradient id="b17" gradientUnits="userSpaceOnUse" x1="0" y1="95.8" x2="0" y2="214.3"><stop offset="0.000" stop-color="#ff9b00"/><stop offset="0.022" stop-color="#ffb100"/><stop offset="0.061" stop-color="#ffd800"/><stop offset="0.101" stop-color="#ffff00"/><stop offset="0.131" stop-color="#ecff00"/><stop offset="0.161" stop-color="#d5ff00"/><stop offset="0.192" stop-color="#87ff00"/><stop offset="0.223" stop-color="#00ff00"/><stop offset="0.266" stop-color="#00ff81"/><stop offset="0.309" stop-color="#00ffce"/><stop offset="0.348" stop-color="#00fff2"/><stop offset="0.388" stop-color="#00f0ff"/><stop offset="0.417" stop-color="#00d1ff"/><stop offset="0.446" stop-color="#00b2ff"/><stop offset="0.508" stop-color="#0080ff"/><stop offset="0.590" stop-color="#0040ff"/><stop offset="0.681" stop-color="#0000ff"/><stop offset="0.732" stop-color="#0000eb"/><stop offset="0.790" stop-color="#0000d6"/><stop offset="0.822" stop-color="#0000cc"/><stop offset="0.859" stop-color="#0000c2"/><stop offset="0.904" stop-color="#0000b8"/><stop offset="1.000" stop-color="#0000ad"/></linearGradient>
<linearGradient id="b16" gradientUnits="userSpaceOnUse" x1="0" y1="99.5" x2="0" y2="216.2"><stop offset="0.000" stop-color="#ffb100"/><stop offset="0.040" stop-color="#ffd800"/><stop offset="0.081" stop-color="#ffff00"/><stop offset="0.111" stop-color="#ecff00"/><stop offset="0.142" stop-color="#d5ff00"/><stop offset="0.174" stop-color="#87ff00"/><stop offset="0.206" stop-color="#00ff00"/><stop offset="0.249" stop-color="#00ff81"/><stop offset="0.293" stop-color="#00ffce"/><stop offset="0.333" stop-color="#00fff2"/><stop offset="0.374" stop-color="#00f0ff"/><stop offset="0.403" stop-color="#00d1ff"/><stop offset="0.433" stop-color="#00b2ff"/><stop offset="0.496" stop-color="#0080ff"/><stop offset="0.580" stop-color="#0040ff"/><stop offset="0.673" stop-color="#0000ff"/><stop offset="0.725" stop-color="#0000eb"/><stop offset="0.784" stop-color="#0000d6"/><stop offset="0.818" stop-color="#0000cc"/><stop offset="0.855" stop-color="#0000c2"/><stop offset="0.902" stop-color="#0000b8"/><stop offset="1.000" stop-color="#0000ad"/></linearGradient>
<linearGradient id="b15" gradientUnits="userSpaceOnUse" x1="0" y1="103.2" x2="0" y2="218.1"><stop offset="0.000" stop-color="#ffc600"/><stop offset="0.018" stop-color="#ffd800"/><stop offset="0.060" stop-color="#ffff00"/><stop offset="0.091" stop-color="#ecff00"/><stop offset="0.123" stop-color="#d5ff00"/><stop offset="0.155" stop-color="#87ff00"/><stop offset="0.188" stop-color="#00ff00"/><stop offset="0.232" stop-color="#00ff81"/><stop offset="0.277" stop-color="#00ffce"/><stop offset="0.317" stop-color="#00fff2"/><stop offset="0.359" stop-color="#00f0ff"/><stop offset="0.389" stop-color="#00d1ff"/><stop offset="0.420" stop-color="#00b2ff"/><stop offset="0.484" stop-color="#0080ff"/><stop offset="0.570" stop-color="#0040ff"/><stop offset="0.665" stop-color="#0000ff"/><stop offset="0.719" stop-color="#0000eb"/><stop offset="0.779" stop-color="#0000d6"/><stop offset="0.813" stop-color="#0000cc"/><stop offset="0.852" stop-color="#0000c2"/><stop offset="0.899" stop-color="#0000b8"/><stop offset="1.000" stop-color="#0000ad"/></linearGradient>
<linearGradient id="b14" gradientUnits="userSpaceOnUse" x1="0" y1="106.9" x2="0" y2="219.9"><stop offset="0.000" stop-color="#ffdc00"/><stop offset="0.038" stop-color="#ffff00"/><stop offset="0.070" stop-color="#ecff00"/><stop offset="0.102" stop-color="#d5ff00"/><stop offset="0.135" stop-color="#87ff00"/><stop offset="0.168" stop-color="#00ff00"/><stop offset="0.213" stop-color="#00ff81"/><stop offset="0.260" stop-color="#00ffce"/><stop offset="0.301" stop-color="#00fff2"/><stop offset="0.343" stop-color="#00f0ff"/><stop offset="0.374" stop-color="#00d1ff"/><stop offset="0.406" stop-color="#00b2ff"/><stop offset="0.471" stop-color="#0080ff"/><stop offset="0.559" stop-color="#0040ff"/><stop offset="0.656" stop-color="#0000ff"/><stop offset="0.711" stop-color="#0000eb"/><stop offset="0.773" stop-color="#0000d6"/><stop offset="0.808" stop-color="#0000cc"/><stop offset="0.848" stop-color="#0000c2"/><stop offset="0.897" stop-color="#0000b8"/><stop offset="1.000" stop-color="#0000ad"/></linearGradient>
<linearGradient id="b13" gradientUnits="userSpaceOnUse" x1="0" y1="110.6" x2="0" y2="221.8"><stop offset="0.000" stop-color="#fff200"/><stop offset="0.014" stop-color="#ffff00"/><stop offset="0.047" stop-color="#ecff00"/><stop offset="0.080" stop-color="#d5ff00"/><stop offset="0.114" stop-color="#87ff00"/><stop offset="0.148" stop-color="#00ff00"/><stop offset="0.194" stop-color="#00ff81"/><stop offset="0.241" stop-color="#00ffce"/><stop offset="0.283" stop-color="#00fff2"/><stop offset="0.327" stop-color="#00f0ff"/><stop offset="0.358" stop-color="#00d1ff"/><stop offset="0.391" stop-color="#00b2ff"/><stop offset="0.458" stop-color="#0080ff"/><stop offset="0.547" stop-color="#0040ff"/><stop offset="0.647" stop-color="#0000ff"/><stop offset="0.703" stop-color="#0000eb"/><stop offset="0.767" stop-color="#0000d6"/><stop offset="0.803" stop-color="#0000cc"/><stop offset="0.843" stop-color="#0000c2"/><stop offset="0.894" stop-color="#0000b8"/><stop offset="1.000" stop-color="#0000ad"/></linearGradient>
<linearGradient id="b12" gradientUnits="userSpaceOnUse" x1="0" y1="114.3" x2="0" y2="223.7"><stop offset="0.000" stop-color="#faff00"/><stop offset="0.024" stop-color="#ecff00"/><stop offset="0.057" stop-color="#d5ff00"/><stop offset="0.092" stop-color="#87ff00"/><stop offset="0.127" stop-color="#00ff00"/><stop offset="0.174" stop-color="#00ff81"/><stop offset="0.222" stop-color="#00ffce"/><stop offset="0.265" stop-color="#00fff2"/><stop offset="0.309" stop-color="#00f0ff"/><stop offset="0.342" stop-color="#00d1ff"/><stop offset="0.375" stop-color="#00b2ff"/><stop offset="0.443" stop-color="#0080ff"/><stop offset="0.535" stop-color="#0040ff"/><stop offset="0.638" stop-color="#0000ff"/><stop offset="0.695" stop-color="#0000eb"/><stop offset="0.760" stop-color="#0000d6"/><stop offset="0.797" stop-color="#0000cc"/><stop offset="0.839" stop-color="#0000c2"/><stop offset="0.890" stop-color="#0000b8"/><stop offset="1.000" stop-color="#0000ad"/></linearGradient>
<linearGradient id="b11" gradientUnits="userSpaceOnUse" x1="0" y1="118" x2="0" y2="225.5"><stop offset="0.000" stop-color="#ebff00"/><stop offset="0.033" stop-color="#d5ff00"/><stop offset="0.068" stop-color="#87ff00"/><stop offset="0.104" stop-color="#00ff00"/><stop offset="0.152" stop-color="#00ff81"/><stop offset="0.202" stop-color="#00ffce"/><stop offset="0.246" stop-color="#00fff2"/><stop offset="0.291" stop-color="#00f0ff"/><stop offset="0.324" stop-color="#00d1ff"/><stop offset="0.358" stop-color="#00b2ff"/><stop offset="0.428" stop-color="#0080ff"/><stop offset="0.522" stop-color="#0040ff"/><stop offset="0.627" stop-color="#0000ff"/><stop offset="0.687" stop-color="#0000eb"/><stop offset="0.753" stop-color="#0000d6"/><stop offset="0.791" stop-color="#0000cc"/><stop offset="0.834" stop-color="#0000c2"/><stop offset="0.887" stop-color="#0000b8"/><stop offset="1.000" stop-color="#0000ad"/></linearGradient>
<linearGradient id="b10" gradientUnits="userSpaceOnUse" x1="0" y1="121.7" x2="0" y2="227.4"><stop offset="0.000" stop-color="#dbff00"/><stop offset="0.008" stop-color="#d5ff00"/><stop offset="0.044" stop-color="#87ff00"/><stop offset="0.080" stop-color="#00ff00"/><stop offset="0.130" stop-color="#00ff81"/><stop offset="0.180" stop-color="#00ffce"/><stop offset="0.225" stop-color="#00fff2"/><stop offset="0.272" stop-color="#00f0ff"/><stop offset="0.306" stop-color="#00d1ff"/><stop offset="0.340" stop-color="#00b2ff"/><stop offset="0.412" stop-color="#0080ff"/><stop offset="0.509" stop-color="#0040ff"/><stop offset="0.617" stop-color="#0000ff"/><stop offset="0.677" stop-color="#0000eb"/><stop offset="0.746" stop-color="#0000d6"/><stop offset="0.785" stop-color="#0000cc"/><stop offset="0.829" stop-color="#0000c2"/><stop offset="0.884" stop-color="#0000b8"/><stop offset="1.000" stop-color="#0000ad"/></linearGradient>
<linearGradient id="b9" gradientUnits="userSpaceOnUse" x1="0" y1="125.4" x2="0" y2="229.3"><stop offset="0.000" stop-color="#b1ff00"/><stop offset="0.018" stop-color="#87ff00"/><stop offset="0.055" stop-color="#00ff00"/><stop offset="0.106" stop-color="#00ff81"/><stop offset="0.157" stop-color="#00ffce"/><stop offset="0.204" stop-color="#00fff2"/><stop offset="0.251" stop-color="#00f0ff"/><stop offset="0.286" stop-color="#00d1ff"/><stop offset="0.322" stop-color="#00b2ff"/><stop offset="0.395" stop-color="#0080ff"/><stop offset="0.494" stop-color="#0040ff"/><stop offset="0.605" stop-color="#0000ff"/><stop offset="0.667" stop-color="#0000eb"/><stop offset="0.738" stop-color="#0000d6"/><stop offset="0.778" stop-color="#0000cc"/><stop offset="0.824" stop-color="#0000c2"/><stop offset="0.880" stop-color="#0000b8"/><stop offset="1.000" stop-color="#0000ad"/></linearGradient>
<linearGradient id="b8" gradientUnits="userSpaceOnUse" x1="0" y1="129.1" x2="0" y2="231.1"><stop offset="0.000" stop-color="#6bff00"/><stop offset="0.028" stop-color="#00ff00"/><stop offset="0.080" stop-color="#00ff81"/><stop offset="0.133" stop-color="#00ffce"/><stop offset="0.181" stop-color="#00fff2"/><stop offset="0.229" stop-color="#00f0ff"/><stop offset="0.265" stop-color="#00d1ff"/><stop offset="0.302" stop-color="#00b2ff"/><stop offset="0.377" stop-color="#0080ff"/><stop offset="0.479" stop-color="#0040ff"/><stop offset="0.593" stop-color="#0000ff"/><stop offset="0.657" stop-color="#0000eb"/><stop offset="0.729" stop-color="#0000d6"/><stop offset="0.771" stop-color="#0000cc"/><stop offset="0.818" stop-color="#0000c2"/><stop offset="0.876" stop-color="#0000b8"/><stop offset="1.000" stop-color="#0000ad"/></linearGradient>
<linearGradient id="b7" gradientUnits="userSpaceOnUse" x1="0" y1="132.8" x2="0" y2="233"><stop offset="0.000" stop-color="#00ff00"/><stop offset="0.053" stop-color="#00ff81"/><stop offset="0.108" stop-color="#00ffce"/><stop offset="0.156" stop-color="#00fff2"/><stop offset="0.206" stop-color="#00f0ff"/><stop offset="0.243" stop-color="#00d1ff"/><stop offset="0.280" stop-color="#00b2ff"/><stop offset="0.358" stop-color="#0080ff"/><stop offset="0.463" stop-color="#0040ff"/><stop offset="0.580" stop-color="#0000ff"/><stop offset="0.646" stop-color="#0000eb"/><stop offset="0.720" stop-color="#0000d6"/><stop offset="0.763" stop-color="#0000cc"/><stop offset="0.812" stop-color="#0000c2"/><stop offset="0.872" stop-color="#0000b8"/><stop offset="1.000" stop-color="#0000ad"/></linearGradient>
<linearGradient id="b6" gradientUnits="userSpaceOnUse" x1="0" y1="136.5" x2="0" y2="234.9"><stop offset="0.000" stop-color="#00ff51"/><stop offset="0.024" stop-color="#00ff81"/><stop offset="0.080" stop-color="#00ffce"/><stop offset="0.130" stop-color="#00fff2"/><stop offset="0.182" stop-color="#00f0ff"/><stop offset="0.219" stop-color="#00d1ff"/><stop offset="0.258" stop-color="#00b2ff"/><stop offset="0.338" stop-color="#0080ff"/><stop offset="0.445" stop-color="#0040ff"/><stop offset="0.566" stop-color="#0000ff"/><stop offset="0.634" stop-color="#0000eb"/><stop offset="0.711" stop-color="#0000d6"/><stop offset="0.755" stop-color="#0000cc"/><stop offset="0.805" stop-color="#0000c2"/><stop offset="0.867" stop-color="#0000b8"/><stop offset="1.000" stop-color="#0000ad"/></linearGradient>
<linearGradient id="b5" gradientUnits="userSpaceOnUse" x1="0" y1="140.2" x2="0" y2="236.7"><stop offset="0.000" stop-color="#00ff8c"/><stop offset="0.051" stop-color="#00ffce"/><stop offset="0.102" stop-color="#00fff2"/><stop offset="0.155" stop-color="#00f0ff"/><stop offset="0.194" stop-color="#00d1ff"/><stop offset="0.234" stop-color="#00b2ff"/><stop offset="0.316" stop-color="#0080ff"/><stop offset="0.427" stop-color="#0040ff"/><stop offset="0.551" stop-color="#0000ff"/><stop offset="0.621" stop-color="#0000eb"/><stop offset="0.700" stop-color="#0000d6"/><stop offset="0.746" stop-color="#0000cc"/><stop offset="0.798" stop-color="#0000c2"/><stop offset="0.862" stop-color="#0000b8"/><stop offset="1.000" stop-color="#0000ad"/></linearGradient>
<linearGradient id="b4" gradientUnits="userSpaceOnUse" x1="0" y1="143.9" x2="0" y2="238.6"><stop offset="0.000" stop-color="#00ffb8"/><stop offset="0.020" stop-color="#00ffce"/><stop offset="0.073" stop-color="#00fff2"/><stop offset="0.127" stop-color="#00f0ff"/><stop offset="0.167" stop-color="#00d1ff"/><stop offset="0.208" stop-color="#00b2ff"/><stop offset="0.292" stop-color="#0080ff"/><stop offset="0.407" stop-color="#0040ff"/><stop offset="0.535" stop-color="#0000ff"/><stop offset="0.607" stop-color="#0000eb"/><stop offset="0.689" stop-color="#0000d6"/><stop offset="0.736" stop-color="#0000cc"/><stop offset="0.790" stop-color="#0000c2"/><stop offset="0.857" stop-color="#0000b8"/><stop offset="1.000" stop-color="#0000ad"/></linearGradient>
<linearGradient id="b3" gradientUnits="userSpaceOnUse" x1="0" y1="147.6" x2="0" y2="240.5"><stop offset="0.000" stop-color="#00ffd8"/><stop offset="0.041" stop-color="#00fff2"/><stop offset="0.097" stop-color="#00f0ff"/><stop offset="0.138" stop-color="#00d1ff"/><stop offset="0.180" stop-color="#00b2ff"/><stop offset="0.267" stop-color="#0080ff"/><stop offset="0.385" stop-color="#0040ff"/><stop offset="0.517" stop-color="#0000ff"/><stop offset="0.592" stop-color="#0000eb"/><stop offset="0.677" stop-color="#0000d6"/><stop offset="0.726" stop-color="#0000cc"/><stop offset="0.782" stop-color="#0000c2"/><stop offset="0.851" stop-color="#0000b8"/><stop offset="1.000" stop-color="#0000ad"/></linearGradient>
<linearGradient id="b2" gradientUnits="userSpaceOnUse" x1="0" y1="151.3" x2="0" y2="242.3"><stop offset="0.000" stop-color="#00ffee"/><stop offset="0.006" stop-color="#00fff2"/><stop offset="0.064" stop-color="#00f0ff"/><stop offset="0.106" stop-color="#00d1ff"/><stop offset="0.150" stop-color="#00b2ff"/><stop offset="0.240" stop-color="#0080ff"/><stop offset="0.361" stop-color="#0040ff"/><stop offset="0.498" stop-color="#0000ff"/><stop offset="0.576" stop-color="#0000eb"/><stop offset="0.664" stop-color="#0000d6"/><stop offset="0.715" stop-color="#0000cc"/><stop offset="0.773" stop-color="#0000c2"/><stop offset="0.844" stop-color="#0000b8"/><stop offset="1.000" stop-color="#0000ad"/></linearGradient>
<linearGradient id="b1" gradientUnits="userSpaceOnUse" x1="0" y1="155" x2="0" y2="244.2"><stop offset="0.000" stop-color="#00fdff"/><stop offset="0.029" stop-color="#00f0ff"/><stop offset="0.072" stop-color="#00d1ff"/><stop offset="0.117" stop-color="#00b2ff"/><stop offset="0.210" stop-color="#0080ff"/><stop offset="0.336" stop-color="#0040ff"/><stop offset="0.478" stop-color="#0000ff"/><stop offset="0.558" stop-color="#0000eb"/><stop offset="0.650" stop-color="#0000d6"/><stop offset="0.702" stop-color="#0000cc"/><stop offset="0.763" stop-color="#0000c2"/><stop offset="0.837" stop-color="#0000b8"/><stop offset="1.000" stop-color="#0000ad"/></linearGradient>
<linearGradient id="b0" gradientUnits="userSpaceOnUse" x1="0" y1="158.7" x2="0" y2="246.1"><stop offset="0.000" stop-color="#00e9ff"/><stop offset="0.035" stop-color="#00d1ff"/><stop offset="0.081" stop-color="#00b2ff"/><stop offset="0.178" stop-color="#0080ff"/><stop offset="0.308" stop-color="#0040ff"/><stop offset="0.455" stop-color="#0000ff"/><stop offset="0.539" stop-color="#0000eb"/><stop offset="0.634" stop-color="#0000d6"/><stop offset="0.689" stop-color="#0000cc"/><stop offset="0.752" stop-color="#0000c2"/><stop offset="0.830" stop-color="#0000b8"/><stop offset="1.000" stop-color="#0000ad"/></linearGradient>
</defs>
<rect width="716" height="296" fill="#fff"/>
<g stroke="#d0d0d0" stroke-width="1.15" stroke-dasharray="3.8 2" fill="none">
<line x1="62" y1="192.8" x2="200.6" y2="131.2" />
<line x1="200.6" y1="131.2" x2="344.1" y2="192.6" />
<line x1="62" y1="155.7" x2="200.6" y2="94.1" />
<line x1="200.6" y1="94.1" x2="344.1" y2="155.5" />
<line x1="62" y1="118.5" x2="200.6" y2="56.9" />
<line x1="200.6" y1="56.9" x2="344.1" y2="118.3" />
<line x1="62" y1="81.4" x2="200.6" y2="19.8" />
<line x1="200.6" y1="19.8" x2="344.1" y2="81.2" />
<line x1="62" y1="192.8" x2="62" y2="81.4" />
<line x1="100.5" y1="175.7" x2="100.5" y2="64.2" />
<line x1="100.5" y1="175.7" x2="244" y2="237.1" />
<line x1="139" y1="158.6" x2="139" y2="47.1" />
<line x1="139" y1="158.6" x2="282.5" y2="220" />
<line x1="177.5" y1="141.5" x2="177.5" y2="30" />
<line x1="177.5" y1="141.5" x2="321" y2="202.9" />
<line x1="200.6" y1="131.2" x2="200.6" y2="19.8" />
<line x1="200.6" y1="131.2" x2="344.1" y2="192.6" />
<line x1="344.1" y1="192.6" x2="344.1" y2="81.2" />
<line x1="315.4" y1="180.3" x2="315.4" y2="68.9" />
<line x1="176.8" y1="241.9" x2="315.4" y2="180.3" />
<line x1="286.7" y1="168" x2="286.7" y2="56.6" />
<line x1="148.1" y1="229.6" x2="286.7" y2="168" />
<line x1="258" y1="155.8" x2="258" y2="44.3" />
<line x1="119.4" y1="217.4" x2="258" y2="155.8" />
<line x1="229.3" y1="143.5" x2="229.3" y2="32" />
<line x1="90.7" y1="205.1" x2="229.3" y2="143.5" />
<line x1="410" y1="188" x2="546" y2="132" />
<line x1="546" y1="132" x2="678.5" y2="191" />
<line x1="410" y1="151.3" x2="546" y2="95.3" />
<line x1="546" y1="95.3" x2="678.5" y2="154.3" />
<line x1="410" y1="114.7" x2="546" y2="58.7" />
<line x1="546" y1="58.7" x2="678.5" y2="117.7" />
<line x1="410" y1="78" x2="546" y2="22" />
<line x1="546" y1="22" x2="678.5" y2="81" />
<line x1="410" y1="188" x2="410" y2="78" />
<line x1="444" y1="174" x2="444" y2="64" />
<line x1="444" y1="174" x2="576.5" y2="233" />
<line x1="478" y1="160" x2="478" y2="50" />
<line x1="478" y1="160" x2="610.5" y2="219" />
<line x1="512" y1="146" x2="512" y2="36" />
<line x1="512" y1="146" x2="644.5" y2="205" />
<line x1="546" y1="132" x2="546" y2="22" />
<line x1="546" y1="132" x2="678.5" y2="191" />
<line x1="678.5" y1="191" x2="678.5" y2="81" />
<line x1="652" y1="179.2" x2="652" y2="69.2" />
<line x1="516" y1="235.2" x2="652" y2="179.2" />
<line x1="625.5" y1="167.4" x2="625.5" y2="57.4" />
<line x1="489.5" y1="223.4" x2="625.5" y2="167.4" />
<line x1="599" y1="155.6" x2="599" y2="45.6" />
<line x1="463" y1="211.6" x2="599" y2="155.6" />
<line x1="572.5" y1="143.8" x2="572.5" y2="33.8" />
<line x1="436.5" y1="199.8" x2="572.5" y2="143.8" />
</g>
<g stroke="#111" stroke-width="2.6" fill="none" stroke-linejoin="miter" stroke-linecap="butt" transform="translate(0,1.1)">
<polyline points="62,192.8 205.5,254.2 344.1,192.6"/>
<polyline points="410,188 542.5,247 678.5,191"/>
</g>
<g stroke="#111" stroke-width="2" fill="none" transform="translate(0,1.1)">
<line x1="62" y1="192.8" x2="57.2" y2="190.9" />
<line x1="62" y1="155.7" x2="57.2" y2="153.7" />
<line x1="62" y1="118.5" x2="57.2" y2="116.6" />
<line x1="62" y1="81.4" x2="57.2" y2="79.4" />
<line x1="62" y1="192.8" x2="57.2" y2="194.9" />
<line x1="119.4" y1="217.4" x2="114.6" y2="219.5" />
<line x1="176.8" y1="241.9" x2="172" y2="244" />
<line x1="205.5" y1="254.2" x2="200.7" y2="256.3" />
<line x1="205.5" y1="254.2" x2="210.3" y2="256.2" />
<line x1="244" y1="237.1" x2="248.8" y2="239.1" />
<line x1="282.5" y1="220" x2="287.3" y2="222" />
<line x1="321" y1="202.9" x2="325.8" y2="204.9" />
<line x1="344.1" y1="192.6" x2="348.9" y2="194.6" />
<line x1="410" y1="188" x2="405.2" y2="186.1" />
<line x1="410" y1="151.3" x2="405.2" y2="149.4" />
<line x1="410" y1="114.7" x2="405.2" y2="112.7" />
<line x1="410" y1="78" x2="405.2" y2="76.1" />
<line x1="410" y1="188" x2="405.2" y2="190" />
<line x1="436.5" y1="199.8" x2="431.7" y2="201.8" />
<line x1="463" y1="211.6" x2="458.2" y2="213.6" />
<line x1="489.5" y1="223.4" x2="484.7" y2="225.4" />
<line x1="516" y1="235.2" x2="511.2" y2="237.2" />
<line x1="542.5" y1="247" x2="537.7" y2="249" />
<line x1="542.5" y1="247" x2="547.3" y2="249.1" />
<line x1="576.5" y1="233" x2="581.3" y2="235.1" />
<line x1="610.5" y1="219" x2="615.3" y2="221.1" />
<line x1="644.5" y1="205" x2="649.3" y2="207.1" />
<line x1="678.5" y1="191" x2="683.3" y2="193.1" />
</g>
<g shape-rendering="crispEdges"><polygon fill="url(#a119)" points="342.9,193.1 334,188.9 325,183.8 316,177.9 307.1,171.1 298.1,163.6 289.1,155.3 280.2,146.3 271.2,136.5 262.2,125.9 253.3,114.7 244.3,102.6 235.3,89.7 226.4,75.8 217.4,60.6 208.4,43.9 199.4,25.3 200.6,24.6 209.6,43.3 218.5,60 227.5,75.2 236.5,89.1 245.4,102 254.4,114.1 263.4,125.4 272.4,135.9 281.3,145.7 290.3,154.8 299.3,163.1 308.2,170.6 317.2,177.3 326.2,183.3 335.1,188.3 344.1,192.6"/>
<polygon fill="url(#a118)" points="341.8,193.6 332.8,189.4 323.9,184.3 314.9,178.4 305.9,171.7 296.9,164.2 288,155.9 279,146.8 270,137.1 261.1,126.6 252.1,115.4 243.1,103.4 234.2,90.5 225.2,76.7 216.2,61.6 207.3,44.9 198.3,26.3 199.4,25.3 208.4,43.9 217.4,60.6 226.4,75.8 235.3,89.7 244.3,102.6 253.3,114.7 262.2,125.9 271.2,136.5 280.2,146.3 289.1,155.3 298.1,163.6 307.1,171.1 316,177.9 325,183.8 334,188.9 342.9,193.1"/>
<polygon fill="url(#a117)" points="340.6,194.1 331.7,189.9 322.7,184.8 313.7,178.9 304.8,172.2 295.8,164.7 286.8,156.5 277.9,147.5 268.9,137.7 259.9,127.3 250.9,116.2 242,104.3 233,91.5 224,77.8 215.1,62.8 206.1,46.3 197.1,27.8 198.3,26.3 207.3,44.9 216.2,61.6 225.2,76.7 234.2,90.5 243.1,103.4 252.1,115.4 261.1,126.6 270,137.1 279,146.8 288,155.9 296.9,164.2 305.9,171.7 314.9,178.4 323.9,184.3 332.8,189.4 341.8,193.6"/>
<polygon fill="url(#a116)" points="339.5,194.7 330.5,190.4 321.5,185.3 312.6,179.5 303.6,172.8 294.6,165.3 285.7,157.1 276.7,148.1 267.7,138.5 258.8,128.1 249.8,117.1 240.8,105.3 231.9,92.7 222.9,79.1 213.9,64.3 204.9,47.9 196,29.6 197.1,27.8 206.1,46.3 215.1,62.8 224,77.8 233,91.5 242,104.3 250.9,116.2 259.9,127.3 268.9,137.7 277.9,147.5 286.8,156.5 295.8,164.7 304.8,172.2 313.7,178.9 322.7,184.8 331.7,189.9 340.6,194.1"/>
<polygon fill="url(#a115)" points="338.3,195.2 329.4,190.9 320.4,185.9 311.4,180 302.4,173.4 293.5,166 284.5,157.8 275.5,148.9 266.6,139.3 257.6,129.1 248.6,118.2 239.7,106.6 230.7,94.1 221.7,80.7 212.8,66.1 203.8,49.9 194.8,31.8 196,29.6 204.9,47.9 213.9,64.3 222.9,79.1 231.9,92.7 240.8,105.3 249.8,117.1 258.8,128.1 267.7,138.5 276.7,148.1 285.7,157.1 294.6,165.3 303.6,172.8 312.6,179.5 321.5,185.3 330.5,190.4 339.5,194.7"/>
<polygon fill="url(#a114)" points="337.2,195.7 328.2,191.4 319.2,186.4 310.3,180.6 301.3,174 292.3,166.6 283.4,158.5 274.4,149.6 265.4,140.1 256.5,130.1 247.5,119.4 238.5,107.9 229.5,95.7 220.6,82.5 211.6,68.1 202.6,52.2 193.7,34.3 194.8,31.8 203.8,49.9 212.8,66.1 221.7,80.7 230.7,94.1 239.7,106.6 248.6,118.2 257.6,129.1 266.6,139.3 275.5,148.9 284.5,157.8 293.5,166 302.4,173.4 311.4,180 320.4,185.9 329.4,190.9 338.3,195.2"/>
<polygon fill="url(#a113)" points="336,196.2 327,192 318.1,187 309.1,181.2 300.1,174.6 291.2,167.3 282.2,159.2 273.2,150.5 264.3,141 255.3,131.2 246.3,120.7 237.4,109.5 228.4,97.5 219.4,84.6 210.5,70.5 201.5,54.9 192.5,37.3 193.7,34.3 202.6,52.2 211.6,68.1 220.6,82.5 229.5,95.7 238.5,107.9 247.5,119.4 256.5,130.1 265.4,140.1 274.4,149.6 283.4,158.5 292.3,166.6 301.3,174 310.3,180.6 319.2,186.4 328.2,191.4 337.2,195.7"/>
<polygon fill="url(#a112)" points="334.9,196.7 325.9,192.5 316.9,187.5 308,181.7 299,175.2 290,168 281,160 272.1,151.3 263.1,142 254.1,132.4 245.2,122.1 236.2,111.2 227.2,99.5 218.3,86.9 209.3,73.1 200.3,57.9 191.4,40.7 192.5,37.3 201.5,54.9 210.5,70.5 219.4,84.6 228.4,97.5 237.4,109.5 246.3,120.7 255.3,131.2 264.3,141 273.2,150.5 282.2,159.2 291.2,167.3 300.1,174.6 309.1,181.2 318.1,187 327,192 336,196.2"/>
<polygon fill="url(#a111)" points="333.7,197.2 324.7,193 315.8,188 306.8,182.3 297.8,175.9 288.9,168.7 279.9,160.8 270.9,152.2 262,143.1 253,133.6 244,123.6 235,113 226.1,101.7 217.1,89.5 208.1,76.1 199.2,61.3 190.2,44.5 191.4,40.7 200.3,57.9 209.3,73.1 218.3,86.9 227.2,99.5 236.2,111.2 245.2,122.1 254.1,132.4 263.1,142 272.1,151.3 281,160 290,168 299,175.2 308,181.7 316.9,187.5 325.9,192.5 334.9,196.7"/>
<polygon fill="url(#a110)" points="332.5,197.7 323.6,193.5 314.6,188.6 305.6,182.9 296.7,176.5 287.7,169.5 278.7,161.7 269.8,153.2 260.8,144.2 251.8,135 242.9,125.3 233.9,115.1 224.9,104.2 216,92.4 207,79.5 198,65.1 189,48.8 190.2,44.5 199.2,61.3 208.1,76.1 217.1,89.5 226.1,101.7 235,113 244,123.6 253,133.6 262,143.1 270.9,152.2 279.9,160.8 288.9,168.7 297.8,175.9 306.8,182.3 315.8,188 324.7,193 333.7,197.2"/>
<polygon fill="url(#a109)" points="331.4,198.2 322.4,194.1 313.5,189.2 304.5,183.5 295.5,177.2 286.6,170.2 277.6,162.6 268.6,154.2 259.6,145.4 250.7,136.5 241.7,127.2 232.7,117.3 223.8,106.9 214.8,95.6 205.8,83.2 196.9,69.4 187.9,53.6 189,48.8 198,65.1 207,79.5 216,92.4 224.9,104.2 233.9,115.1 242.9,125.3 251.8,135 260.8,144.2 269.8,153.2 278.7,161.7 287.7,169.5 296.7,176.5 305.6,182.9 314.6,188.6 323.6,193.5 332.5,197.7"/>
<polygon fill="url(#a108)" points="330.2,198.8 321.3,194.6 312.3,189.7 303.3,184.2 294.4,177.9 285.4,171 276.4,163.5 267.5,155.3 258.5,146.6 249.5,138.1 240.6,129.2 231.6,119.8 222.6,109.9 213.6,99.1 204.7,87.4 195.7,74.2 186.7,59.2 187.9,53.6 196.9,69.4 205.8,83.2 214.8,95.6 223.8,106.9 232.7,117.3 241.7,127.2 250.7,136.5 259.6,145.4 268.6,154.2 277.6,162.6 286.6,170.2 295.5,177.2 304.5,183.5 313.5,189.2 322.4,194.1 331.4,198.2"/>
<polygon fill="url(#a107)" points="329.1,199.3 320.1,195.1 311.1,190.3 302.2,184.8 293.2,178.7 284.2,171.9 275.3,164.5 266.3,156.4 257.3,148 248.4,139.9 239.4,131.4 230.4,122.6 221.5,113.3 212.5,103.2 203.5,92.2 194.6,79.9 185.6,65.7 186.7,59.2 195.7,74.2 204.7,87.4 213.6,99.1 222.6,109.9 231.6,119.8 240.6,129.2 249.5,138.1 258.5,146.6 267.5,155.3 276.4,163.5 285.4,171 294.4,177.9 303.3,184.2 312.3,189.7 321.3,194.6 330.2,198.8"/>
<polygon fill="url(#a106)" points="327.9,199.8 319,195.6 310,190.9 301,185.4 292.1,179.4 283.1,172.8 274.1,165.5 265.1,157.7 256.2,149.5 247.2,141.9 238.2,134 229.3,125.9 220.3,117.3 211.3,108.2 202.4,98.1 193.4,86.9 184.4,73.8 185.6,65.7 194.6,79.9 203.5,92.2 212.5,103.2 221.5,113.3 230.4,122.6 239.4,131.4 248.4,139.9 257.3,148 266.3,156.4 275.3,164.5 284.2,171.9 293.2,178.7 302.2,184.8 311.1,190.3 320.1,195.1 329.1,199.3"/>
<polygon fill="url(#a105)" points="326.8,200.3 317.8,196.2 308.8,191.5 299.9,186.2 290.9,180.3 281.9,173.9 273,166.9 264,159.4 255,151.7 246.1,144.8 237.1,138 228.1,131.1 219.1,124 210.2,116.7 201.2,108.8 192.2,100 183.3,89.9 184.4,73.8 193.4,86.9 202.4,98.1 211.3,108.2 220.3,117.3 229.3,125.9 238.2,134 247.2,141.9 256.2,149.5 265.1,157.7 274.1,165.5 283.1,172.8 292.1,179.4 301,185.4 310,190.9 319,195.6 327.9,199.8"/>
<polygon fill="url(#a104)" points="325.6,200.8 316.7,196.7 307.7,191.9 298.7,186.5 289.7,180.4 280.8,173.8 271.8,166.6 262.8,158.7 253.9,150.6 244.9,142.9 235.9,135 227,126.9 218,118.3 209,109.2 200.1,99.2 191.1,87.9 182.1,74.8 183.3,89.9 192.2,100 201.2,108.8 210.2,116.7 219.1,124 228.1,131.1 237.1,138 246.1,144.8 255,151.7 264,159.4 273,166.9 281.9,173.9 290.9,180.3 299.9,186.2 308.8,191.5 317.8,196.2 326.8,200.3"/>
<polygon fill="url(#a103)" points="324.5,201.3 315.5,197.2 306.5,192.3 297.6,186.8 288.6,180.7 279.6,173.9 270.7,166.5 261.7,158.5 252.7,150 243.7,141.9 234.8,133.5 225.8,124.7 216.8,115.3 207.9,105.3 198.9,94.3 189.9,81.9 181,67.7 182.1,74.8 191.1,87.9 200.1,99.2 209,109.2 218,118.3 227,126.9 235.9,135 244.9,142.9 253.9,150.6 262.8,158.7 271.8,166.6 280.8,173.8 289.7,180.4 298.7,186.5 307.7,191.9 316.7,196.7 325.6,200.8"/>
<polygon fill="url(#a102)" points="323.3,201.8 314.3,197.7 305.4,192.8 296.4,187.2 287.4,181 278.5,174.1 269.5,166.6 260.5,158.4 251.6,149.7 242.6,141.2 233.6,132.3 224.7,122.9 215.7,112.9 206.7,102.2 197.7,90.5 188.8,77.3 179.8,62.3 181,67.7 189.9,81.9 198.9,94.3 207.9,105.3 216.8,115.3 225.8,124.7 234.8,133.5 243.7,141.9 252.7,150 261.7,158.5 270.7,166.5 279.6,173.9 288.6,180.7 297.6,186.8 306.5,192.3 315.5,197.2 324.5,201.3"/>
<polygon fill="url(#a101)" points="322.2,202.4 313.2,198.2 304.2,193.3 295.2,187.6 286.3,181.3 277.3,174.3 268.3,166.7 259.4,158.3 250.4,149.5 241.4,140.6 232.5,131.3 223.5,121.5 214.5,111 205.6,99.7 196.6,87.3 187.6,73.5 178.7,57.7 179.8,62.3 188.8,77.3 197.7,90.5 206.7,102.2 215.7,112.9 224.7,122.9 233.6,132.3 242.6,141.2 251.6,149.7 260.5,158.4 269.5,166.6 278.5,174.1 287.4,181 296.4,187.2 305.4,192.8 314.3,197.7 323.3,201.8"/>
<polygon fill="url(#a100)" points="321,202.9 312,198.7 303.1,193.7 294.1,188.1 285.1,181.7 276.2,174.6 267.2,166.8 258.2,158.3 249.2,149.3 240.3,140.1 231.3,130.5 222.3,120.2 213.4,109.3 204.4,97.5 195.4,84.6 186.5,70.2 177.5,53.9 178.7,57.7 187.6,73.5 196.6,87.3 205.6,99.7 214.5,111 223.5,121.5 232.5,131.3 241.4,140.6 250.4,149.5 259.4,158.3 268.3,166.7 277.3,174.3 286.3,181.3 295.2,187.6 304.2,193.3 313.2,198.2 322.2,202.4"/>
<polygon fill="url(#a99)" points="319.8,203.4 310.9,199.2 301.9,194.2 292.9,188.5 284,182 275,174.9 266,167 257.1,158.4 248.1,149.2 239.1,139.8 230.2,129.8 221.2,119.2 212.2,107.9 203.3,95.7 194.3,82.3 185.3,67.4 176.3,50.6 177.5,53.9 186.5,70.2 195.4,84.6 204.4,97.5 213.4,109.3 222.3,120.2 231.3,130.5 240.3,140.1 249.2,149.3 258.2,158.3 267.2,166.8 276.2,174.6 285.1,181.7 294.1,188.1 303.1,193.7 312,198.7 321,202.9"/>
<polygon fill="url(#a98)" points="318.7,203.9 309.7,199.7 300.8,194.7 291.8,188.9 282.8,182.4 273.8,175.2 264.9,167.2 255.9,158.5 246.9,149.2 238,139.5 229,129.3 220,118.4 211.1,106.7 202.1,94.1 193.1,80.3 184.2,65.1 175.2,47.8 176.3,50.6 185.3,67.4 194.3,82.3 203.3,95.7 212.2,107.9 221.2,119.2 230.2,129.8 239.1,139.8 248.1,149.2 257.1,158.4 266,167 275,174.9 284,182 292.9,188.5 301.9,194.2 310.9,199.2 319.8,203.4"/>
<polygon fill="url(#a97)" points="317.5,204.4 308.6,200.2 299.6,195.2 290.6,189.4 281.7,182.8 272.7,175.5 263.7,167.4 254.8,158.7 245.8,149.2 236.8,139.4 227.8,128.9 218.9,117.7 209.9,105.7 200.9,92.8 192,78.7 183,63.1 174,45.5 175.2,47.8 184.2,65.1 193.1,80.3 202.1,94.1 211.1,106.7 220,118.4 229,129.3 238,139.5 246.9,149.2 255.9,158.5 264.9,167.2 273.8,175.2 282.8,182.4 291.8,188.9 300.8,194.7 309.7,199.7 318.7,203.9"/>
<polygon fill="url(#a96)" points="316.4,204.9 307.4,200.7 298.4,195.7 289.5,189.8 280.5,183.2 271.5,175.9 262.6,167.7 253.6,158.9 244.6,149.4 235.7,139.3 226.7,128.6 217.7,117.2 208.8,105 199.8,91.8 190.8,77.4 181.8,61.4 172.9,43.6 174,45.5 183,63.1 192,78.7 200.9,92.8 209.9,105.7 218.9,117.7 227.8,128.9 236.8,139.4 245.8,149.2 254.8,158.7 263.7,167.4 272.7,175.5 281.7,182.8 290.6,189.4 299.6,195.2 308.6,200.2 317.5,204.4"/>
<polygon fill="url(#a95)" points="315.2,205.4 306.3,201.2 297.3,196.1 288.3,190.3 279.4,183.7 270.4,176.2 261.4,168.1 252.4,159.1 243.5,149.5 234.5,139.3 225.5,128.4 216.6,116.8 207.6,104.4 198.6,91 189.7,76.3 180.7,60.2 171.7,42 172.9,43.6 181.8,61.4 190.8,77.4 199.8,91.8 208.8,105 217.7,117.2 226.7,128.6 235.7,139.3 244.6,149.4 253.6,158.9 262.6,167.7 271.5,175.9 280.5,183.2 289.5,189.8 298.4,195.7 307.4,200.7 316.4,204.9"/>
<polygon fill="url(#a94)" points="314.1,205.9 305.1,201.7 296.1,196.6 287.2,190.8 278.2,184.1 269.2,176.6 260.3,168.4 251.3,159.4 242.3,149.8 233.4,139.4 224.4,128.4 215.4,116.6 206.4,104 197.5,90.4 188.5,75.6 179.5,59.2 170.6,40.9 171.7,42 180.7,60.2 189.7,76.3 198.6,91 207.6,104.4 216.6,116.8 225.5,128.4 234.5,139.3 243.5,149.5 252.4,159.1 261.4,168.1 270.4,176.2 279.4,183.7 288.3,190.3 297.3,196.1 306.3,201.2 315.2,205.4"/>
<polygon fill="url(#a93)" points="312.9,206.5 303.9,202.2 295,197.1 286,191.2 277,184.5 268.1,177.1 259.1,168.8 250.1,159.8 241.2,150.1 232.2,139.6 223.2,128.5 214.3,116.6 205.3,103.8 196.3,90.1 187.4,75.1 178.4,58.6 169.4,40.1 170.6,40.9 179.5,59.2 188.5,75.6 197.5,90.4 206.4,104 215.4,116.6 224.4,128.4 233.4,139.4 242.3,149.8 251.3,159.4 260.3,168.4 269.2,176.6 278.2,184.1 287.2,190.8 296.1,196.6 305.1,201.7 314.1,205.9"/>
<polygon fill="url(#a92)" points="311.8,207 302.8,202.7 293.8,197.6 284.9,191.7 275.9,185 266.9,177.5 257.9,169.2 249,160.2 240,150.4 231,139.9 222.1,128.7 213.1,116.7 204.1,103.9 195.2,90 186.2,74.9 177.2,58.3 168.3,39.7 169.4,40.1 178.4,58.6 187.4,75.1 196.3,90.1 205.3,103.8 214.3,116.6 223.2,128.5 232.2,139.6 241.2,150.1 250.1,159.8 259.1,168.8 268.1,177.1 277,184.5 286,191.2 295,197.1 303.9,202.2 312.9,206.5"/>
<polygon fill="url(#a91)" points="310.6,207.5 301.6,203.2 292.7,198.1 283.7,192.2 274.7,185.5 265.8,178 256.8,169.7 247.8,160.6 238.9,150.8 229.9,140.3 220.9,129 211.9,117 203,104.1 194,90.2 185,75 176.1,58.3 167.1,39.6 168.3,39.7 177.2,58.3 186.2,74.9 195.2,90 204.1,103.9 213.1,116.7 222.1,128.7 231,139.9 240,150.4 249,160.2 257.9,169.2 266.9,177.5 275.9,185 284.9,191.7 293.8,197.6 302.8,202.7 311.8,207"/>
<polygon fill="url(#a90)" points="309.4,208 300.5,203.7 291.5,198.7 282.5,192.7 273.6,186 264.6,178.5 255.6,170.2 246.7,161.1 237.7,151.3 228.7,140.8 219.8,129.5 210.8,117.4 201.8,104.5 192.9,90.6 183.9,75.4 174.9,58.7 165.9,40 167.1,39.6 176.1,58.3 185,75 194,90.2 203,104.1 211.9,117 220.9,129 229.9,140.3 238.9,150.8 247.8,160.6 256.8,169.7 265.8,178 274.7,185.5 283.7,192.2 292.7,198.1 301.6,203.2 310.6,207.5"/>
<polygon fill="url(#a89)" points="308.3,208.5 299.3,204.3 290.4,199.2 281.4,193.3 272.4,186.5 263.5,179 254.5,170.7 245.5,161.7 236.5,151.9 227.6,141.3 218.6,130.1 209.6,118 200.7,105.1 191.7,91.2 182.7,76 173.8,59.3 164.8,40.7 165.9,40 174.9,58.7 183.9,75.4 192.9,90.6 201.8,104.5 210.8,117.4 219.8,129.5 228.7,140.8 237.7,151.3 246.7,161.1 255.6,170.2 264.6,178.5 273.6,186 282.5,192.7 291.5,198.7 300.5,203.7 309.4,208"/>
<polygon fill="url(#a88)" points="307.1,209 298.2,204.8 289.2,199.7 280.2,193.8 271.3,187.1 262.3,179.6 253.3,171.3 244.4,162.2 235.4,152.5 226.4,142 217.5,130.8 208.5,118.8 199.5,105.9 190.5,92.1 181.6,77 172.6,60.3 163.6,41.7 164.8,40.7 173.8,59.3 182.7,76 191.7,91.2 200.7,105.1 209.6,118 218.6,130.1 227.6,141.3 236.5,151.9 245.5,161.7 254.5,170.7 263.5,179 272.4,186.5 281.4,193.3 290.4,199.2 299.3,204.3 308.3,208.5"/>
<polygon fill="url(#a87)" points="306,209.5 297,205.3 288,200.2 279.1,194.3 270.1,187.6 261.1,180.1 252.2,171.9 243.2,162.9 234.2,153.1 225.3,142.7 216.3,131.6 207.3,119.7 198.4,106.9 189.4,93.2 180.4,78.2 171.5,61.7 162.5,43.2 163.6,41.7 172.6,60.3 181.6,77 190.5,92.1 199.5,105.9 208.5,118.8 217.5,130.8 226.4,142 235.4,152.5 244.4,162.2 253.3,171.3 262.3,179.6 271.3,187.1 280.2,193.8 289.2,199.7 298.2,204.8 307.1,209"/>
<polygon fill="url(#a86)" points="304.8,210.1 295.9,205.8 286.9,200.7 277.9,194.9 269,188.2 260,180.7 251,172.5 242,163.5 233.1,153.9 224.1,143.5 215.1,132.5 206.2,120.7 197.2,108.1 188.2,94.5 179.3,79.7 170.3,63.3 161.3,45 162.5,43.2 171.5,61.7 180.4,78.2 189.4,93.2 198.4,106.9 207.3,119.7 216.3,131.6 225.3,142.7 234.2,153.1 243.2,162.9 252.2,171.9 261.1,180.1 270.1,187.6 279.1,194.3 288,200.2 297,205.3 306,209.5"/>
<polygon fill="url(#a85)" points="303.7,210.6 294.7,206.3 285.7,201.3 276.8,195.4 267.8,188.8 258.8,181.4 249.9,173.2 240.9,164.3 231.9,154.7 223,144.5 214,133.6 205,122 196.1,109.5 187.1,96.1 178.1,81.5 169.1,65.3 160.2,47.2 161.3,45 170.3,63.3 179.3,79.7 188.2,94.5 197.2,108.1 206.2,120.7 215.1,132.5 224.1,143.5 233.1,153.9 242,163.5 251,172.5 260,180.7 269,188.2 277.9,194.9 286.9,200.7 295.9,205.8 304.8,210.1"/>
<polygon fill="url(#a84)" points="302.5,211.1 293.6,206.8 284.6,201.8 275.6,196 266.6,189.4 257.7,182 248.7,173.9 239.7,165 230.8,155.5 221.8,145.5 212.8,134.8 203.9,123.3 194.9,111.1 185.9,97.9 177,83.5 168,67.6 159,49.7 160.2,47.2 169.1,65.3 178.1,81.5 187.1,96.1 196.1,109.5 205,122 214,133.6 223,144.5 231.9,154.7 240.9,164.3 249.9,173.2 258.8,181.4 267.8,188.8 276.8,195.4 285.7,201.3 294.7,206.3 303.7,210.6"/>
<polygon fill="url(#a83)" points="301.4,211.6 292.4,207.4 283.4,202.4 274.5,196.6 265.5,190 256.5,182.7 247.6,174.6 238.6,165.9 229.6,156.4 220.6,146.6 211.7,136.1 202.7,124.9 193.7,112.9 184.8,100 175.8,85.9 166.8,70.3 157.9,52.7 159,49.7 168,67.6 177,83.5 185.9,97.9 194.9,111.1 203.9,123.3 212.8,134.8 221.8,145.5 230.8,155.5 239.7,165 248.7,173.9 257.7,182 266.6,189.4 275.6,196 284.6,201.8 293.6,206.8 302.5,211.1"/>
<polygon fill="url(#a82)" points="300.2,212.1 291.2,207.9 282.3,202.9 273.3,197.1 264.3,190.6 255.4,183.4 246.4,175.4 237.4,166.7 228.5,157.4 219.5,147.8 210.5,137.5 201.6,126.6 192.6,114.9 183.6,102.3 174.6,88.5 165.7,73.3 156.7,56.1 157.9,52.7 166.8,70.3 175.8,85.9 184.8,100 193.7,112.9 202.7,124.9 211.7,136.1 220.6,146.6 229.6,156.4 238.6,165.9 247.6,174.6 256.5,182.7 265.5,190 274.5,196.6 283.4,202.4 292.4,207.4 301.4,211.6"/>
<polygon fill="url(#a81)" points="299.1,212.6 290.1,208.4 281.1,203.4 272.1,197.7 263.2,191.3 254.2,184.1 245.2,176.2 236.3,167.6 227.3,158.5 218.3,149 209.4,139 200.4,128.4 191.4,117.1 182.5,104.9 173.5,91.5 164.5,76.7 155.6,59.9 156.7,56.1 165.7,73.3 174.6,88.5 183.6,102.3 192.6,114.9 201.6,126.6 210.5,137.5 219.5,147.8 228.5,157.4 237.4,166.7 246.4,175.4 255.4,183.4 264.3,190.6 273.3,197.1 282.3,202.9 291.2,207.9 300.2,212.1"/>
<polygon fill="url(#a80)" points="297.9,213.1 288.9,208.9 280,204 271,198.3 262,191.9 253.1,184.9 244.1,177.1 235.1,168.6 226.1,159.6 217.2,150.4 208.2,140.7 199.2,130.5 190.3,119.6 181.3,107.8 172.3,94.9 163.4,80.5 154.4,64.2 155.6,59.9 164.5,76.7 173.5,91.5 182.5,104.9 191.4,117.1 200.4,128.4 209.4,139 218.3,149 227.3,158.5 236.3,167.6 245.2,176.2 254.2,184.1 263.2,191.3 272.1,197.7 281.1,203.4 290.1,208.4 299.1,212.6"/>
<polygon fill="url(#a79)" points="296.7,213.6 287.8,209.5 278.8,204.6 269.8,198.9 260.9,192.6 251.9,185.6 242.9,178 234,169.6 225,160.8 216,151.9 207.1,142.6 198.1,132.7 189.1,122.3 180.2,111 171.2,98.6 162.2,84.8 153.2,69 154.4,64.2 163.4,80.5 172.3,94.9 181.3,107.8 190.3,119.6 199.2,130.5 208.2,140.7 217.2,150.4 226.1,159.6 235.1,168.6 244.1,177.1 253.1,184.9 262,191.9 271,198.3 280,204 288.9,208.9 297.9,213.1"/>
<polygon fill="url(#a78)" points="295.6,214.2 286.6,210 277.7,205.1 268.7,199.6 259.7,193.3 250.7,186.4 241.8,178.9 232.8,170.7 223.8,162 214.9,153.5 205.9,144.6 196.9,135.2 188,125.3 179,114.5 170,102.8 161.1,89.6 152.1,74.6 153.2,69 162.2,84.8 171.2,98.6 180.2,111 189.1,122.3 198.1,132.7 207.1,142.6 216,151.9 225,160.8 234,169.6 242.9,178 251.9,185.6 260.9,192.6 269.8,198.9 278.8,204.6 287.8,209.5 296.7,213.6"/>
<polygon fill="url(#a77)" points="294.4,214.7 285.5,210.5 276.5,205.7 267.5,200.2 258.6,194.1 249.6,187.3 240.6,179.9 231.7,171.8 222.7,163.4 213.7,155.3 204.7,146.8 195.8,138 186.8,128.7 177.8,118.6 168.9,107.6 159.9,95.3 150.9,81.1 152.1,74.6 161.1,89.6 170,102.8 179,114.5 188,125.3 196.9,135.2 205.9,144.6 214.9,153.5 223.8,162 232.8,170.7 241.8,178.9 250.7,186.4 259.7,193.3 268.7,199.6 277.7,205.1 286.6,210 295.6,214.2"/>
<polygon fill="url(#a76)" points="293.3,215.2 284.3,211 275.3,206.3 266.4,200.8 257.4,194.8 248.4,188.2 239.5,180.9 230.5,173.1 221.5,164.9 212.6,157.3 203.6,149.4 194.6,141.3 185.7,132.7 176.7,123.6 167.7,113.5 158.7,102.3 149.8,89.2 150.9,81.1 159.9,95.3 168.9,107.6 177.8,118.6 186.8,128.7 195.8,138 204.7,146.8 213.7,155.3 222.7,163.4 231.7,171.8 240.6,179.9 249.6,187.3 258.6,194.1 267.5,200.2 276.5,205.7 285.5,210.5 294.4,214.7"/>
<polygon fill="url(#a75)" points="292.1,215.7 283.2,211.6 274.2,206.9 265.2,201.6 256.2,195.7 247.3,189.3 238.3,182.3 229.3,174.8 220.4,167.1 211.4,160.2 202.4,153.4 193.5,146.5 184.5,139.4 175.5,132.1 166.6,124.2 157.6,115.4 148.6,105.3 149.8,89.2 158.7,102.3 167.7,113.5 176.7,123.6 185.7,132.7 194.6,141.3 203.6,149.4 212.6,157.3 221.5,164.9 230.5,173.1 239.5,180.9 248.4,188.2 257.4,194.8 266.4,200.8 275.3,206.3 284.3,211 293.3,215.2"/>
<polygon fill="url(#a74)" points="291,216.2 282,212.1 273,207.3 264.1,201.9 255.1,195.8 246.1,189.2 237.2,182 228.2,174.1 219.2,166 210.3,158.3 201.3,150.4 192.3,142.3 183.3,133.7 174.4,124.6 165.4,114.6 156.4,103.3 147.5,90.2 148.6,105.3 157.6,115.4 166.6,124.2 175.5,132.1 184.5,139.4 193.5,146.5 202.4,153.4 211.4,160.2 220.4,167.1 229.3,174.8 238.3,182.3 247.3,189.3 256.2,195.7 265.2,201.6 274.2,206.9 283.2,211.6 292.1,215.7"/>
<polygon fill="url(#a73)" points="289.8,216.7 280.8,212.6 271.9,207.7 262.9,202.2 253.9,196.1 245,189.3 236,181.9 227,173.9 218.1,165.4 209.1,157.3 200.1,148.9 191.2,140.1 182.2,130.7 173.2,120.7 164.3,109.7 155.3,97.3 146.3,83.1 147.5,90.2 156.4,103.3 165.4,114.6 174.4,124.6 183.3,133.7 192.3,142.3 201.3,150.4 210.3,158.3 219.2,166 228.2,174.1 237.2,182 246.1,189.2 255.1,195.8 264.1,201.9 273,207.3 282,212.1 291,216.2"/>
<polygon fill="url(#a72)" points="288.7,217.2 279.7,213.1 270.7,208.2 261.8,202.6 252.8,196.4 243.8,189.5 234.8,182 225.9,173.8 216.9,165.1 207.9,156.6 199,147.7 190,138.3 181,128.3 172.1,117.6 163.1,105.9 154.1,92.7 145.2,77.7 146.3,83.1 155.3,97.3 164.3,109.7 173.2,120.7 182.2,130.7 191.2,140.1 200.1,148.9 209.1,157.3 218.1,165.4 227,173.9 236,181.9 245,189.3 253.9,196.1 262.9,202.2 271.9,207.7 280.8,212.6 289.8,216.7"/>
<polygon fill="url(#a71)" points="287.5,217.8 278.5,213.6 269.6,208.7 260.6,203 251.6,196.7 242.7,189.7 233.7,182.1 224.7,173.7 215.8,164.9 206.8,156 197.8,146.7 188.8,136.9 179.9,126.4 170.9,115.1 161.9,102.7 153,88.9 144,73.1 145.2,77.7 154.1,92.7 163.1,105.9 172.1,117.6 181,128.3 190,138.3 199,147.7 207.9,156.6 216.9,165.1 225.9,173.8 234.8,182 243.8,189.5 252.8,196.4 261.8,202.6 270.7,208.2 279.7,213.1 288.7,217.2"/>
<polygon fill="url(#a70)" points="286.4,218.3 277.4,214.1 268.4,209.1 259.4,203.5 250.5,197.1 241.5,190 232.5,182.2 223.6,173.7 214.6,164.7 205.6,155.5 196.7,145.9 187.7,135.6 178.7,124.7 169.8,112.9 160.8,100 151.8,85.6 142.9,69.3 144,73.1 153,88.9 161.9,102.7 170.9,115.1 179.9,126.4 188.8,136.9 197.8,146.7 206.8,156 215.8,164.9 224.7,173.7 233.7,182.1 242.7,189.7 251.6,196.7 260.6,203 269.6,208.7 278.5,213.6 287.5,217.8"/>
<polygon fill="url(#a69)" points="285.2,218.8 276.2,214.6 267.3,209.6 258.3,203.9 249.3,197.4 240.4,190.3 231.4,182.4 222.4,173.8 213.4,164.6 204.5,155.2 195.5,145.2 186.5,134.6 177.6,123.3 168.6,111.1 159.6,97.7 150.7,82.8 141.7,66 142.9,69.3 151.8,85.6 160.8,100 169.8,112.9 178.7,124.7 187.7,135.6 196.7,145.9 205.6,155.5 214.6,164.7 223.6,173.7 232.5,182.2 241.5,190 250.5,197.1 259.4,203.5 268.4,209.1 277.4,214.1 286.4,218.3"/>
<polygon fill="url(#a68)" points="284,219.3 275.1,215.1 266.1,210.1 257.1,204.3 248.2,197.8 239.2,190.6 230.2,182.6 221.3,173.9 212.3,164.6 203.3,154.9 194.4,144.7 185.4,133.8 176.4,122.1 167.4,109.5 158.5,95.7 149.5,80.5 140.5,63.2 141.7,66 150.7,82.8 159.6,97.7 168.6,111.1 177.6,123.3 186.5,134.6 195.5,145.2 204.5,155.2 213.4,164.6 222.4,173.8 231.4,182.4 240.4,190.3 249.3,197.4 258.3,203.9 267.3,209.6 276.2,214.6 285.2,218.8"/>
<polygon fill="url(#a67)" points="282.9,219.8 273.9,215.6 264.9,210.6 256,204.8 247,198.2 238,190.9 229.1,182.8 220.1,174.1 211.1,164.6 202.2,154.8 193.2,144.3 184.2,133.1 175.3,121.1 166.3,108.2 157.3,94.1 148.4,78.5 139.4,60.9 140.5,63.2 149.5,80.5 158.5,95.7 167.4,109.5 176.4,122.1 185.4,133.8 194.4,144.7 203.3,154.9 212.3,164.6 221.3,173.9 230.2,182.6 239.2,190.6 248.2,197.8 257.1,204.3 266.1,210.1 275.1,215.1 284,219.3"/>
<polygon fill="url(#a66)" points="281.7,220.3 272.8,216.1 263.8,211.1 254.8,205.2 245.9,198.6 236.9,191.3 227.9,183.1 218.9,174.3 210,164.8 201,154.7 192,144 183.1,132.6 174.1,120.4 165.1,107.2 156.2,92.8 147.2,76.8 138.2,59 139.4,60.9 148.4,78.5 157.3,94.1 166.3,108.2 175.3,121.1 184.2,133.1 193.2,144.3 202.2,154.8 211.1,164.6 220.1,174.1 229.1,182.8 238,190.9 247,198.2 256,204.8 264.9,210.6 273.9,215.6 282.9,219.8"/>
<polygon fill="url(#a65)" points="280.6,220.8 271.6,216.6 262.6,211.5 253.7,205.7 244.7,199.1 235.7,191.6 226.8,183.5 217.8,174.5 208.8,164.9 199.9,154.7 190.9,143.8 181.9,132.2 172.9,119.8 164,106.4 155,91.7 146,75.6 137.1,57.4 138.2,59 147.2,76.8 156.2,92.8 165.1,107.2 174.1,120.4 183.1,132.6 192,144 201,154.7 210,164.8 218.9,174.3 227.9,183.1 236.9,191.3 245.9,198.6 254.8,205.2 263.8,211.1 272.8,216.1 281.7,220.3"/>
<polygon fill="url(#a64)" points="279.4,221.3 270.5,217.1 261.5,212 252.5,206.2 243.5,199.5 234.6,192 225.6,183.8 216.6,174.8 207.7,165.2 198.7,154.8 189.7,143.8 180.8,132 171.8,119.4 162.8,105.8 153.9,91 144.9,74.6 135.9,56.3 137.1,57.4 146,75.6 155,91.7 164,106.4 172.9,119.8 181.9,132.2 190.9,143.8 199.9,154.7 208.8,164.9 217.8,174.5 226.8,183.5 235.7,191.6 244.7,199.1 253.7,205.7 262.6,211.5 271.6,216.6 280.6,220.8"/>
<polygon fill="url(#a63)" points="278.3,221.9 269.3,217.6 260.3,212.5 251.4,206.6 242.4,199.9 233.4,192.5 224.5,184.2 215.5,175.2 206.5,165.5 197.5,155 188.6,143.9 179.6,132 170.6,119.2 161.7,105.5 152.7,90.5 143.7,74 134.8,55.5 135.9,56.3 144.9,74.6 153.9,91 162.8,105.8 171.8,119.4 180.8,132 189.7,143.8 198.7,154.8 207.7,165.2 216.6,174.8 225.6,183.8 234.6,192 243.5,199.5 252.5,206.2 261.5,212 270.5,217.1 279.4,221.3"/>
<polygon fill="url(#a62)" points="277.1,222.4 268.1,218.1 259.2,213 250.2,207.1 241.2,200.4 232.3,192.9 223.3,184.6 214.3,175.6 205.4,165.8 196.4,155.3 187.4,144.1 178.5,132.1 169.5,119.3 160.5,105.4 151.5,90.3 142.6,73.7 133.6,55.1 134.8,55.5 143.7,74 152.7,90.5 161.7,105.5 170.6,119.2 179.6,132 188.6,143.9 197.5,155 206.5,165.5 215.5,175.2 224.5,184.2 233.4,192.5 242.4,199.9 251.4,206.6 260.3,212.5 269.3,217.6 278.3,221.9"/>
<polygon fill="url(#a61)" points="276,222.9 267,218.6 258,213.5 249,207.6 240.1,200.9 231.1,193.4 222.1,185.1 213.2,176 204.2,166.2 195.2,155.7 186.3,144.4 177.3,132.4 168.3,119.5 159.4,105.6 150.4,90.4 141.4,73.7 132.5,55 133.6,55.1 142.6,73.7 151.5,90.3 160.5,105.4 169.5,119.3 178.5,132.1 187.4,144.1 196.4,155.3 205.4,165.8 214.3,175.6 223.3,184.6 232.3,192.9 241.2,200.4 250.2,207.1 259.2,213 268.1,218.1 277.1,222.4"/>
<polygon fill="url(#a60)" points="274.8,223.4 265.8,219.1 256.9,214.1 247.9,208.1 238.9,201.4 230,193.9 221,185.6 212,176.5 203.1,166.7 194.1,156.2 185.1,144.9 176.1,132.8 167.2,119.9 158.2,106 149.2,90.8 140.3,74.1 131.3,55.4 132.5,55 141.4,73.7 150.4,90.4 159.4,105.6 168.3,119.5 177.3,132.4 186.3,144.4 195.2,155.7 204.2,166.2 213.2,176 222.1,185.1 231.1,193.4 240.1,200.9 249,207.6 258,213.5 267,218.6 276,222.9"/>
<polygon fill="url(#a59)" points="273.6,223.9 264.7,219.7 255.7,214.6 246.7,208.7 237.8,201.9 228.8,194.4 219.8,186.1 210.9,177.1 201.9,167.3 192.9,156.7 184,145.5 175,133.4 166,120.5 157.1,106.6 148.1,91.4 139.1,74.7 130.1,56.1 131.3,55.4 140.3,74.1 149.2,90.8 158.2,106 167.2,119.9 176.1,132.8 185.1,144.9 194.1,156.2 203.1,166.7 212,176.5 221,185.6 230,193.9 238.9,201.4 247.9,208.1 256.9,214.1 265.8,219.1 274.8,223.4"/>
<polygon fill="url(#a58)" points="272.5,224.4 263.5,220.2 254.6,215.1 245.6,209.2 236.6,202.5 227.6,195 218.7,186.7 209.7,177.6 200.7,167.9 191.8,157.4 182.8,146.2 173.8,134.2 164.9,121.3 155.9,107.5 146.9,92.4 138,75.7 129,57.1 130.1,56.1 139.1,74.7 148.1,91.4 157.1,106.6 166,120.5 175,133.4 184,145.5 192.9,156.7 201.9,167.3 210.9,177.1 219.8,186.1 228.8,194.4 237.8,201.9 246.7,208.7 255.7,214.6 264.7,219.7 273.6,223.9"/>
<polygon fill="url(#a57)" points="271.3,224.9 262.4,220.7 253.4,215.6 244.4,209.7 235.5,203 226.5,195.5 217.5,187.3 208.6,178.3 199.6,168.5 190.6,158.1 181.6,147 172.7,135.1 163.7,122.3 154.7,108.6 145.8,93.6 136.8,77.1 127.8,58.6 129,57.1 138,75.7 146.9,92.4 155.9,107.5 164.9,121.3 173.8,134.2 182.8,146.2 191.8,157.4 200.7,167.9 209.7,177.6 218.7,186.7 227.6,195 236.6,202.5 245.6,209.2 254.6,215.1 263.5,220.2 272.5,224.4"/>
<polygon fill="url(#a56)" points="270.2,225.5 261.2,221.2 252.2,216.1 243.3,210.3 234.3,203.6 225.3,196.1 216.4,187.9 207.4,178.9 198.4,169.3 189.5,158.9 180.5,147.9 171.5,136.1 162.6,123.5 153.6,109.9 144.6,95.1 135.6,78.7 126.7,60.4 127.8,58.6 136.8,77.1 145.8,93.6 154.7,108.6 163.7,122.3 172.7,135.1 181.6,147 190.6,158.1 199.6,168.5 208.6,178.3 217.5,187.3 226.5,195.5 235.5,203 244.4,209.7 253.4,215.6 262.4,220.7 271.3,224.9"/>
<polygon fill="url(#a55)" points="269,226 260.1,221.7 251.1,216.7 242.1,210.8 233.1,204.2 224.2,196.8 215.2,188.6 206.2,179.7 197.3,170.1 188.3,159.9 179.3,149 170.4,137.4 161.4,124.9 152.4,111.5 143.5,96.9 134.5,80.7 125.5,62.6 126.7,60.4 135.6,78.7 144.6,95.1 153.6,109.9 162.6,123.5 171.5,136.1 180.5,147.9 189.5,158.9 198.4,169.3 207.4,178.9 216.4,187.9 225.3,196.1 234.3,203.6 243.3,210.3 252.2,216.1 261.2,221.2 270.2,225.5"/>
<polygon fill="url(#a54)" points="267.9,226.5 258.9,222.2 249.9,217.2 241,211.4 232,204.8 223,197.4 214.1,189.3 205.1,180.4 196.1,170.9 187.2,160.9 178.2,150.2 169.2,138.7 160.2,126.5 151.3,113.3 142.3,98.9 133.3,83 124.4,65.1 125.5,62.6 134.5,80.7 143.5,96.9 152.4,111.5 161.4,124.9 170.4,137.4 179.3,149 188.3,159.9 197.3,170.1 206.2,179.7 215.2,188.6 224.2,196.8 233.1,204.2 242.1,210.8 251.1,216.7 260.1,221.7 269,226"/>
<polygon fill="url(#a53)" points="266.7,227 257.7,222.8 248.8,217.8 239.8,212 230.8,205.4 221.9,198.1 212.9,190 203.9,181.3 195,171.8 186,162 177,151.5 168.1,140.3 159.1,128.3 150.1,115.4 141.2,101.3 132.2,85.7 123.2,68.1 124.4,65.1 133.3,83 142.3,98.9 151.3,113.3 160.2,126.5 169.2,138.7 178.2,150.2 187.2,160.9 196.1,170.9 205.1,180.4 214.1,189.3 223,197.4 232,204.8 241,211.4 249.9,217.2 258.9,222.2 267.9,226.5"/>
<polygon fill="url(#a52)" points="265.6,227.5 256.6,223.3 247.6,218.3 238.7,212.5 229.7,206 220.7,198.8 211.7,190.8 202.8,182.1 193.8,172.8 184.8,163.2 175.9,152.9 166.9,142 157.9,130.3 149,117.7 140,103.9 131,88.7 122.1,71.5 123.2,68.1 132.2,85.7 141.2,101.3 150.1,115.4 159.1,128.3 168.1,140.3 177,151.5 186,162 195,171.8 203.9,181.3 212.9,190 221.9,198.1 230.8,205.4 239.8,212 248.8,217.8 257.7,222.8 266.7,227"/>
<polygon fill="url(#a51)" points="264.4,228 255.4,223.8 246.5,218.8 237.5,213.1 228.5,206.7 219.6,199.5 210.6,191.6 201.6,183 192.7,173.9 183.7,164.4 174.7,154.4 165.7,143.8 156.8,132.5 147.8,120.3 138.8,106.9 129.9,92.1 120.9,75.3 122.1,71.5 131,88.7 140,103.9 149,117.7 157.9,130.3 166.9,142 175.9,152.9 184.8,163.2 193.8,172.8 202.8,182.1 211.7,190.8 220.7,198.8 229.7,206 238.7,212.5 247.6,218.3 256.6,223.3 265.6,227.5"/>
<polygon fill="url(#a50)" points="263.2,228.5 254.3,224.3 245.3,219.4 236.3,213.7 227.4,207.3 218.4,200.3 209.4,192.5 200.5,184 191.5,175 182.5,165.8 173.6,156.1 164.6,145.9 155.6,135 146.7,123.2 137.7,110.3 128.7,95.9 119.8,79.6 120.9,75.3 129.9,92.1 138.8,106.9 147.8,120.3 156.8,132.5 165.7,143.8 174.7,154.4 183.7,164.4 192.7,173.9 201.6,183 210.6,191.6 219.6,199.5 228.5,206.7 237.5,213.1 246.5,218.8 255.4,223.8 264.4,228"/>
<polygon fill="url(#a49)" points="262.1,229 253.1,224.9 244.2,220 235.2,214.3 226.2,208 217.3,201 208.3,193.4 199.3,185 190.3,176.2 181.4,167.3 172.4,158 163.4,148.1 154.5,137.7 145.5,126.4 136.5,114 127.6,100.2 118.6,84.4 119.8,79.6 128.7,95.9 137.7,110.3 146.7,123.2 155.6,135 164.6,145.9 173.6,156.1 182.5,165.8 191.5,175 200.5,184 209.4,192.5 218.4,200.3 227.4,207.3 236.3,213.7 245.3,219.4 254.3,224.3 263.2,228.5"/>
<polygon fill="url(#a48)" points="260.9,229.6 252,225.4 243,220.5 234,215 225.1,208.7 216.1,201.8 207.1,194.3 198.2,186.1 189.2,177.4 180.2,168.9 171.3,160 162.3,150.6 153.3,140.7 144.3,129.9 135.4,118.2 126.4,105 117.4,90 118.6,84.4 127.6,100.2 136.5,114 145.5,126.4 154.5,137.7 163.4,148.1 172.4,158 181.4,167.3 190.3,176.2 199.3,185 208.3,193.4 217.3,201 226.2,208 235.2,214.3 244.2,220 253.1,224.9 262.1,229"/>
<polygon fill="url(#a47)" points="259.8,230.1 250.8,225.9 241.8,221.1 232.9,215.6 223.9,209.5 214.9,202.7 206,195.3 197,187.2 188,178.8 179.1,170.7 170.1,162.2 161.1,153.4 152.2,144.1 143.2,134 134.2,123 125.3,110.7 116.3,96.5 117.4,90 126.4,105 135.4,118.2 144.3,129.9 153.3,140.7 162.3,150.6 171.3,160 180.2,168.9 189.2,177.4 198.2,186.1 207.1,194.3 216.1,201.8 225.1,208.7 234,215 243,220.5 252,225.4 260.9,229.6"/>
<polygon fill="url(#a46)" points="258.6,230.6 249.7,226.4 240.7,221.7 231.7,216.2 222.8,210.2 213.8,203.6 204.8,196.3 195.8,188.5 186.9,180.3 177.9,172.7 168.9,164.8 160,156.7 151,148.1 142,139 133.1,128.9 124.1,117.7 115.1,104.6 116.3,96.5 125.3,110.7 134.2,123 143.2,134 152.2,144.1 161.1,153.4 170.1,162.2 179.1,170.7 188,178.8 197,187.2 206,195.3 214.9,202.7 223.9,209.5 232.9,215.6 241.8,221.1 250.8,225.9 259.8,230.1"/>
<polygon fill="url(#a45)" points="257.5,231.1 248.5,227 239.5,222.3 230.6,217 221.6,211.1 212.6,204.7 203.7,197.7 194.7,190.2 185.7,182.5 176.8,175.6 167.8,168.8 158.8,161.9 149.8,154.8 140.9,147.5 131.9,139.6 122.9,130.8 114,120.7 115.1,104.6 124.1,117.7 133.1,128.9 142,139 151,148.1 160,156.7 168.9,164.8 177.9,172.7 186.9,180.3 195.8,188.5 204.8,196.3 213.8,203.6 222.8,210.2 231.7,216.2 240.7,221.7 249.7,226.4 258.6,230.6"/>
<polygon fill="url(#a44)" points="256.3,231.6 247.4,227.5 238.4,222.7 229.4,217.3 220.4,211.2 211.5,204.6 202.5,197.4 193.5,189.5 184.6,181.4 175.6,173.7 166.6,165.8 157.7,157.7 148.7,149.1 139.7,140 130.8,130 121.8,118.7 112.8,105.6 114,120.7 122.9,130.8 131.9,139.6 140.9,147.5 149.8,154.8 158.8,161.9 167.8,168.8 176.8,175.6 185.7,182.5 194.7,190.2 203.7,197.7 212.6,204.7 221.6,211.1 230.6,217 239.5,222.3 248.5,227 257.5,231.1"/>
<polygon fill="url(#a43)" points="255.2,232.1 246.2,228 237.2,223.1 228.3,217.6 219.3,211.5 210.3,204.7 201.4,197.3 192.4,189.3 183.4,180.8 174.4,172.7 165.5,164.3 156.5,155.5 147.5,146.1 138.6,136.1 129.6,125.1 120.6,112.7 111.7,98.5 112.8,105.6 121.8,118.7 130.8,130 139.7,140 148.7,149.1 157.7,157.7 166.6,165.8 175.6,173.7 184.6,181.4 193.5,189.5 202.5,197.4 211.5,204.6 220.4,211.2 229.4,217.3 238.4,222.7 247.4,227.5 256.3,231.6"/>
<polygon fill="url(#a42)" points="254,232.6 245,228.5 236.1,223.6 227.1,218 218.1,211.8 209.2,204.9 200.2,197.4 191.2,189.2 182.3,180.5 173.3,172 164.3,163.1 155.4,153.7 146.4,143.7 137.4,133 128.4,121.3 119.5,108.1 110.5,93.1 111.7,98.5 120.6,112.7 129.6,125.1 138.6,136.1 147.5,146.1 156.5,155.5 165.5,164.3 174.4,172.7 183.4,180.8 192.4,189.3 201.4,197.3 210.3,204.7 219.3,211.5 228.3,217.6 237.2,223.1 246.2,228 255.2,232.1"/>
<polygon fill="url(#a41)" points="252.9,233.2 243.9,229 234.9,224.1 225.9,218.4 217,212.1 208,205.1 199,197.5 190.1,189.1 181.1,180.3 172.1,171.4 163.2,162.1 154.2,152.3 145.2,141.8 136.3,130.5 127.3,118.1 118.3,104.3 109.4,88.5 110.5,93.1 119.5,108.1 128.4,121.3 137.4,133 146.4,143.7 155.4,153.7 164.3,163.1 173.3,172 182.3,180.5 191.2,189.2 200.2,197.4 209.2,204.9 218.1,211.8 227.1,218 236.1,223.6 245,228.5 254,232.6"/>
<polygon fill="url(#a40)" points="251.7,233.7 242.7,229.5 233.8,224.5 224.8,218.9 215.8,212.5 206.9,205.4 197.9,197.6 188.9,189.1 179.9,180.1 171,170.9 162,161.3 153,151 144.1,140.1 135.1,128.3 126.1,115.4 117.2,101 108.2,84.7 109.4,88.5 118.3,104.3 127.3,118.1 136.3,130.5 145.2,141.8 154.2,152.3 163.2,162.1 172.1,171.4 181.1,180.3 190.1,189.1 199,197.5 208,205.1 217,212.1 225.9,218.4 234.9,224.1 243.9,229 252.9,233.2"/>
<polygon fill="url(#a39)" points="250.5,234.2 241.6,230 232.6,225 223.6,219.3 214.7,212.8 205.7,205.7 196.7,197.8 187.8,189.2 178.8,180 169.8,170.6 160.9,160.6 151.9,150 142.9,138.7 134,126.5 125,113.1 116,98.2 107,81.4 108.2,84.7 117.2,101 126.1,115.4 135.1,128.3 144.1,140.1 153,151 162,161.3 171,170.9 179.9,180.1 188.9,189.1 197.9,197.6 206.9,205.4 215.8,212.5 224.8,218.9 233.8,224.5 242.7,229.5 251.7,233.7"/>
<polygon fill="url(#a38)" points="249.4,234.7 240.4,230.5 231.5,225.5 222.5,219.7 213.5,213.2 204.5,206 195.6,198 186.6,189.3 177.6,180 168.7,170.3 159.7,160.1 150.7,149.2 141.8,137.5 132.8,124.9 123.8,111.1 114.9,95.9 105.9,78.6 107,81.4 116,98.2 125,113.1 134,126.5 142.9,138.7 151.9,150 160.9,160.6 169.8,170.6 178.8,180 187.8,189.2 196.7,197.8 205.7,205.7 214.7,212.8 223.6,219.3 232.6,225 241.6,230 250.5,234.2"/>
<polygon fill="url(#a37)" points="248.2,235.2 239.3,231 230.3,226 221.3,220.2 212.4,213.6 203.4,206.3 194.4,198.2 185.5,189.5 176.5,180 167.5,170.2 158.5,159.7 149.6,148.5 140.6,136.5 131.6,123.6 122.7,109.5 113.7,93.9 104.7,76.3 105.9,78.6 114.9,95.9 123.8,111.1 132.8,124.9 141.8,137.5 150.7,149.2 159.7,160.1 168.7,170.3 177.6,180 186.6,189.3 195.6,198 204.5,206 213.5,213.2 222.5,219.7 231.5,225.5 240.4,230.5 249.4,234.7"/>
<polygon fill="url(#a36)" points="247.1,235.7 238.1,231.5 229.1,226.5 220.2,220.6 211.2,214 202.2,206.7 193.3,198.5 184.3,189.7 175.3,180.2 166.4,170.1 157.4,159.4 148.4,148 139.5,135.8 130.5,122.6 121.5,108.2 112.5,92.2 103.6,74.4 104.7,76.3 113.7,93.9 122.7,109.5 131.6,123.6 140.6,136.5 149.6,148.5 158.5,159.7 167.5,170.2 176.5,180 185.5,189.5 194.4,198.2 203.4,206.3 212.4,213.6 221.3,220.2 230.3,226 239.3,231 248.2,235.2"/>
<polygon fill="url(#a35)" points="245.9,236.2 237,232 228,226.9 219,221.1 210.1,214.5 201.1,207 192.1,198.9 183.1,189.9 174.2,180.3 165.2,170.1 156.2,159.2 147.3,147.6 138.3,135.2 129.3,121.8 120.4,107.1 111.4,91 102.4,72.8 103.6,74.4 112.5,92.2 121.5,108.2 130.5,122.6 139.5,135.8 148.4,148 157.4,159.4 166.4,170.1 175.3,180.2 184.3,189.7 193.3,198.5 202.2,206.7 211.2,214 220.2,220.6 229.1,226.5 238.1,231.5 247.1,235.7"/>
<polygon fill="url(#a34)" points="244.8,236.7 235.8,232.5 226.8,227.4 217.9,221.6 208.9,214.9 199.9,207.4 191,199.2 182,190.2 173,180.6 164.1,170.2 155.1,159.2 146.1,147.4 137.1,134.8 128.2,121.2 119.2,106.4 110.2,90 101.3,71.7 102.4,72.8 111.4,91 120.4,107.1 129.3,121.8 138.3,135.2 147.3,147.6 156.2,159.2 165.2,170.1 174.2,180.3 183.1,189.9 192.1,198.9 201.1,207 210.1,214.5 219,221.1 228,226.9 237,232 245.9,236.2"/>
<polygon fill="url(#a33)" points="243.6,237.3 234.6,233 225.7,227.9 216.7,222 207.7,215.3 198.8,207.9 189.8,199.6 180.8,190.6 171.9,180.9 162.9,170.4 153.9,159.3 145,147.4 136,134.6 127,120.9 118.1,105.9 109.1,89.4 100.1,70.9 101.3,71.7 110.2,90 119.2,106.4 128.2,121.2 137.1,134.8 146.1,147.4 155.1,159.2 164.1,170.2 173,180.6 182,190.2 191,199.2 199.9,207.4 208.9,214.9 217.9,221.6 226.8,227.4 235.8,232.5 244.8,236.7"/>
<polygon fill="url(#a32)" points="242.5,237.8 233.5,233.5 224.5,228.4 215.6,222.5 206.6,215.8 197.6,208.3 188.6,200 179.7,191 170.7,181.2 161.7,170.7 152.8,159.5 143.8,147.5 134.8,134.7 125.9,120.8 116.9,105.7 107.9,89.1 99,70.5 100.1,70.9 109.1,89.4 118.1,105.9 127,120.9 136,134.6 145,147.4 153.9,159.3 162.9,170.4 171.9,180.9 180.8,190.6 189.8,199.6 198.8,207.9 207.7,215.3 216.7,222 225.7,227.9 234.6,233 243.6,237.3"/>
<polygon fill="url(#a31)" points="241.3,238.3 232.3,234 223.4,228.9 214.4,223 205.4,216.3 196.5,208.8 187.5,200.5 178.5,191.4 169.6,181.6 160.6,171.1 151.6,159.8 142.6,147.8 133.7,134.9 124.7,121 115.7,105.8 106.8,89.1 97.8,70.4 99,70.5 107.9,89.1 116.9,105.7 125.9,120.8 134.8,134.7 143.8,147.5 152.8,159.5 161.7,170.7 170.7,181.2 179.7,191 188.6,200 197.6,208.3 206.6,215.8 215.6,222.5 224.5,228.4 233.5,233.5 242.5,237.8"/>
<polygon fill="url(#a30)" points="240.2,238.8 231.2,234.5 222.2,229.5 213.2,223.5 204.3,216.8 195.3,209.3 186.3,201 177.4,191.9 168.4,182.1 159.4,171.6 150.5,160.3 141.5,148.2 132.5,135.3 123.6,121.4 114.6,106.2 105.6,89.5 96.7,70.8 97.8,70.4 106.8,89.1 115.7,105.8 124.7,121 133.7,134.9 142.6,147.8 151.6,159.8 160.6,171.1 169.6,181.6 178.5,191.4 187.5,200.5 196.5,208.8 205.4,216.3 214.4,223 223.4,228.9 232.3,234 241.3,238.3"/>
<polygon fill="url(#a29)" points="239,239.3 230,235.1 221.1,230 212.1,224.1 203.1,217.3 194.2,209.8 185.2,201.5 176.2,192.5 167.2,182.7 158.3,172.1 149.3,160.9 140.3,148.8 131.4,135.9 122.4,122 113.4,106.8 104.5,90.1 95.5,71.5 96.7,70.8 105.6,89.5 114.6,106.2 123.6,121.4 132.5,135.3 141.5,148.2 150.5,160.3 159.4,171.6 168.4,182.1 177.4,191.9 186.3,201 195.3,209.3 204.3,216.8 213.2,223.5 222.2,229.5 231.2,234.5 240.2,238.8"/>
<polygon fill="url(#a28)" points="237.8,239.8 228.9,235.6 219.9,230.5 210.9,224.6 202,217.9 193,210.4 184,202.1 175.1,193 166.1,183.3 157.1,172.8 148.2,161.6 139.2,149.6 130.2,136.7 121.2,122.9 112.3,107.8 103.3,91.1 94.3,72.5 95.5,71.5 104.5,90.1 113.4,106.8 122.4,122 131.4,135.9 140.3,148.8 149.3,160.9 158.3,172.1 167.2,182.7 176.2,192.5 185.2,201.5 194.2,209.8 203.1,217.3 212.1,224.1 221.1,230 230,235.1 239,239.3"/>
<polygon fill="url(#a27)" points="236.7,240.3 227.7,236.1 218.7,231 209.8,225.1 200.8,218.4 191.8,210.9 182.9,202.7 173.9,193.7 164.9,183.9 156,173.5 147,162.4 138,150.5 129.1,137.7 120.1,124 111.1,109 102.2,92.5 93.2,74 94.3,72.5 103.3,91.1 112.3,107.8 121.2,122.9 130.2,136.7 139.2,149.6 148.2,161.6 157.1,172.8 166.1,183.3 175.1,193 184,202.1 193,210.4 202,217.9 210.9,224.6 219.9,230.5 228.9,235.6 237.8,239.8"/>
<polygon fill="url(#a26)" points="235.5,240.9 226.6,236.6 217.6,231.5 208.6,225.7 199.7,219 190.7,211.5 181.7,203.3 172.7,194.3 163.8,184.7 154.8,174.3 145.8,163.3 136.9,151.5 127.9,138.9 118.9,125.3 110,110.5 101,94.1 92,75.8 93.2,74 102.2,92.5 111.1,109 120.1,124 129.1,137.7 138,150.5 147,162.4 156,173.5 164.9,183.9 173.9,193.7 182.9,202.7 191.8,210.9 200.8,218.4 209.8,225.1 218.7,231 227.7,236.1 236.7,240.3"/>
<polygon fill="url(#a25)" points="234.4,241.4 225.4,237.1 216.4,232.1 207.5,226.2 198.5,219.6 189.5,212.2 180.6,204 171.6,195.1 162.6,185.5 153.7,175.3 144.7,164.4 135.7,152.8 126.8,140.3 117.8,126.9 108.8,112.3 99.8,96.1 90.9,78 92,75.8 101,94.1 110,110.5 118.9,125.3 127.9,138.9 136.9,151.5 145.8,163.3 154.8,174.3 163.8,184.7 172.7,194.3 181.7,203.3 190.7,211.5 199.7,219 208.6,225.7 217.6,231.5 226.6,236.6 235.5,240.9"/>
<polygon fill="url(#a24)" points="233.2,241.9 224.3,237.6 215.3,232.6 206.3,226.8 197.3,220.2 188.4,212.8 179.4,204.7 170.4,195.8 161.5,186.3 152.5,176.3 143.5,165.6 134.6,154.1 125.6,141.9 116.6,128.7 107.7,114.3 98.7,98.4 89.7,80.5 90.9,78 99.8,96.1 108.8,112.3 117.8,126.9 126.8,140.3 135.7,152.8 144.7,164.4 153.7,175.3 162.6,185.5 171.6,195.1 180.6,204 189.5,212.2 198.5,219.6 207.5,226.2 216.4,232.1 225.4,237.1 234.4,241.4"/>
<polygon fill="url(#a23)" points="232.1,242.4 223.1,238.2 214.1,233.2 205.2,227.4 196.2,220.8 187.2,213.5 178.3,205.4 169.3,196.7 160.3,187.2 151.3,177.4 142.4,166.9 133.4,155.7 124.4,143.7 115.5,130.8 106.5,116.7 97.5,101.1 88.6,83.5 89.7,80.5 98.7,98.4 107.7,114.3 116.6,128.7 125.6,141.9 134.6,154.1 143.5,165.6 152.5,176.3 161.5,186.3 170.4,195.8 179.4,204.7 188.4,212.8 197.3,220.2 206.3,226.8 215.3,232.6 224.3,237.6 233.2,241.9"/>
<polygon fill="url(#a22)" points="230.9,242.9 221.9,238.7 213,233.7 204,227.9 195,221.4 186.1,214.2 177.1,206.2 168.1,197.5 159.2,188.2 150.2,178.6 141.2,168.3 132.3,157.4 123.3,145.7 114.3,133.1 105.3,119.3 96.4,104.1 87.4,86.9 88.6,83.5 97.5,101.1 106.5,116.7 115.5,130.8 124.4,143.7 133.4,155.7 142.4,166.9 151.3,177.4 160.3,187.2 169.3,196.7 178.3,205.4 187.2,213.5 196.2,220.8 205.2,227.4 214.1,233.2 223.1,238.2 232.1,242.4"/>
<polygon fill="url(#a21)" points="229.8,243.4 220.8,239.2 211.8,234.2 202.8,228.5 193.9,222.1 184.9,214.9 175.9,207 167,198.4 158,189.3 149,179.8 140.1,169.8 131.1,159.2 122.1,147.9 113.2,135.7 104.2,122.3 95.2,107.5 86.3,90.7 87.4,86.9 96.4,104.1 105.3,119.3 114.3,133.1 123.3,145.7 132.3,157.4 141.2,168.3 150.2,178.6 159.2,188.2 168.1,197.5 177.1,206.2 186.1,214.2 195,221.4 204,227.9 213,233.7 221.9,238.7 230.9,242.9"/>
<polygon fill="url(#a20)" points="228.6,243.9 219.6,239.7 210.7,234.8 201.7,229.1 192.7,222.7 183.8,215.7 174.8,207.9 165.8,199.4 156.8,190.4 147.9,181.2 138.9,171.5 129.9,161.3 121,150.4 112,138.6 103,125.7 94.1,111.3 85.1,95 86.3,90.7 95.2,107.5 104.2,122.3 113.2,135.7 122.1,147.9 131.1,159.2 140.1,169.8 149,179.8 158,189.3 167,198.4 175.9,207 184.9,214.9 193.9,222.1 202.8,228.5 211.8,234.2 220.8,239.2 229.8,243.4"/>
<polygon fill="url(#a19)" points="227.4,244.4 218.5,240.3 209.5,235.4 200.5,229.7 191.6,223.4 182.6,216.4 173.6,208.8 164.7,200.4 155.7,191.6 146.7,182.7 137.8,173.4 128.8,163.5 119.8,153.1 110.9,141.8 101.9,129.4 92.9,115.6 83.9,99.8 85.1,95 94.1,111.3 103,125.7 112,138.6 121,150.4 129.9,161.3 138.9,171.5 147.9,181.2 156.8,190.4 165.8,199.4 174.8,207.9 183.8,215.7 192.7,222.7 201.7,229.1 210.7,234.8 219.6,239.7 228.6,243.9"/>
<polygon fill="url(#a18)" points="226.3,245 217.3,240.8 208.4,235.9 199.4,230.4 190.4,224.1 181.4,217.2 172.5,209.7 163.5,201.5 154.5,192.8 145.6,184.3 136.6,175.4 127.6,166 118.7,156.1 109.7,145.3 100.7,133.6 91.8,120.4 82.8,105.4 83.9,99.8 92.9,115.6 101.9,129.4 110.9,141.8 119.8,153.1 128.8,163.5 137.8,173.4 146.7,182.7 155.7,191.6 164.7,200.4 173.6,208.8 182.6,216.4 191.6,223.4 200.5,229.7 209.5,235.4 218.5,240.3 227.4,244.4"/>
<polygon fill="url(#a17)" points="225.1,245.5 216.2,241.3 207.2,236.5 198.2,231 189.3,224.9 180.3,218.1 171.3,210.7 162.4,202.6 153.4,194.2 144.4,186.1 135.4,177.6 126.5,168.8 117.5,159.5 108.5,149.4 99.6,138.4 90.6,126.1 81.6,111.9 82.8,105.4 91.8,120.4 100.7,133.6 109.7,145.3 118.7,156.1 127.6,166 136.6,175.4 145.6,184.3 154.5,192.8 163.5,201.5 172.5,209.7 181.4,217.2 190.4,224.1 199.4,230.4 208.4,235.9 217.3,240.8 226.3,245"/>
<polygon fill="url(#a16)" points="224,246 215,241.8 206,237.1 197.1,231.6 188.1,225.6 179.1,219 170.2,211.7 161.2,203.9 152.2,195.7 143.3,188.1 134.3,180.2 125.3,172.1 116.4,163.5 107.4,154.4 98.4,144.3 89.4,133.1 80.5,120 81.6,111.9 90.6,126.1 99.6,138.4 108.5,149.4 117.5,159.5 126.5,168.8 135.4,177.6 144.4,186.1 153.4,194.2 162.4,202.6 171.3,210.7 180.3,218.1 189.3,224.9 198.2,231 207.2,236.5 216.2,241.3 225.1,245.5"/>
<polygon fill="url(#a15)" points="222.8,246.5 213.9,242.4 204.9,237.7 195.9,232.4 186.9,226.5 178,220.1 169,213.1 160,205.6 151.1,197.9 142.1,191 133.1,184.2 124.2,177.3 115.2,170.2 106.2,162.9 97.3,155 88.3,146.2 79.3,136.1 80.5,120 89.4,133.1 98.4,144.3 107.4,154.4 116.4,163.5 125.3,172.1 134.3,180.2 143.3,188.1 152.2,195.7 161.2,203.9 170.2,211.7 179.1,219 188.1,225.6 197.1,231.6 206,237.1 215,241.8 224,246"/>
<polygon fill="url(#a14)" points="221.7,247 212.7,242.9 203.7,238.1 194.8,232.7 185.8,226.6 176.8,220 167.9,212.8 158.9,204.9 149.9,196.8 141,189.1 132,181.2 123,173.1 114,164.5 105.1,155.4 96.1,145.4 87.1,134.1 78.2,121 79.3,136.1 88.3,146.2 97.3,155 106.2,162.9 115.2,170.2 124.2,177.3 133.1,184.2 142.1,191 151.1,197.9 160,205.6 169,213.1 178,220.1 186.9,226.5 195.9,232.4 204.9,237.7 213.9,242.4 222.8,246.5"/>
<polygon fill="url(#a13)" points="220.5,247.5 211.5,243.4 202.6,238.5 193.6,233 184.6,226.9 175.7,220.1 166.7,212.7 157.7,204.7 148.8,196.2 139.8,188.1 130.8,179.7 121.9,170.9 112.9,161.5 103.9,151.5 95,140.5 86,128.1 77,113.9 78.2,121 87.1,134.1 96.1,145.4 105.1,155.4 114,164.5 123,173.1 132,181.2 141,189.1 149.9,196.8 158.9,204.9 167.9,212.8 176.8,220 185.8,226.6 194.8,232.7 203.7,238.1 212.7,242.9 221.7,247"/>
<polygon fill="url(#a12)" points="219.4,248 210.4,243.9 201.4,239 192.5,233.4 183.5,227.2 174.5,220.3 165.5,212.8 156.6,204.6 147.6,195.9 138.6,187.4 129.7,178.5 120.7,169.1 111.7,159.1 102.8,148.4 93.8,136.7 84.8,123.5 75.9,108.5 77,113.9 86,128.1 95,140.5 103.9,151.5 112.9,161.5 121.9,170.9 130.8,179.7 139.8,188.1 148.8,196.2 157.7,204.7 166.7,212.7 175.7,220.1 184.6,226.9 193.6,233 202.6,238.5 211.5,243.4 220.5,247.5"/>
<polygon fill="url(#a11)" points="218.2,248.6 209.2,244.4 200.3,239.5 191.3,233.8 182.3,227.5 173.4,220.5 164.4,212.9 155.4,204.5 146.5,195.7 137.5,186.8 128.5,177.5 119.5,167.7 110.6,157.2 101.6,145.9 92.6,133.5 83.7,119.7 74.7,103.9 75.9,108.5 84.8,123.5 93.8,136.7 102.8,148.4 111.7,159.1 120.7,169.1 129.7,178.5 138.6,187.4 147.6,195.9 156.6,204.6 165.5,212.8 174.5,220.3 183.5,227.2 192.5,233.4 201.4,239 210.4,243.9 219.4,248"/>
<polygon fill="url(#a10)" points="217.1,249.1 208.1,244.9 199.1,239.9 190.1,234.3 181.2,227.9 172.2,220.8 163.2,213 154.3,204.5 145.3,195.5 136.3,186.3 127.4,176.7 118.4,166.4 109.4,155.5 100.5,143.7 91.5,130.8 82.5,116.4 73.5,100.1 74.7,103.9 83.7,119.7 92.6,133.5 101.6,145.9 110.6,157.2 119.5,167.7 128.5,177.5 137.5,186.8 146.5,195.7 155.4,204.5 164.4,212.9 173.4,220.5 182.3,227.5 191.3,233.8 200.3,239.5 209.2,244.4 218.2,248.6"/>
<polygon fill="url(#a9)" points="215.9,249.6 206.9,245.4 198,240.4 189,234.7 180,228.2 171.1,221.1 162.1,213.2 153.1,204.6 144.1,195.4 135.2,186 126.2,176 117.2,165.4 108.3,154.1 99.3,141.9 90.3,128.5 81.4,113.6 72.4,96.8 73.5,100.1 82.5,116.4 91.5,130.8 100.5,143.7 109.4,155.5 118.4,166.4 127.4,176.7 136.3,186.3 145.3,195.5 154.3,204.5 163.2,213 172.2,220.8 181.2,227.9 190.1,234.3 199.1,239.9 208.1,244.9 217.1,249.1"/>
<polygon fill="url(#a8)" points="214.7,250.1 205.8,245.9 196.8,240.9 187.8,235.1 178.9,228.6 169.9,221.4 160.9,213.4 152,204.7 143,195.4 134,185.7 125.1,175.5 116.1,164.6 107.1,152.9 98.1,140.3 89.2,126.5 80.2,111.3 71.2,94 72.4,96.8 81.4,113.6 90.3,128.5 99.3,141.9 108.3,154.1 117.2,165.4 126.2,176 135.2,186 144.1,195.4 153.1,204.6 162.1,213.2 171.1,221.1 180,228.2 189,234.7 198,240.4 206.9,245.4 215.9,249.6"/>
<polygon fill="url(#a7)" points="213.6,250.6 204.6,246.4 195.6,241.4 186.7,235.6 177.7,229 168.7,221.7 159.8,213.6 150.8,204.9 141.8,195.4 132.9,185.6 123.9,175.1 114.9,163.9 106,151.9 97,139 88,124.9 79.1,109.3 70.1,91.7 71.2,94 80.2,111.3 89.2,126.5 98.1,140.3 107.1,152.9 116.1,164.6 125.1,175.5 134,185.7 143,195.4 152,204.7 160.9,213.4 169.9,221.4 178.9,228.6 187.8,235.1 196.8,240.9 205.8,245.9 214.7,250.1"/>
<polygon fill="url(#a6)" points="212.4,251.1 203.5,246.9 194.5,241.9 185.5,236 176.6,229.4 167.6,222.1 158.6,213.9 149.6,205.1 140.7,195.6 131.7,185.5 122.7,174.8 113.8,163.4 104.8,151.2 95.8,138 86.9,123.6 77.9,107.6 68.9,89.8 70.1,91.7 79.1,109.3 88,124.9 97,139 106,151.9 114.9,163.9 123.9,175.1 132.9,185.6 141.8,195.4 150.8,204.9 159.8,213.6 168.7,221.7 177.7,229 186.7,235.6 195.6,241.4 204.6,246.4 213.6,250.6"/>
<polygon fill="url(#a5)" points="211.3,251.6 202.3,247.4 193.3,242.3 184.4,236.5 175.4,229.9 166.4,222.4 157.5,214.3 148.5,205.3 139.5,195.7 130.6,185.5 121.6,174.6 112.6,163 103.7,150.6 94.7,137.2 85.7,122.5 76.7,106.4 67.8,88.2 68.9,89.8 77.9,107.6 86.9,123.6 95.8,138 104.8,151.2 113.8,163.4 122.7,174.8 131.7,185.5 140.7,195.6 149.6,205.1 158.6,213.9 167.6,222.1 176.6,229.4 185.5,236 194.5,241.9 203.5,246.9 212.4,251.1"/>
<polygon fill="url(#a4)" points="210.1,252.1 201.2,247.9 192.2,242.8 183.2,237 174.2,230.3 165.3,222.8 156.3,214.6 147.3,205.6 138.4,196 129.4,185.6 120.4,174.6 111.5,162.8 102.5,150.2 93.5,136.6 84.6,121.8 75.6,105.4 66.6,87.1 67.8,88.2 76.7,106.4 85.7,122.5 94.7,137.2 103.7,150.6 112.6,163 121.6,174.6 130.6,185.5 139.5,195.7 148.5,205.3 157.5,214.3 166.4,222.4 175.4,229.9 184.4,236.5 193.3,242.3 202.3,247.4 211.3,251.6"/>
<polygon fill="url(#a3)" points="209,252.7 200,248.4 191,243.3 182.1,237.4 173.1,230.7 164.1,223.3 155.2,215 146.2,206 137.2,196.3 128.2,185.8 119.3,174.7 110.3,162.8 101.3,150 92.4,136.3 83.4,121.3 74.4,104.8 65.5,86.3 66.6,87.1 75.6,105.4 84.6,121.8 93.5,136.6 102.5,150.2 111.5,162.8 120.4,174.6 129.4,185.6 138.4,196 147.3,205.6 156.3,214.6 165.3,222.8 174.2,230.3 183.2,237 192.2,242.8 201.2,247.9 210.1,252.1"/>
<polygon fill="url(#a2)" points="207.8,253.2 198.8,248.9 189.9,243.8 180.9,237.9 171.9,231.2 163,223.7 154,215.4 145,206.4 136.1,196.6 127.1,186.1 118.1,174.9 109.2,162.9 100.2,150.1 91.2,136.2 82.2,121.1 73.3,104.5 64.3,85.9 65.5,86.3 74.4,104.8 83.4,121.3 92.4,136.3 101.3,150 110.3,162.8 119.3,174.7 128.2,185.8 137.2,196.3 146.2,206 155.2,215 164.1,223.3 173.1,230.7 182.1,237.4 191,243.3 200,248.4 209,252.7"/>
<polygon fill="url(#a1)" points="206.7,253.7 197.7,249.4 188.7,244.3 179.7,238.4 170.8,231.7 161.8,224.2 152.8,215.9 143.9,206.8 134.9,197 125.9,186.5 117,175.2 108,163.2 99,150.3 90.1,136.4 81.1,121.2 72.1,104.5 63.2,85.8 64.3,85.9 73.3,104.5 82.2,121.1 91.2,136.2 100.2,150.1 109.2,162.9 118.1,174.9 127.1,186.1 136.1,196.6 145,206.4 154,215.4 163,223.7 171.9,231.2 180.9,237.9 189.9,243.8 198.8,248.9 207.8,253.2"/>
<polygon fill="url(#a0)" points="205.5,254.2 196.5,249.9 187.6,244.9 178.6,238.9 169.6,232.2 160.7,224.7 151.7,216.4 142.7,207.3 133.8,197.5 124.8,187 115.8,175.7 106.8,163.6 97.9,150.7 88.9,136.8 79.9,121.6 71,104.9 62,86.2 63.2,85.8 72.1,104.5 81.1,121.2 90.1,136.4 99,150.3 108,163.2 117,175.2 125.9,186.5 134.9,197 143.9,206.8 152.8,215.9 161.8,224.2 170.8,231.7 179.7,238.4 188.7,244.3 197.7,249.4 206.7,253.7"/></g>
<g shape-rendering="crispEdges"><polygon fill="url(#b29)" points="674,192.9 664.5,188.4 655,183.3 645.6,177.7 636.1,171.4 626.6,164.5 617.2,156.8 607.7,148.2 598.3,138.7 588.8,128.1 579.3,116.3 569.9,103.1 560.4,88.3 550.9,71.7 541.5,53.2 546,49.5 555.5,68.4 564.9,85.3 574.4,100.3 583.9,113.8 593.3,125.8 602.8,136.5 612.2,146.1 621.7,154.8 631.2,162.5 640.6,169.5 650.1,175.8 659.6,181.4 669,186.5 678.5,191"/>
<polygon fill="url(#b28)" points="669.4,194.7 660,190.2 650.5,185.2 641,179.6 631.6,173.4 622.1,166.5 612.6,158.8 603.2,150.4 593.7,141 584.3,130.5 574.8,118.8 565.3,105.8 555.9,91.3 546.4,75.1 536.9,56.9 541.5,53.2 550.9,71.7 560.4,88.3 569.9,103.1 579.3,116.3 588.8,128.1 598.3,138.7 607.7,148.2 617.2,156.8 626.6,164.5 636.1,171.4 645.6,177.7 655,183.3 664.5,188.4 674,192.9"/>
<polygon fill="url(#b27)" points="664.9,196.6 655.4,192.1 646,187.1 636.5,181.5 627,175.3 617.6,168.5 608.1,160.9 598.6,152.5 589.2,143.2 579.7,132.8 570.3,121.4 560.8,108.6 551.3,94.3 541.9,78.4 532.4,60.6 536.9,56.9 546.4,75.1 555.9,91.3 565.3,105.8 574.8,118.8 584.3,130.5 593.7,141 603.2,150.4 612.6,158.8 622.1,166.5 631.6,173.4 641,179.6 650.5,185.2 660,190.2 669.4,194.7"/>
<polygon fill="url(#b26)" points="660.4,198.5 650.9,194 641.4,189 632,183.4 622.5,177.2 613,170.4 603.6,162.9 594.1,154.6 584.7,145.4 575.2,135.2 565.7,123.9 556.3,111.3 546.8,97.3 537.3,81.7 527.9,64.3 532.4,60.6 541.9,78.4 551.3,94.3 560.8,108.6 570.3,121.4 579.7,132.8 589.2,143.2 598.6,152.5 608.1,160.9 617.6,168.5 627,175.3 636.5,181.5 646,187.1 655.4,192.1 664.9,196.6"/>
<polygon fill="url(#b25)" points="655.8,200.3 646.4,195.9 636.9,190.9 627.4,185.3 618,179.2 608.5,172.4 599,165 589.6,156.7 580.1,147.6 570.7,137.6 561.2,126.4 551.7,114.1 542.3,100.3 532.8,85 523.3,68 527.9,64.3 537.3,81.7 546.8,97.3 556.3,111.3 565.7,123.9 575.2,135.2 584.7,145.4 594.1,154.6 603.6,162.9 613,170.4 622.5,177.2 632,183.4 641.4,189 650.9,194 660.4,198.5"/>
<polygon fill="url(#b24)" points="651.3,202.2 641.8,197.7 632.4,192.7 622.9,187.2 613.4,181.1 604,174.4 594.5,167 585,158.9 575.6,149.9 566.1,140 556.7,129 547.2,116.8 537.7,103.3 528.3,88.3 518.8,71.7 523.3,68 532.8,85 542.3,100.3 551.7,114.1 561.2,126.4 570.7,137.6 580.1,147.6 589.6,156.7 599,165 608.5,172.4 618,179.2 627.4,185.3 636.9,190.9 646.4,195.9 655.8,200.3"/>
<polygon fill="url(#b23)" points="646.8,204.1 637.3,199.6 627.8,194.6 618.4,189.1 608.9,183.1 599.4,176.4 590,169.1 580.5,161 571.1,152.1 561.6,142.3 552.1,131.5 542.7,119.6 533.2,106.3 523.7,91.7 514.3,75.4 518.8,71.7 528.3,88.3 537.7,103.3 547.2,116.8 556.7,129 566.1,140 575.6,149.9 585,158.9 594.5,167 604,174.4 613.4,181.1 622.9,187.2 632.4,192.7 641.8,197.7 651.3,202.2"/>
<polygon fill="url(#b22)" points="642.2,205.9 632.8,201.5 623.3,196.5 613.8,191 604.4,185 594.9,178.4 585.4,171.1 576,163.2 566.5,154.4 557.1,144.7 547.6,134.1 538.1,122.3 528.7,109.4 519.2,95 509.7,79.1 514.3,75.4 523.7,91.7 533.2,106.3 542.7,119.6 552.1,131.5 561.6,142.3 571.1,152.1 580.5,161 590,169.1 599.4,176.4 608.9,183.1 618.4,189.1 627.8,194.6 637.3,199.6 646.8,204.1"/>
<polygon fill="url(#b21)" points="637.7,207.8 628.2,203.3 618.8,198.4 609.3,192.9 599.8,187 590.4,180.4 580.9,173.2 571.5,165.3 562,156.6 552.5,147.1 543.1,136.7 533.6,125.1 524.1,112.4 514.7,98.3 505.2,82.8 509.7,79.1 519.2,95 528.7,109.4 538.1,122.3 547.6,134.1 557.1,144.7 566.5,154.4 576,163.2 585.4,171.1 594.9,178.4 604.4,185 613.8,191 623.3,196.5 632.8,201.5 642.2,205.9"/>
<polygon fill="url(#b20)" points="633.2,209.7 623.7,205.2 614.2,200.3 604.8,194.9 595.3,188.9 585.8,182.4 576.4,175.3 566.9,167.5 557.5,158.9 548,149.5 538.5,139.2 529.1,127.9 519.6,115.4 510.1,101.7 500.7,86.5 505.2,82.8 514.7,98.3 524.1,112.4 533.6,125.1 543.1,136.7 552.5,147.1 562,156.6 571.5,165.3 580.9,173.2 590.4,180.4 599.8,187 609.3,192.9 618.8,198.4 628.2,203.3 637.7,207.8"/>
<polygon fill="url(#b19)" points="628.6,211.5 619.2,207.1 609.7,202.2 600.2,196.8 590.8,190.9 581.3,184.4 571.8,177.3 562.4,169.6 552.9,161.2 543.5,151.9 534,141.8 524.5,130.7 515.1,118.5 505.6,105 496.1,90.2 500.7,86.5 510.1,101.7 519.6,115.4 529.1,127.9 538.5,139.2 548,149.5 557.5,158.9 566.9,167.5 576.4,175.3 585.8,182.4 595.3,188.9 604.8,194.9 614.2,200.3 623.7,205.2 633.2,209.7"/>
<polygon fill="url(#b18)" points="624.1,213.4 614.6,209 605.2,204.1 595.7,198.7 586.2,192.8 576.8,186.4 567.3,179.4 557.9,171.8 548.4,163.4 538.9,154.3 529.5,144.4 520,133.5 510.5,121.5 501.1,108.4 491.6,93.9 496.1,90.2 505.6,105 515.1,118.5 524.5,130.7 534,141.8 543.5,151.9 552.9,161.2 562.4,169.6 571.8,177.3 581.3,184.4 590.8,190.9 600.2,196.8 609.7,202.2 619.2,207.1 628.6,211.5"/>
<polygon fill="url(#b17)" points="619.6,215.3 610.1,210.8 600.6,205.9 591.2,200.6 581.7,194.8 572.2,188.4 562.8,181.5 553.3,173.9 543.9,165.7 534.4,156.8 524.9,147 515.5,136.3 506,124.5 496.5,111.7 487.1,97.6 491.6,93.9 501.1,108.4 510.5,121.5 520,133.5 529.5,144.4 538.9,154.3 548.4,163.4 557.9,171.8 567.3,179.4 576.8,186.4 586.2,192.8 595.7,198.7 605.2,204.1 614.6,209 624.1,213.4"/>
<polygon fill="url(#b16)" points="615,217.1 605.6,212.7 596.1,207.8 586.6,202.5 577.2,196.7 567.7,190.4 558.2,183.6 548.8,176.1 539.3,168 529.9,159.2 520.4,149.6 510.9,139.1 501.5,127.6 492,115 482.5,101.3 487.1,97.6 496.5,111.7 506,124.5 515.5,136.3 524.9,147 534.4,156.8 543.9,165.7 553.3,173.9 562.8,181.5 572.2,188.4 581.7,194.8 591.2,200.6 600.6,205.9 610.1,210.8 619.6,215.3"/>
<polygon fill="url(#b15)" points="610.5,219 601,214.6 591.6,209.7 582.1,204.4 572.6,198.7 563.2,192.4 553.7,185.6 544.2,178.3 534.8,170.3 525.3,161.6 515.9,152.2 506.4,141.9 496.9,130.7 487.5,118.4 478,105 482.5,101.3 492,115 501.5,127.6 510.9,139.1 520.4,149.6 529.9,159.2 539.3,168 548.8,176.1 558.2,183.6 567.7,190.4 577.2,196.7 586.6,202.5 596.1,207.8 605.6,212.7 615,217.1"/>
<polygon fill="url(#b14)" points="606,220.9 596.5,216.4 587,211.6 577.6,206.3 568.1,200.6 558.6,194.4 549.2,187.7 539.7,180.5 530.3,172.6 520.8,164 511.3,154.8 501.9,144.7 492.4,133.7 482.9,121.8 473.5,108.7 478,105 487.5,118.4 496.9,130.7 506.4,141.9 515.9,152.2 525.3,161.6 534.8,170.3 544.2,178.3 553.7,185.6 563.2,192.4 572.6,198.7 582.1,204.4 591.6,209.7 601,214.6 610.5,219"/>
<polygon fill="url(#b13)" points="601.4,222.7 592,218.3 582.5,213.5 573,208.3 563.6,202.6 554.1,196.4 544.6,189.8 535.2,182.6 525.7,174.9 516.3,166.5 506.8,157.4 497.3,147.5 487.9,136.8 478.4,125.1 468.9,112.4 473.5,108.7 482.9,121.8 492.4,133.7 501.9,144.7 511.3,154.8 520.8,164 530.3,172.6 539.7,180.5 549.2,187.7 558.6,194.4 568.1,200.6 577.6,206.3 587,211.6 596.5,216.4 606,220.9"/>
<polygon fill="url(#b12)" points="596.9,224.6 587.4,220.2 578,215.4 568.5,210.2 559,204.5 549.6,198.5 540.1,191.9 530.6,184.8 521.2,177.2 511.7,168.9 502.3,160 492.8,150.3 483.3,139.8 473.9,128.5 464.4,116.1 468.9,112.4 478.4,125.1 487.9,136.8 497.3,147.5 506.8,157.4 516.3,166.5 525.7,174.9 535.2,182.6 544.6,189.8 554.1,196.4 563.6,202.6 573,208.3 582.5,213.5 592,218.3 601.4,222.7"/>
<polygon fill="url(#b11)" points="592.4,226.5 582.9,222.1 573.4,217.3 564,212.1 554.5,206.5 545,200.5 535.6,194 526.1,187 516.7,179.5 507.2,171.4 497.7,162.6 488.3,153.2 478.8,142.9 469.3,131.8 459.9,119.8 464.4,116.1 473.9,128.5 483.3,139.8 492.8,150.3 502.3,160 511.7,168.9 521.2,177.2 530.6,184.8 540.1,191.9 549.6,198.5 559,204.5 568.5,210.2 578,215.4 587.4,220.2 596.9,224.6"/>
<polygon fill="url(#b10)" points="587.8,228.3 578.4,223.9 568.9,219.2 559.4,214 550,208.5 540.5,202.5 531,196.1 521.6,189.2 512.1,181.8 502.7,173.8 493.2,165.3 483.7,156 474.3,146 464.8,135.2 455.3,123.5 459.9,119.8 469.3,131.8 478.8,142.9 488.3,153.2 497.7,162.6 507.2,171.4 516.7,179.5 526.1,187 535.6,194 545,200.5 554.5,206.5 564,212.1 573.4,217.3 582.9,222.1 592.4,226.5"/>
<polygon fill="url(#b9)" points="583.3,230.2 573.8,225.8 564.4,221.1 554.9,215.9 545.4,210.4 536,204.5 526.5,198.2 517,191.4 507.6,184.1 498.1,176.3 488.7,167.9 479.2,158.8 469.7,149.1 460.3,138.6 450.8,127.2 455.3,123.5 464.8,135.2 474.3,146 483.7,156 493.2,165.3 502.7,173.8 512.1,181.8 521.6,189.2 531,196.1 540.5,202.5 550,208.5 559.4,214 568.9,219.2 578.4,223.9 587.8,228.3"/>
<polygon fill="url(#b8)" points="578.8,232.1 569.3,227.7 559.8,222.9 550.4,217.9 540.9,212.4 531.4,206.6 522,200.3 512.5,193.6 503.1,186.4 493.6,178.8 484.1,170.5 474.7,161.7 465.2,152.2 455.7,141.9 446.3,130.9 450.8,127.2 460.3,138.6 469.7,149.1 479.2,158.8 488.7,167.9 498.1,176.3 507.6,184.1 517,191.4 526.5,198.2 536,204.5 545.4,210.4 554.9,215.9 564.4,221.1 573.8,225.8 583.3,230.2"/>
<polygon fill="url(#b7)" points="574.2,233.9 564.8,229.6 555.3,224.8 545.8,219.8 536.4,214.4 526.9,208.6 517.4,202.4 508,195.8 498.5,188.8 489.1,181.2 479.6,173.2 470.1,164.5 460.7,155.3 451.2,145.3 441.7,134.6 446.3,130.9 455.7,141.9 465.2,152.2 474.7,161.7 484.1,170.5 493.6,178.8 503.1,186.4 512.5,193.6 522,200.3 531.4,206.6 540.9,212.4 550.4,217.9 559.8,222.9 569.3,227.7 578.8,232.1"/>
<polygon fill="url(#b6)" points="569.7,235.8 560.2,231.4 550.8,226.7 541.3,221.7 531.8,216.3 522.4,210.6 512.9,204.5 503.4,198 494,191.1 484.5,183.7 475.1,175.8 465.6,167.4 456.1,158.4 446.7,148.7 437.2,138.3 441.7,134.6 451.2,145.3 460.7,155.3 470.1,164.5 479.6,173.2 489.1,181.2 498.5,188.8 508,195.8 517.4,202.4 526.9,208.6 536.4,214.4 545.8,219.8 555.3,224.8 564.8,229.6 574.2,233.9"/>
<polygon fill="url(#b5)" points="565.2,237.7 555.7,233.3 546.2,228.6 536.8,223.6 527.3,218.3 517.8,212.7 508.4,206.6 498.9,200.3 489.5,193.4 480,186.2 470.5,178.5 461.1,170.3 451.6,161.5 442.1,152.1 432.7,142 437.2,138.3 446.7,148.7 456.1,158.4 465.6,167.4 475.1,175.8 484.5,183.7 494,191.1 503.4,198 512.9,204.5 522.4,210.6 531.8,216.3 541.3,221.7 550.8,226.7 560.2,231.4 569.7,235.8"/>
<polygon fill="url(#b4)" points="560.6,239.5 551.2,235.2 541.7,230.5 532.2,225.6 522.8,220.3 513.3,214.7 503.8,208.8 494.4,202.5 484.9,195.8 475.5,188.7 466,181.1 456.5,173.1 447.1,164.6 437.6,155.4 428.1,145.7 432.7,142 442.1,152.1 451.6,161.5 461.1,170.3 470.5,178.5 480,186.2 489.5,193.4 498.9,200.3 508.4,206.6 517.8,212.7 527.3,218.3 536.8,223.6 546.2,228.6 555.7,233.3 565.2,237.7"/>
<polygon fill="url(#b3)" points="556.1,241.4 546.6,237 537.2,232.4 527.7,227.5 518.2,222.3 508.8,216.7 499.3,210.9 489.9,204.7 480.4,198.1 470.9,191.2 461.5,183.8 452,176 442.5,167.7 433.1,158.8 423.6,149.4 428.1,145.7 437.6,155.4 447.1,164.6 456.5,173.1 466,181.1 475.5,188.7 484.9,195.8 494.4,202.5 503.8,208.8 513.3,214.7 522.8,220.3 532.2,225.6 541.7,230.5 551.2,235.2 560.6,239.5"/>
<polygon fill="url(#b2)" points="551.6,243.3 542.1,238.9 532.6,234.3 523.2,229.4 513.7,224.2 504.2,218.8 494.8,213 485.3,206.9 475.9,200.5 466.4,193.7 456.9,186.5 447.5,178.9 438,170.8 428.5,162.2 419.1,153.1 423.6,149.4 433.1,158.8 442.5,167.7 452,176 461.5,183.8 470.9,191.2 480.4,198.1 489.9,204.7 499.3,210.9 508.8,216.7 518.2,222.3 527.7,227.5 537.2,232.4 546.6,237 556.1,241.4"/>
<polygon fill="url(#b1)" points="547,245.1 537.6,240.8 528.1,236.2 518.6,231.3 509.2,226.2 499.7,220.8 490.2,215.1 480.8,209.2 471.3,202.9 461.9,196.2 452.4,189.2 442.9,181.8 433.5,173.9 424,165.6 414.5,156.8 419.1,153.1 428.5,162.2 438,170.8 447.5,178.9 456.9,186.5 466.4,193.7 475.9,200.5 485.3,206.9 494.8,213 504.2,218.8 513.7,224.2 523.2,229.4 532.6,234.3 542.1,238.9 551.6,243.3"/>
<polygon fill="url(#b0)" points="542.5,247 533,242.7 523.6,238.1 514.1,233.3 504.6,228.2 495.2,222.9 485.7,217.3 476.2,211.4 466.8,205.2 457.3,198.7 447.9,191.9 438.4,184.6 428.9,177 419.5,169 410,160.5 414.5,156.8 424,165.6 433.5,173.9 442.9,181.8 452.4,189.2 461.9,196.2 471.3,202.9 480.8,209.2 490.2,215.1 499.7,220.8 509.2,226.2 518.6,231.3 528.1,236.2 537.6,240.8 547,245.1"/></g>
<g stroke="#111" stroke-width="2.6" fill="none" stroke-linejoin="miter" stroke-linecap="butt">
<polyline points="62,81.4 62,192.8 66.3,194.6"/>
<polyline points="410,78 410,188 414,189.8"/>
</g>
<rect x="60.6" y="23.4" width="33.8" height="33.4" rx="1.5" fill="#000"/>
<rect x="405.6" y="23.4" width="33.8" height="33.4" rx="1.5" fill="#000"/>
<text class="lab" x="77.8" y="47.9" text-anchor="middle">a</text>
<text class="lab" x="423" y="47.9" text-anchor="middle">b</text>
<text x="53.8" y="85.7" text-anchor="end" >3</text>
<text x="53.8" y="122.8" text-anchor="end" >2</text>
<text x="53.8" y="160" text-anchor="end" >1</text>
<text x="53.8" y="197.2" text-anchor="end" >0</text>
<text x="59.3" y="216.3" text-anchor="end" >1</text>
<text x="122.2" y="243" text-anchor="end" >0.6</text>
<text x="184.2" y="265.2" text-anchor="end" >0.2</text>
<text x="201.3" y="277" text-anchor="end" >0</text>
<text x="209" y="277" text-anchor="start" >0</text>
<text x="235" y="263" text-anchor="start" >100</text>
<text x="285.2" y="242.4" text-anchor="start" >200</text>
<text x="324.5" y="224.3" text-anchor="start" >300</text>
<text x="104" y="267.6" text-anchor="middle" >α/°</text>
<text x="314" y="274" text-anchor="middle" >β/°</text>
<text transform="translate(33.5,128.5) rotate(-90)" text-anchor="middle">PV/μm</text>
<text x="404" y="80.3" text-anchor="end" >6</text>
<text x="404" y="117.7" text-anchor="end" >4</text>
<text x="404" y="153.8" text-anchor="end" >2</text>
<text x="404" y="191" text-anchor="end" >0</text>
<text x="405.5" y="211.6" text-anchor="end" >1</text>
<text x="445.4" y="226.3" text-anchor="end" >0.8</text>
<text x="491.2" y="247.2" text-anchor="end" >0.4</text>
<text x="537.3" y="268" text-anchor="end" >0</text>
<text x="546.5" y="268" text-anchor="start" >10</text>
<text x="581.5" y="253" text-anchor="start" >15</text>
<text x="614.3" y="239.5" text-anchor="start" >20</text>
<text x="646.7" y="226.7" text-anchor="start" >25</text>
<text x="678.8" y="211.8" text-anchor="start" >30</text>
<text x="467.7" y="270.2" text-anchor="middle" >α/°</text>
<text transform="translate(383.3,129.4) rotate(-90)" text-anchor="middle">PV/μm</text>
<text transform="translate(599.6,274.2) rotate(-23.4)">r<tspan font-size="17" dx="0.8" dy="8.5">d</tspan><tspan dy="-8.5">/mm</tspan></text>
</svg>
</body></html>
